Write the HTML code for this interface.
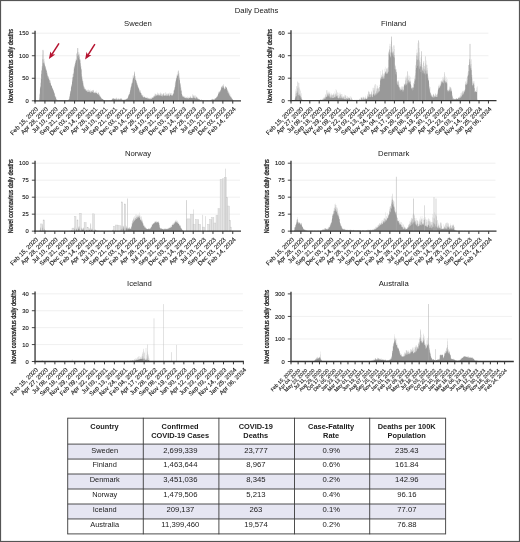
<!DOCTYPE html>
<html lang="en"><head><meta charset="utf-8"><title>Daily Deaths</title>
<style>html,body{margin:0;padding:0;background:#fff}svg{display:block}</style></head>
<body>
<svg width="520" height="542" viewBox="0 0 520 542" font-family="'Liberation Sans', Arial, Helvetica, sans-serif">
<rect x="0" y="0" width="520" height="542" fill="#fff"/>
<line x1="35.05" y1="78.27" x2="240" y2="78.27" stroke="#ececec" stroke-width="0.8"/>
<line x1="35.05" y1="55.73" x2="240" y2="55.73" stroke="#ececec" stroke-width="0.8"/>
<line x1="35.05" y1="33.2" x2="240" y2="33.2" stroke="#ececec" stroke-width="0.8"/>
<path d="M35.05 100.8V100.8H35.19V100.8H35.32V100.8H35.46V100.8H35.59V100.8H35.73V100.8H35.86V100.8H36V100.8H36.13V100.8H36.27V100.8H36.4V100.8H36.54V100.8H36.67V100.8H36.81V100.8H36.95V100.8H37.08V100.8H37.22V100.8H37.35V100.8H37.49V100.8H37.62V100.8H37.76V100.8H37.89V100.8H38.03V100.8H38.16V100.8H38.3V100.8H38.44V100.8H38.57V100.8H38.71V100.8H38.84V100.8H38.98V100.8H39.11V100.8H39.25V99.17H39.38V97.52H39.52V94.6H39.65V94.13H39.79V93.2H39.92V89.36H40.06V87.43H40.2V87.63H40.33V87.06H40.47V85.93H40.6V83.17H40.74V82.59H40.87V78.63H41.01V78.95H41.14V74.15H41.28V69.93H41.41V73.73H41.55V70.39H41.69V66.22H41.82V70.79H41.96V68.36H42.09V65.69H42.23V66.46H42.36V63.37H42.5V54.6H42.63V59.27H42.77V59.08H42.9V50.36H43.04V50.93H43.17V59.17H43.31V59.62H43.45V62.78H43.58V62.39H43.72V62.81H43.85V63.46H43.99V62.84H44.12V61.13H44.26V62.85H44.39V64.3H44.53V65.48H44.66V58.87H44.8V64.62H44.93V67.87H45.07V67.23H45.21V65.61H45.34V66.19H45.48V68.71H45.61V69.68H45.75V66.62H45.88V66.3H46.02V71.02H46.15V70.31H46.29V69.82H46.42V73.05H46.56V68.81H46.7V69.84H46.83V70.94H46.97V74.52H47.1V76.18H47.24V76.22H47.37V75.14H47.51V73.34H47.64V72.13H47.78V74.46H47.91V78.14H48.05V78.62H48.18V75.89H48.32V76.46H48.46V76.9H48.59V79.09H48.73V76.47H48.86V78.59H49V79.86H49.13V79.9H49.27V78.65H49.4V80.03H49.54V81.11H49.67V82.92H49.81V79.31H49.95V82.03H50.08V79.94H50.22V82.96H50.35V84.67H50.49V81.03H50.62V82.66H50.76V83.37H50.89V83.7H51.03V85.48H51.16V85.29H51.3V85.9H51.43V85.51H51.57V86.34H51.71V85.31H51.84V86.1H51.98V86.88H52.11V87.99H52.25V88.26H52.38V88.18H52.52V88.91H52.65V87.78H52.79V89.32H52.92V88.73H53.06V90.28H53.2V90.92H53.33V89.67H53.47V90.54H53.6V90.04H53.74V91.57H53.87V92.1H54.01V92.84H54.14V92.85H54.28V92.71H54.41V92.79H54.55V94.01H54.68V94.18H54.82V95.94H54.96V96.47H55.09V96.55H55.23V95.48H55.36V97.12H55.5V96.96H55.63V96.34H55.77V97.96H55.9V98.26H56.04V97.36H56.17V99.07H56.31V99.14H56.44V99.69H56.58V99.53H56.72V99.71H56.85V100.02H56.99V99.75H57.12V100.04H57.26V99.66H57.39V100.19H57.53V100.2H57.66V100.25H57.8V100.19H57.93V100.07H58.07V100.32H58.21V100.19H58.34V100.37H58.48V100.14H58.61V100.32H58.75V100.15H58.88V100.33H59.02V100.33H59.15V100.27H59.29V100.18H59.42V100.34H59.56V100.24H59.69V100.36H59.83V100.36H59.97V100.32H60.1V100.11H60.24V100.26H60.37V100.32H60.51V100.35H60.64V100.1H60.78V100.33H60.91V100H61.05V100.05H61.18V100.22H61.32V100.28H61.46V100.1H61.59V100.28H61.73V100.11H61.86V100.29H62V100.37H62.13V100.33H62.27V100.34H62.4V100.33H62.54V99.99H62.67V100.33H62.81V100.31H62.94V100.34H63.08V100.29H63.22V99.92H63.35V100.3H63.49V100.31H63.62V100.36H63.76V100.25H63.89V100.33H64.03V100.36H64.16V100.35H64.3V100.37H64.43V100.32H64.57V100.19H64.7V100.08H64.84V100.09H64.98V100.29H65.11V99.95H65.25V100.1H65.38V100.33H65.52V99.98H65.65V100.08H65.79V100.34H65.92V100.21H66.06V100.03H66.19V100.17H66.33V100.12H66.47V100.35H66.6V100.35H66.74V100.33H66.87V100.2H67.01V100.16H67.14V100.27H67.28V100.04H67.41V100.23H67.55V100.19H67.68V100.13H67.82V100.36H67.95V100.11H68.09V99.89H68.23V99.98H68.36V99.83H68.5V99.47H68.63V99.54H68.77V99.68H68.9V99.13H69.04V99.22H69.17V98.77H69.31V97.43H69.44V96.85H69.58V96.27H69.72V95.82H69.85V94.24H69.99V92.55H70.12V93.8H70.26V91.36H70.39V92.22H70.53V91.06H70.66V90.75H70.8V90.16H70.93V88.06H71.07V87.09H71.2V85.56H71.34V86.16H71.48V86.38H71.61V85.27H71.75V84.25H71.88V83.81H72.02V81.65H72.15V81.26H72.29V79.88H72.42V76.9H72.56V77.33H72.69V78.27H72.83V74.01H72.97V76.48H73.1V76.96H73.24V73.93H73.37V72.44H73.51V73.91H73.64V72.75H73.78V69.76H73.91V66.99H74.05V67.32H74.18V66.06H74.32V68.76H74.45V66.3H74.59V64.6H74.73V68.29H74.86V64.21H75V65.06H75.13V63.15H75.27V60.95H75.4V62.19H75.54V61.52H75.67V63.11H75.81V58.76H75.94V60.48H76.08V53.19H76.21V60.07H76.35V60.6H76.49V59.73H76.62V58.67H76.76V53.35H76.89V54.08H77.03V55.11H77.16V55.79H77.3V56.43H77.43V51.27H77.57V52.13H77.7V51.89H77.84V56.11H77.98V54.84H78.11V48.19H78.25V54.41H78.38V55.45H78.52V52.27H78.65V57.95H78.79V54.45H78.92V51.97H79.06V54.38H79.19V60.45H79.33V56.74H79.46V53.6H79.6V56.42H79.74V59.07H79.87V59.44H80.01V58.94H80.14V60.6H80.28V63.11H80.41V59.64H80.55V65.57H80.68V63.53H80.82V67.04H80.95V68.38H81.09V69.15H81.23V66.09H81.36V68.83H81.5V74.26H81.63V70.21H81.77V77.52H81.9V76.33H82.04V78.7H82.17V76.42H82.31V81.16H82.44V80.65H82.58V80.55H82.71V79.31H82.85V82.75H82.99V80.84H83.12V82.72H83.26V84.47H83.39V84.73H83.53V86.34H83.66V87.22H83.8V85.93H83.93V88.73H84.07V87.96H84.2V89.51H84.34V89.2H84.47V86.46H84.61V87.18H84.75V87.52H84.88V88.95H85.02V89.06H85.15V88.98H85.29V89.93H85.42V90.76H85.56V90.34H85.69V88.82H85.83V88.81H85.96V90.07H86.1V89.4H86.24V91.08H86.37V90.37H86.51V91.41H86.64V90.26H86.78V90.88H86.91V91.01H87.05V92.28H87.18V90.2H87.32V90.07H87.45V91.86H87.59V89.57H87.72V91.53H87.86V91.96H88V91.71H88.13V89.75H88.27V90.44H88.4V91.94H88.54V89.15H88.67V91.99H88.81V91.65H88.94V90.31H89.08V90.18H89.21V90.05H89.35V91.43H89.49V92.12H89.62V91.11H89.76V91.93H89.89V92.6H90.03V92.29H90.16V91.56H90.3V89.54H90.43V92.64H90.57V92.42H90.7V91.05H90.84V92.41H90.97V91.17H91.11V90.44H91.25V91.66H91.38V90.68H91.52V91.76H91.65V91.3H91.79V92.72H91.92V92.23H92.06V91.84H92.19V91.72H92.33V92.21H92.46V90.5H92.6V90.2H92.74V91.73H92.87V90.06H93.01V93H93.14V93.08H93.28V89.74H93.41V90.29H93.55V90.57H93.68V92.4H93.82V90.59H93.95V91.66H94.09V92.91H94.22V93.16H94.36V92.66H94.5V91.96H94.63V93.15H94.77V91.91H94.9V93H95.04V90.99H95.17V93.41H95.31V92.53H95.44V92.24H95.58V92.83H95.71V92.8H95.85V92.4H95.98V92.81H96.12V92.96H96.26V90.48H96.39V93.36H96.53V92.27H96.66V93.34H96.8V92.95H96.93V93.05H97.07V93.66H97.2V94.05H97.34V92.6H97.47V94.18H97.61V94H97.75V94.6H97.88V93.47H98.02V94.68H98.15V92.54H98.29V95.07H98.42V92.06H98.56V94.81H98.69V92.97H98.83V92.98H98.96V93.9H99.1V94.22H99.23V95.16H99.37V94.51H99.51V96.11H99.64V95.78H99.78V96.63H99.91V95.28H100.05V96.87H100.18V96.13H100.32V96.03H100.45V96.7H100.59V96.95H100.72V97.45H100.86V97.61H101V97.82H101.13V98.24H101.27V98.09H101.4V97.48H101.54V98.41H101.67V98.55H101.81V98.88H101.94V99.01H102.08V98.9H102.21V98.86H102.35V98.68H102.48V99.29H102.62V99.37H102.76V98.94H102.89V99.09H103.03V99.41H103.16V99.9H103.3V99.78H103.43V99.51H103.57V99.63H103.7V100.17H103.84V99.9H103.97V99.84H104.11V100H104.25V100.2H104.38V100.38H104.52V100.35H104.65V100.49H104.79V100.5H104.92V100.45H105.06V100.56H105.19V100.57H105.33V100.49H105.46V100.4H105.6V100.49H105.73V100.56H105.87V100.49H106.01V100.44H106.14V100.35H106.28V100.54H106.41V100.54H106.55V100.47H106.68V100.43H106.82V100.46H106.95V100.49H107.09V100.57H107.22V100.58H107.36V100.49H107.49V100.5H107.63V100.58H107.77V100.5H107.9V100.58H108.04V100.58H108.17V100.56H108.31V100.51H108.44V100.49H108.58V100.56H108.71V100.57H108.85V100.57H108.98V100.39H109.12V100.55H109.26V100.57H109.39V100.51H109.53V100.48H109.66V100.36H109.8V100.55H109.93V100.57H110.07V100.55H110.2V100.57H110.34V100.57H110.47V100.39H110.61V100.56H110.74V100.51H110.88V100.44H111.02V100.49H111.15V100.39H111.29V99.92H111.42V100.18H111.56V99.62H111.69V99.45H111.83V99.89H111.96V99.79H112.1V99.5H112.23V98.74H112.37V98.68H112.51V98.91H112.64V98.3H112.78V99.29H112.91V97.82H113.05V98.15H113.18V99.37H113.32V98.26H113.45V98.42H113.59V98H113.72V99.26H113.86V98.61H113.99V98.43H114.13V98.93H114.27V98.36H114.4V99.01H114.54V98.82H114.67V99.33H114.81V99.37H114.94V99.48H115.08V99.35H115.21V99.26H115.35V99.52H115.48V98.36H115.62V98.3H115.75V99.42H115.89V99.09H116.03V97.84H116.16V99.43H116.3V97.55H116.43V99.58H116.57V99.63H116.7V98.03H116.84V98.75H116.97V98.93H117.11V99.75H117.24V98.7H117.38V99.59H117.52V99.83H117.65V99.66H117.79V99.64H117.92V98.22H118.06V98.53H118.19V99.87H118.33V99.44H118.46V99.56H118.6V99.3H118.73V98.47H118.87V98.54H119V99.78H119.14V98.44H119.28V99.7H119.41V99.13H119.55V99.59H119.68V99.33H119.82V99.4H119.95V99.47H120.09V98.53H120.22V99.51H120.36V99.48H120.49V98.37H120.63V98.66H120.77V99.14H120.9V97.83H121.04V97.94H121.17V99.5H121.31V97.99H121.44V99.34H121.58V99.65H121.71V99.27H121.85V98.9H121.98V99.76H122.12V99.91H122.25V99.41H122.39V100.07H122.53V99.45H122.66V100.21H122.8V99.55H122.93V100.33H123.07V99.84H123.2V100.31H123.34V100.24H123.47V100.03H123.61V100.16H123.74V99.21H123.88V100.16H124.02V100.18H124.15V99.06H124.29V99.56H124.42V100.07H124.56V100.12H124.69V99.96H124.83V99.84H124.96V99.46H125.1V99.54H125.23V99.97H125.37V99.75H125.5V98.92H125.64V99.47H125.78V99.72H125.91V99.13H126.05V98.96H126.18V98.67H126.32V99.07H126.45V99.42H126.59V99.5H126.72V98.39H126.86V98.76H126.99V98.97H127.13V98.54H127.26V98.17H127.4V98.92H127.54V97.65H127.67V97.77H127.81V98.05H127.94V97.57H128.08V95.41H128.21V97.01H128.35V95.89H128.48V95.65H128.62V94.25H128.75V94.97H128.89V95.14H129.03V94.41H129.16V94.31H129.3V94.35H129.43V93.89H129.57V93.59H129.7V92.21H129.84V92.3H129.97V91.5H130.11V88.39H130.24V90.34H130.38V90.19H130.51V89.39H130.65V86.75H130.79V87.88H130.92V87.33H131.06V86.97H131.19V83.95H131.33V86.05H131.46V85.49H131.6V82.91H131.73V82.38H131.87V84.16H132V83.58H132.14V82.63H132.28V82.75H132.41V81.6H132.55V80.29H132.68V79.36H132.82V75.6H132.95V79.08H133.09V75H133.22V77.94H133.36V78.08H133.49V76.64H133.63V76.32H133.76V77.85H133.9V75.32H134.04V76.42H134.17V71.01H134.31V74.05H134.44V73.45H134.58V73.28H134.71V73.25H134.85V76.49H134.98V75.88H135.12V76.32H135.25V78.09H135.39V79.78H135.52V79.83H135.66V80.2H135.8V79.75H135.93V79.21H136.07V80.86H136.2V81.29H136.34V80.43H136.47V82.94H136.61V81.78H136.74V82.7H136.88V84.61H137.01V82.89H137.15V84.33H137.29V85.13H137.42V84.74H137.56V84.78H137.69V85.95H137.83V86.89H137.96V86.32H138.1V87.89H138.23V87.66H138.37V87H138.5V87.16H138.64V88.89H138.77V88.21H138.91V88.35H139.05V90.18H139.18V90.19H139.32V89.38H139.45V90.89H139.59V89.28H139.72V91.97H139.86V92.39H139.99V89.94H140.13V91.19H140.26V90.61H140.4V92.13H140.54V92.19H140.67V92.93H140.81V93.04H140.94V93.31H141.08V94.94H141.21V92.91H141.35V94.04H141.48V93.24H141.62V94.79H141.75V95.42H141.89V95.58H142.02V94.65H142.16V96.11H142.3V96.53H142.43V94.91H142.57V94.77H142.7V96.94H142.84V96.03H142.97V95.06H143.11V97.06H143.24V96.53H143.38V97.5H143.51V97.32H143.65V97.21H143.78V97.32H143.92V97.68H144.06V96.61H144.19V96.65H144.33V97.56H144.46V96.48H144.6V96.86H144.73V96.9H144.87V97.24H145V97.6H145.14V97.14H145.27V97.94H145.41V96.92H145.55V97.81H145.68V97.95H145.82V97.88H145.95V97.93H146.09V97.83H146.22V98.18H146.36V98.06H146.49V97.69H146.63V98.08H146.76V96.73H146.9V98.03H147.03V98.44H147.17V97.62H147.31V98.44H147.44V96.9H147.58V98.19H147.71V98.36H147.85V98.54H147.98V98.15H148.12V97.92H148.25V99H148.39V98.68H148.52V97.85H148.66V98.99H148.8V97.98H148.93V98.71H149.07V98.01H149.2V98.43H149.34V99.18H149.47V98.81H149.61V99.25H149.74V98.28H149.88V98.89H150.01V99.18H150.15V99.21H150.28V98.42H150.42V99.16H150.56V98.39H150.69V98.51H150.83V97.87H150.96V98.62H151.1V98.94H151.23V98.76H151.37V98.58H151.5V98.48H151.64V98.76H151.77V97.06H151.91V98.5H152.05V97.6H152.18V97.89H152.32V98.08H152.45V98.16H152.59V96.94H152.72V97.71H152.86V97.08H152.99V96.26H153.13V96.42H153.26V97.84H153.4V97.72H153.53V97.71H153.67V96.59H153.81V96.64H153.94V95.6H154.08V96.29H154.21V96.69H154.35V96.63H154.48V95.39H154.62V95.5H154.75V96.13H154.89V93.42H155.02V96.39H155.16V96.13H155.29V93.56H155.43V94.51H155.57V94.15H155.7V94.49H155.84V96.22H155.97V93.92H156.11V94.69H156.24V94.63H156.38V95.93H156.51V95.84H156.65V95.26H156.78V95.78H156.92V94.57H157.06V94.19H157.19V95.34H157.33V95.13H157.46V92.56H157.6V95.46H157.73V95.14H157.87V92.75H158V94.79H158.14V93.02H158.27V94.34H158.41V95.61H158.54V93.65H158.68V95.25H158.82V95.39H158.95V95.68H159.09V93.26H159.22V95.59H159.36V95.08H159.49V95.4H159.63V95.52H159.76V94.42H159.9V95.16H160.03V95.81H160.17V95.1H160.31V91.9H160.44V96.05H160.58V93.5H160.71V94.28H160.85V93.07H160.98V93.87H161.12V96.32H161.25V93.62H161.39V96.08H161.52V93.46H161.66V95.3H161.79V95.99H161.93V94.7H162.07V96.48H162.2V94.92H162.34V96.14H162.47V94.71H162.61V93.72H162.74V96.3H162.88V94.27H163.01V94.58H163.15V93.84H163.28V93.16H163.42V95.53H163.56V92.99H163.69V93.42H163.83V95.75H163.96V95.76H164.1V95.46H164.23V96.02H164.37V95.24H164.5V95.82H164.64V93.06H164.77V95.44H164.91V95.22H165.04V95.71H165.18V92.32H165.32V94.84H165.45V95.09H165.59V92.41H165.72V95.97H165.86V95.4H165.99V96.09H166.13V94.15H166.26V95.82H166.4V94.55H166.53V94.27H166.67V92.72H166.8V96.15H166.94V95H167.08V95.9H167.21V95.58H167.35V94.37H167.48V95.89H167.62V94.16H167.75V93.03H167.89V95.53H168.02V93.36H168.16V95.22H168.29V93.96H168.43V96H168.57V95.12H168.7V93.38H168.84V93.4H168.97V96.16H169.11V92.39H169.24V96.03H169.38V94.86H169.51V95.51H169.65V95.58H169.78V96.47H169.92V92.64H170.05V93H170.19V93.59H170.33V93.86H170.46V94.89H170.6V94.7H170.73V94.77H170.87V94.91H171V95.13H171.14V93.2H171.27V95.5H171.41V95.75H171.54V92.94H171.68V95.57H171.82V95.11H171.95V95.87H172.09V95.45H172.22V95.53H172.36V95.51H172.49V93.43H172.63V94.46H172.76V95.19H172.9V94.79H173.03V93.97H173.17V94.37H173.3V93.73H173.44V92.82H173.58V92.92H173.71V90.31H173.85V90.73H173.98V90.3H174.12V89.96H174.25V90.52H174.39V87.04H174.52V89.09H174.66V87.35H174.79V88.23H174.93V83.49H175.06V86.81H175.2V85.17H175.34V83.13H175.47V81.97H175.61V81.25H175.74V81.03H175.88V79.59H176.01V79.5H176.15V79.45H176.28V77.88H176.42V77.63H176.55V78.05H176.69V74.75H176.83V76.61H176.96V76.48H177.1V75.2H177.23V75.63H177.37V75.96H177.5V71.83H177.64V74.37H177.77V75.31H177.91V74.11H178.04V74.03H178.18V71.16H178.31V70.47H178.45V72.41H178.59V73.77H178.72V77.74H178.86V75.66H178.99V73.06H179.13V75.54H179.26V77.62H179.4V77.66H179.53V79.57H179.67V79.79H179.8V80.39H179.94V83.65H180.08V83.66H180.21V83.37H180.35V82.83H180.48V86.54H180.62V85.05H180.75V88.02H180.89V90.67H181.02V87.36H181.16V91.34H181.29V89.42H181.43V90.11H181.56V91.05H181.7V93.99H181.84V93.68H181.97V95.07H182.11V94.38H182.24V95.39H182.38V95.88H182.51V96.25H182.65V96.55H182.78V97.02H182.92V95.34H183.05V96.23H183.19V96.55H183.32V96.98H183.46V96.39H183.6V96.64H183.73V97.52H183.87V96.4H184V97.66H184.14V96.86H184.27V96.7H184.41V97.93H184.54V96.59H184.68V96.82H184.81V97.99H184.95V97.88H185.09V97.41H185.22V97.77H185.36V98.12H185.49V97.38H185.63V97.91H185.76V98.45H185.9V96.4H186.03V98.2H186.17V97.1H186.3V97.53H186.44V97.81H186.57V98.44H186.71V97.41H186.85V98.2H186.98V97.86H187.12V98.49H187.25V98.32H187.39V96.23H187.52V97.87H187.66V97.84H187.79V98.25H187.93V98.42H188.06V98.29H188.2V98.51H188.34V98.52H188.47V97.37H188.61V98.42H188.74V98.58H188.88V96.7H189.01V97.85H189.15V96.79H189.28V98.1H189.42V97.97H189.55V98.28H189.69V97.86H189.82V98.03H189.96V97.07H190.1V95.85H190.23V98.15H190.37V97.36H190.5V96.06H190.64V97.52H190.77V98.1H190.91V97.83H191.04V97.28H191.18V97.97H191.31V98.16H191.45V97.91H191.59V98.29H191.72V97.8H191.86V98.1H191.99V97.99H192.13V98.16H192.26V97.96H192.4V94.31H192.53V94.39H192.67V98.23H192.8V98.16H192.94V96.16H193.07V97.29H193.21V95.89H193.35V94.63H193.48V96.29H193.62V97.93H193.75V95.12H193.89V98.24H194.02V98.09H194.16V97.73H194.29V98.26H194.43V96.43H194.56V94.89H194.7V96.11H194.83V97.45H194.97V98.06H195.11V95.37H195.24V98.3H195.38V95.63H195.51V98.63H195.65V98.49H195.78V98.38H195.92V97.02H196.05V97.25H196.19V96.93H196.32V98.69H196.46V96.43H196.6V96.54H196.73V97.46H196.87V98.08H197V98.97H197.14V98.65H197.27V97.41H197.41V98.07H197.54V98.06H197.68V99.07H197.81V97.34H197.95V98.79H198.08V99.36H198.22V99.13H198.36V99.32H198.49V98.53H198.63V99.45H198.76V99.11H198.9V98.18H199.03V99.42H199.17V99.63H199.3V99.49H199.44V99.25H199.57V99.73H199.71V99.33H199.85V98.99H199.98V99.92H200.12V99.81H200.25V99.99H200.39V99.93H200.52V99.85H200.66V99.95H200.79V99.99H200.93V100.16H201.06V99.19H201.2V100.16H201.33V99.41H201.47V100.24H201.61V100.16H201.74V100.15H201.88V99.79H202.01V100.11H202.15V100.19H202.28V100.42H202.42V100.45H202.55V100.24H202.69V100.5H202.82V100.34H202.96V100.56H203.1V100.41H203.23V100.56H203.37V100.43H203.5V100.54H203.64V100.53H203.77V100.57H203.91V100.5H204.04V100.41H204.18V100.37H204.31V100.52H204.45V100.57H204.58V100.51H204.72V100.48H204.86V100.52H204.99V100.59H205.13V100.54H205.26V100.48H205.4V100.4H205.53V100.44H205.67V100.55H205.8V100.52H205.94V100.55H206.07V100.46H206.21V100.41H206.34V100.56H206.48V100.51H206.62V100.58H206.75V100.55H206.89V100.34H207.02V100.38H207.16V100.36H207.29V100.45H207.43V100.47H207.56V100.55H207.7V100.37H207.83V100.49H207.97V100.54H208.11V100.58H208.24V100.47H208.38V100.57H208.51V100.54H208.65V100.53H208.78V100.51H208.92V100.58H209.05V100.39H209.19V100.56H209.32V100.57H209.46V100.52H209.59V100.52H209.73V100.56H209.87V100.57H210V100.48H210.14V100.47H210.27V100.36H210.41V100.25H210.54V100.08H210.68V99.66H210.81V100.25H210.95V100.14H211.08V99.37H211.22V99.62H211.36V99.55H211.49V100H211.63V99.99H211.76V99.92H211.9V99.26H212.03V98.82H212.17V98.9H212.3V98.74H212.44V99.84H212.57V99.72H212.71V99.3H212.84V99.9H212.98V99.21H213.12V99.41H213.25V99.58H213.39V99.55H213.52V99.84H213.66V99.5H213.79V99.87H213.93V99.25H214.06V99.86H214.2V99.67H214.33V99.58H214.47V99.41H214.6V99.33H214.74V98.37H214.88V98.55H215.01V98.09H215.15V98.99H215.28V98.51H215.42V98.05H215.55V98.67H215.69V97.97H215.82V98.33H215.96V97.26H216.09V96.82H216.23V98.14H216.37V97.66H216.5V97.19H216.64V97.48H216.77V96.77H216.91V96.82H217.04V96.84H217.18V96.66H217.31V95.68H217.45V96.46H217.58V95.08H217.72V95.67H217.85V95.43H217.99V94.36H218.13V92.97H218.26V93.94H218.4V92.36H218.53V93.33H218.67V94.22H218.8V91.89H218.94V91.04H219.07V93.2H219.21V91.68H219.34V92H219.48V91.95H219.62V92.65H219.75V91.34H219.89V91.31H220.02V91.7H220.16V91.33H220.29V90.54H220.43V90.09H220.56V89.62H220.7V90.53H220.83V89.73H220.97V87.73H221.1V86.76H221.24V86.23H221.38V89.28H221.51V86.78H221.65V87.58H221.78V87.03H221.92V87.99H222.05V85.64H222.19V88.11H222.32V87.63H222.46V86.08H222.59V86.93H222.73V84.89H222.87V85.73H223V83.93H223.14V86.43H223.27V84.31H223.41V87.61H223.54V87.49H223.68V85.27H223.81V86.07H223.95V87.8H224.08V87.62H224.22V87.89H224.35V89.48H224.49V89.3H224.63V89.01H224.76V88.45H224.9V89.13H225.03V86.03H225.17V86.39H225.3V87.1H225.44V88.86H225.57V88.95H225.71V87.01H225.84V86.03H225.98V87.1H226.11V87.24H226.25V87.89H226.39V87.67H226.52V87.34H226.66V88.04H226.79V87.35H226.93V90.02H227.06V89.23H227.2V91.55H227.33V90.4H227.47V89.87H227.6V89.18H227.74V90.93H227.88V92.92H228.01V92.82H228.15V92.45H228.28V90.77H228.42V93.78H228.55V91.73H228.69V94.36H228.82V92.76H228.96V91.72H229.09V93.75H229.23V93.23H229.36V94.69H229.5V95.33H229.64V95.66H229.77V95.33H229.91V96.2H230.04V95.75H230.18V94.21H230.31V96.8H230.45V96.85H230.58V97.18H230.72V95.92H230.85V97.13H230.99V97.59H231.13V97.72H231.26V96.62H231.4V96.97H231.53V98.35H231.67V98.06H231.8V98.73H231.94V98.38H232.07V98.52H232.21V99.19H232.34V99.27H232.48V98.88H232.61V98.98H232.75V99.96H232.89V100.1H233.02V100.28H233.16V100.45H233.29V100.64H233.43V100.79H233.56V100.8H233.7V100.8H233.83V100.8H233.97V100.8H234.1V100.8H234.24V100.8H234.37V100.8H234.51V100.8H234.65V100.8H234.78V100.8H234.92V100.8H235.05V100.8H235.19V100.8H235.32V100.8H235.46V100.8H235.59V100.8H235.73V100.8H235.86V100.8H236V100.8H236.14V100.8H236.27V100.8H236.41V100.8H236.54V100.8H236.68V100.8H236.81V100.8H236.95V100.8H237.08V100.8H237.22V100.8H237.35V100.8H237.49V100.8H237.62V100.8H237.76V100.8H237.9V100.8H238.03V100.8H238.17V100.8H238.3V100.8H238.44V100.8H238.57V100.8H238.71V100.8H238.84V100.8H238.98V100.8H239.11V100.8H239.25V100.8H239.39V100.8H239.52V100.8H239.66V100.8H239.79V100.8H239.93V100.8H240.06V100.8H240.2V100.8H240.33V100.8H240.47V100.8H240.6V100.8H240.74V100.8H240.87V100.8Z" fill="#999999"/>
<rect x="42.7" y="49.87" width="0.6" height="50.93" fill="#b0b0b0"/>
<rect x="77.2" y="48.07" width="0.6" height="52.73" fill="#b0b0b0"/>
<rect x="134.05" y="71.96" width="0.5" height="28.84" fill="#b4b4b4"/>
<rect x="177.95" y="70.61" width="0.5" height="30.19" fill="#b4b4b4"/>
<line x1="35.05" y1="30.7" x2="35.05" y2="101.45" stroke="#333333" stroke-width="1.3"/>
<line x1="34.4" y1="100.8" x2="241" y2="100.8" stroke="#333333" stroke-width="1.3"/>
<line x1="31.85" y1="100.8" x2="35.05" y2="100.8" stroke="#333333" stroke-width="0.9"/>
<text transform="translate(28.75 102.9) scale(0.1)" font-size="58" text-anchor="end" stroke="#1a1a1a" stroke-width="1.2" fill="#1a1a1a">0</text>
<line x1="31.85" y1="78.27" x2="35.05" y2="78.27" stroke="#333333" stroke-width="0.9"/>
<text transform="translate(28.75 80.37) scale(0.1)" font-size="58" text-anchor="end" stroke="#1a1a1a" stroke-width="1.2" fill="#1a1a1a">50</text>
<line x1="31.85" y1="55.73" x2="35.05" y2="55.73" stroke="#333333" stroke-width="0.9"/>
<text transform="translate(28.75 57.83) scale(0.1)" font-size="58" text-anchor="end" stroke="#1a1a1a" stroke-width="1.2" fill="#1a1a1a">100</text>
<line x1="31.85" y1="33.2" x2="35.05" y2="33.2" stroke="#333333" stroke-width="0.9"/>
<text transform="translate(28.75 35.3) scale(0.1)" font-size="58" text-anchor="end" stroke="#1a1a1a" stroke-width="1.2" fill="#1a1a1a">150</text>
<line x1="35.05" y1="100.8" x2="35.05" y2="103.6" stroke="#333333" stroke-width="1"/>
<text transform="translate(38.45 109.6) rotate(-45) scale(0.1)" font-size="62" text-anchor="end" stroke="#1a1a1a" stroke-width="1.2" fill="#1a1a1a">Feb 15, 2020</text>
<line x1="44.93" y1="100.8" x2="44.93" y2="103.6" stroke="#333333" stroke-width="1"/>
<text transform="translate(48.33 109.6) rotate(-45) scale(0.1)" font-size="62" text-anchor="end" stroke="#1a1a1a" stroke-width="1.2" fill="#1a1a1a">Apr 28, 2020</text>
<line x1="54.82" y1="100.8" x2="54.82" y2="103.6" stroke="#333333" stroke-width="1"/>
<text transform="translate(58.22 109.6) rotate(-45) scale(0.1)" font-size="62" text-anchor="end" stroke="#1a1a1a" stroke-width="1.2" fill="#1a1a1a">Jul 10, 2020</text>
<line x1="64.7" y1="100.8" x2="64.7" y2="103.6" stroke="#333333" stroke-width="1"/>
<text transform="translate(68.11 109.6) rotate(-45) scale(0.1)" font-size="62" text-anchor="end" stroke="#1a1a1a" stroke-width="1.2" fill="#1a1a1a">Sep 21, 2020</text>
<line x1="74.59" y1="100.8" x2="74.59" y2="103.6" stroke="#333333" stroke-width="1"/>
<text transform="translate(77.99 109.6) rotate(-45) scale(0.1)" font-size="62" text-anchor="end" stroke="#1a1a1a" stroke-width="1.2" fill="#1a1a1a">Dec 03, 2020</text>
<line x1="84.47" y1="100.8" x2="84.47" y2="103.6" stroke="#333333" stroke-width="1"/>
<text transform="translate(87.88 109.6) rotate(-45) scale(0.1)" font-size="62" text-anchor="end" stroke="#1a1a1a" stroke-width="1.2" fill="#1a1a1a">Feb 14, 2021</text>
<line x1="94.36" y1="100.8" x2="94.36" y2="103.6" stroke="#333333" stroke-width="1"/>
<text transform="translate(97.76 109.6) rotate(-45) scale(0.1)" font-size="62" text-anchor="end" stroke="#1a1a1a" stroke-width="1.2" fill="#1a1a1a">Apr 28, 2021</text>
<line x1="104.24" y1="100.8" x2="104.24" y2="103.6" stroke="#333333" stroke-width="1"/>
<text transform="translate(107.64 109.6) rotate(-45) scale(0.1)" font-size="62" text-anchor="end" stroke="#1a1a1a" stroke-width="1.2" fill="#1a1a1a">Jul 10, 2021</text>
<line x1="114.13" y1="100.8" x2="114.13" y2="103.6" stroke="#333333" stroke-width="1"/>
<text transform="translate(117.53 109.6) rotate(-45) scale(0.1)" font-size="62" text-anchor="end" stroke="#1a1a1a" stroke-width="1.2" fill="#1a1a1a">Sep 21, 2021</text>
<line x1="124.02" y1="100.8" x2="124.02" y2="103.6" stroke="#333333" stroke-width="1"/>
<text transform="translate(127.42 109.6) rotate(-45) scale(0.1)" font-size="62" text-anchor="end" stroke="#1a1a1a" stroke-width="1.2" fill="#1a1a1a">Dec 03, 2021</text>
<line x1="133.9" y1="100.8" x2="133.9" y2="103.6" stroke="#333333" stroke-width="1"/>
<text transform="translate(137.3 109.6) rotate(-45) scale(0.1)" font-size="62" text-anchor="end" stroke="#1a1a1a" stroke-width="1.2" fill="#1a1a1a">Feb 14, 2022</text>
<line x1="143.78" y1="100.8" x2="143.78" y2="103.6" stroke="#333333" stroke-width="1"/>
<text transform="translate(147.19 109.6) rotate(-45) scale(0.1)" font-size="62" text-anchor="end" stroke="#1a1a1a" stroke-width="1.2" fill="#1a1a1a">Apr 28, 2022</text>
<line x1="153.67" y1="100.8" x2="153.67" y2="103.6" stroke="#333333" stroke-width="1"/>
<text transform="translate(157.07 109.6) rotate(-45) scale(0.1)" font-size="62" text-anchor="end" stroke="#1a1a1a" stroke-width="1.2" fill="#1a1a1a">Jul 10, 2022</text>
<line x1="163.56" y1="100.8" x2="163.56" y2="103.6" stroke="#333333" stroke-width="1"/>
<text transform="translate(166.96 109.6) rotate(-45) scale(0.1)" font-size="62" text-anchor="end" stroke="#1a1a1a" stroke-width="1.2" fill="#1a1a1a">Sep 21, 2022</text>
<line x1="173.44" y1="100.8" x2="173.44" y2="103.6" stroke="#333333" stroke-width="1"/>
<text transform="translate(176.84 109.6) rotate(-45) scale(0.1)" font-size="62" text-anchor="end" stroke="#1a1a1a" stroke-width="1.2" fill="#1a1a1a">Dec 03, 2022</text>
<line x1="183.32" y1="100.8" x2="183.32" y2="103.6" stroke="#333333" stroke-width="1"/>
<text transform="translate(186.72 109.6) rotate(-45) scale(0.1)" font-size="62" text-anchor="end" stroke="#1a1a1a" stroke-width="1.2" fill="#1a1a1a">Feb 14, 2023</text>
<line x1="193.21" y1="100.8" x2="193.21" y2="103.6" stroke="#333333" stroke-width="1"/>
<text transform="translate(196.61 109.6) rotate(-45) scale(0.1)" font-size="62" text-anchor="end" stroke="#1a1a1a" stroke-width="1.2" fill="#1a1a1a">Apr 28, 2023</text>
<line x1="203.09" y1="100.8" x2="203.09" y2="103.6" stroke="#333333" stroke-width="1"/>
<text transform="translate(206.49 109.6) rotate(-45) scale(0.1)" font-size="62" text-anchor="end" stroke="#1a1a1a" stroke-width="1.2" fill="#1a1a1a">Jul 10, 2023</text>
<line x1="212.98" y1="100.8" x2="212.98" y2="103.6" stroke="#333333" stroke-width="1"/>
<text transform="translate(216.38 109.6) rotate(-45) scale(0.1)" font-size="62" text-anchor="end" stroke="#1a1a1a" stroke-width="1.2" fill="#1a1a1a">Sep 21, 2023</text>
<line x1="222.87" y1="100.8" x2="222.87" y2="103.6" stroke="#333333" stroke-width="1"/>
<text transform="translate(226.27 109.6) rotate(-45) scale(0.1)" font-size="62" text-anchor="end" stroke="#1a1a1a" stroke-width="1.2" fill="#1a1a1a">Dec 03, 2023</text>
<line x1="232.75" y1="100.8" x2="232.75" y2="103.6" stroke="#333333" stroke-width="1"/>
<text transform="translate(236.15 109.6) rotate(-45) scale(0.1)" font-size="62" text-anchor="end" stroke="#1a1a1a" stroke-width="1.2" fill="#1a1a1a">Feb 14, 2024</text>
<text transform="translate(13.25 66) rotate(-90) scale(0.1)" font-size="63" text-anchor="middle" textLength="740" lengthAdjust="spacingAndGlyphs" stroke="#1a1a1a" stroke-width="2.5" fill="#1a1a1a">Novel coronavirus daily deaths</text>
<text transform="translate(138 25.5) scale(0.1)" font-size="77" text-anchor="middle" fill="#1a1a1a">Sweden</text>
<line x1="291" y1="78.2" x2="488.4" y2="78.2" stroke="#ececec" stroke-width="0.8"/>
<line x1="291" y1="55.7" x2="488.4" y2="55.7" stroke="#ececec" stroke-width="0.8"/>
<line x1="291" y1="33.2" x2="488.4" y2="33.2" stroke="#ececec" stroke-width="0.8"/>
<path d="M291 100.7V100.7H291.13V100.7H291.26V100.7H291.39V100.7H291.52V100.7H291.65V100.7H291.78V100.7H291.91V100.7H292.04V100.7H292.18V100.7H292.31V100.7H292.44V100.7H292.57V100.7H292.7V100.7H292.83V100.7H292.96V100.7H293.09V100.7H293.22V100.7H293.35V100.7H293.48V100.7H293.61V100.7H293.74V100.7H293.87V100.7H294V100.7H294.13V100.7H294.26V100.7H294.4V100.7H294.53V100.19H294.66V100.11H294.79V98.27H294.92V99.1H295.05V98.32H295.18V96.31H295.31V97.39H295.44V93.82H295.57V96.73H295.7V91.28H295.83V89.16H295.96V95.79H296.09V96.16H296.22V90.65H296.35V93.19H296.48V86.16H296.62V96.61H296.75V92.84H296.88V85.81H297.01V91.65H297.14V92.47H297.27V90.98H297.4V88.27H297.53V93.18H297.66V88.27H297.79V86.15H297.92V95.28H298.05V94.98H298.18V95.27H298.31V86.66H298.44V94.87H298.57V87.92H298.7V95.27H298.83V92.74H298.97V82.96H299.1V87.15H299.23V94.43H299.36V96.21H299.49V95.57H299.62V95.5H299.75V88.83H299.88V94.03H300.01V97.45H300.14V89.8H300.27V91.11H300.4V97.63H300.53V95.41H300.66V96.27H300.79V95.67H300.92V94.14H301.05V93.09H301.19V99.19H301.32V97.38H301.45V97.55H301.58V99.13H301.71V99.31H301.84V97.37H301.97V99.26H302.1V99.61H302.23V100.46H302.36V99.98H302.49V99.88H302.62V100.26H302.75V99.75H302.88V99.97H303.01V100.16H303.14V100.58H303.27V99.99H303.41V99.88H303.54V100.68H303.67V100.04H303.8V100.49H303.93V100.6H304.06V100.25H304.19V100.69H304.32V100.7H304.45V100.6H304.58V100.38H304.71V100.41H304.84V100.05H304.97V100.16H305.1V100.16H305.23V100.56H305.36V100.56H305.49V100.65H305.63V100.69H305.76V100.32H305.89V100.39H306.02V100.28H306.15V100.15H306.28V100.18H306.41V100.63H306.54V100.37H306.67V100.26H306.8V100.55H306.93V100.5H307.06V100.69H307.19V100.65H307.32V100.39H307.45V100.36H307.58V100.53H307.71V100.64H307.85V100.54H307.98V100.65H308.11V100.67H308.24V100.68H308.37V100.66H308.5V100.58H308.63V100.57H308.76V100.55H308.89V100.7H309.02V100.69H309.15V100.69H309.28V100.64H309.41V100.52H309.54V100.68H309.67V100.64H309.8V100.4H309.93V100.69H310.07V100.4H310.2V100.58H310.33V100.69H310.46V100.68H310.59V100.58H310.72V100.67H310.85V100.67H310.98V100.66H311.11V100.57H311.24V100.7H311.37V100.57H311.5V100.54H311.63V100.66H311.76V100.68H311.89V100.7H312.02V100.56H312.15V100.36H312.29V100.53H312.42V100.51H312.55V100.47H312.68V100.66H312.81V100.29H312.94V100.5H313.07V100.39H313.2V100.38H313.33V100.32H313.46V100.29H313.59V100.6H313.72V100.66H313.85V100.47H313.98V100.63H314.11V100.67H314.24V100.62H314.37V100.2H314.5V100.56H314.64V100.36H314.77V100.39H314.9V100.67H315.03V100.31H315.16V100.69H315.29V100.62H315.42V100.21H315.55V100.4H315.68V100.31H315.81V100.25H315.94V100.31H316.07V100.49H316.2V100.31H316.33V100.29H316.46V100.2H316.59V100.24H316.72V100.18H316.86V100.65H316.99V100.66H317.12V100.56H317.25V100.53H317.38V100.4H317.51V100.58H317.64V100.32H317.77V100.18H317.9V100.58H318.03V100.4H318.16V100.58H318.29V100.19H318.42V100.66H318.55V100.65H318.68V100.14H318.81V100.31H318.94V100.5H319.08V100.46H319.21V100.24H319.34V100.57H319.47V100.1H319.6V100.1H319.73V100.52H319.86V100.53H319.99V100.48H320.12V99.61H320.25V100.41H320.38V100.01H320.51V100.26H320.64V99.46H320.77V99.41H320.9V99.66H321.03V100.08H321.16V100.35H321.3V100.07H321.43V100.29H321.56V100.37H321.69V99.37H321.82V100.09H321.95V99.21H322.08V100.3H322.21V99.86H322.34V99.95H322.47V99.46H322.6V99.57H322.73V98.55H322.86V99.71H322.99V100.04H323.12V98.91H323.25V99.41H323.38V98H323.52V98.59H323.65V99.59H323.78V97.34H323.91V99.73H324.04V98.83H324.17V99.15H324.3V98.42H324.43V97.87H324.56V98.58H324.69V96.47H324.82V97.25H324.95V98.79H325.08V97.14H325.21V98.76H325.34V97.03H325.47V95.49H325.6V98.38H325.74V94.03H325.87V94.74H326V97.27H326.13V96.95H326.26V90.1H326.39V97.03H326.52V90.57H326.65V96.22H326.78V97.25H326.91V95.78H327.04V90.23H327.17V96.61H327.3V95.08H327.43V93.43H327.56V96.41H327.69V92.45H327.82V94.27H327.96V92.69H328.09V95.68H328.22V94.81H328.35V93.93H328.48V92.72H328.61V91.56H328.74V95.73H328.87V96.63H329V97.26H329.13V92.53H329.26V95.66H329.39V97.48H329.52V93.87H329.65V94.33H329.78V93.41H329.91V91.51H330.04V96.93H330.18V93.66H330.31V97.6H330.44V96.04H330.57V94.93H330.7V98.17H330.83V98.36H330.96V96.53H331.09V95.53H331.22V97.18H331.35V97.68H331.48V94.24H331.61V98.16H331.74V94.69H331.87V92.97H332V94.46H332.13V95.19H332.26V98.19H332.39V94.82H332.53V97.88H332.66V95.46H332.79V97.82H332.92V98.06H333.05V94.55H333.18V93.67H333.31V94.74H333.44V93.05H333.57V98.12H333.7V97.92H333.83V98H333.96V94.96H334.09V97.79H334.22V97.78H334.35V94.28H334.48V96.47H334.61V96.95H334.75V96.9H334.88V91.61H335.01V97.39H335.14V97.44H335.27V95.62H335.4V93.05H335.53V93.88H335.66V94.57H335.79V96.63H335.92V88.84H336.05V90.18H336.18V90.41H336.31V95.72H336.44V95.68H336.57V93.72H336.7V96.87H336.83V96.55H336.97V97.5H337.1V95.91H337.23V97.64H337.36V97.87H337.49V95.81H337.62V92.29H337.75V92.61H337.88V95H338.01V98.48H338.14V98.35H338.27V95.02H338.4V97.89H338.53V98.14H338.66V92.69H338.79V98.51H338.92V97.23H339.05V94.16H339.19V98.43H339.32V98.1H339.45V96.41H339.58V92.58H339.71V96.41H339.84V98.36H339.97V95.91H340.1V98.09H340.23V98.39H340.36V94.58H340.49V92.39H340.62V94.91H340.75V93.92H340.88V98.56H341.01V98.18H341.14V97.7H341.27V94.11H341.41V97.32H341.54V93.93H341.67V98.75H341.8V96.03H341.93V97.12H342.06V98.54H342.19V94.33H342.32V98.76H342.45V98.83H342.58V97.53H342.71V96.46H342.84V97.88H342.97V96.34H343.1V97.68H343.23V96.41H343.36V98.62H343.49V96.48H343.63V98.88H343.76V97.3H343.89V98.65H344.02V98.84H344.15V95.83H344.28V96.94H344.41V99.34H344.54V94.53H344.67V99.39H344.8V98.85H344.93V99H345.06V95.2H345.19V95.57H345.32V99.35H345.45V96.82H345.58V95.01H345.71V99.22H345.85V99.35H345.98V99.44H346.11V95.71H346.24V99.59H346.37V97.92H346.5V98.28H346.63V97.8H346.76V99.73H346.89V98.27H347.02V98.99H347.15V97.41H347.28V96.59H347.41V98.82H347.54V97.96H347.67V98.99H347.8V95.91H347.93V99.32H348.06V97.44H348.2V97.1H348.33V99.32H348.46V97.64H348.59V98.23H348.72V97.74H348.85V100.1H348.98V98H349.11V98.86H349.24V99.29H349.37V98.16H349.5V97.74H349.63V96.62H349.76V98.1H349.89V98.03H350.02V99.23H350.15V100.02H350.28V99.23H350.42V99.93H350.55V99.66H350.68V100.26H350.81V96.25H350.94V96.55H351.07V97.27H351.2V98.16H351.33V100.1H351.46V100.45H351.59V97.75H351.72V100.03H351.85V98.63H351.98V98.79H352.11V100.5H352.24V100.27H352.37V100.24H352.5V99.02H352.64V100.1H352.77V100.16H352.9V100.42H353.03V100.07H353.16V100.68H353.29V100.56H353.42V100.7H353.55V100.03H353.68V100.64H353.81V100.09H353.94V100H354.07V100.6H354.2V100.7H354.33V100.62H354.46V99.62H354.59V100.23H354.72V100.22H354.86V100.56H354.99V100.69H355.12V100.51H355.25V100.67H355.38V99.61H355.51V100.57H355.64V100.64H355.77V100.55H355.9V100.11H356.03V100.08H356.16V99.72H356.29V99.92H356.42V99.91H356.55V99.81H356.68V100.14H356.81V100.7H356.94V99.79H357.08V100.14H357.21V100.16H357.34V100.66H357.47V99.62H357.6V100.15H357.73V100.62H357.86V100.7H357.99V100.65H358.12V100.41H358.25V100.56H358.38V100.43H358.51V100.03H358.64V100.33H358.77V100.25H358.9V99.25H359.03V100.28H359.16V99.94H359.3V99.25H359.43V98.53H359.56V98.93H359.69V100.03H359.82V99.56H359.95V99.35H360.08V100.1H360.21V99.35H360.34V99.87H360.47V100.05H360.6V99.56H360.73V97.39H360.86V100.05H360.99V98.2H361.12V97.46H361.25V97.8H361.38V97.2H361.51V99.77H361.65V97.64H361.78V99.96H361.91V97.19H362.04V98.2H362.17V99.14H362.3V99.7H362.43V99.4H362.56V96.68H362.69V99.78H362.82V98.25H362.95V99.88H363.08V97.8H363.21V99.57H363.34V98.33H363.47V99.67H363.6V96.5H363.73V97.13H363.87V96.94H364V99.48H364.13V96.91H364.26V99.51H364.39V98.86H364.52V99.39H364.65V98.01H364.78V98.75H364.91V99.48H365.04V99.2H365.17V98.15H365.3V98.18H365.43V97.83H365.56V96.74H365.69V95.57H365.82V98.9H365.95V98.74H366.09V98.57H366.22V99.22H366.35V98.92H366.48V99.11H366.61V98.72H366.74V97.52H366.87V98.95H367V98.69H367.13V98.6H367.26V96.85H367.39V94.46H367.52V97.69H367.65V95.53H367.78V96.05H367.91V93.93H368.04V91.63H368.17V91.62H368.31V97.11H368.44V97.39H368.57V96.64H368.7V90.79H368.83V95.82H368.96V92.1H369.09V94.16H369.22V97.27H369.35V94.05H369.48V92.46H369.61V91.54H369.74V97.08H369.87V95.02H370V94H370.13V96.82H370.26V95H370.39V97.15H370.53V94.37H370.66V93.7H370.79V97.33H370.92V93.71H371.05V94.39H371.18V90.77H371.31V96.8H371.44V91.43H371.57V95.59H371.7V91.99H371.83V93.45H371.96V93.68H372.09V97.14H372.22V96.7H372.35V97.22H372.48V95.14H372.61V96.78H372.75V87.76H372.88V94.85H373.01V94.29H373.14V93.76H373.27V90.83H373.4V93.84H373.53V87.63H373.66V89.81H373.79V87.84H373.92V95.12H374.05V94.43H374.18V85.63H374.31V84.56H374.44V90.57H374.57V95.69H374.7V88.17H374.83V95.7H374.97V94.62H375.1V95.5H375.23V93.73H375.36V83.94H375.49V94.42H375.62V84.18H375.75V92.96H375.88V93.13H376.01V91.62H376.14V94.78H376.27V94.27H376.4V89.18H376.53V92.88H376.66V88.24H376.79V91.33H376.92V84.9H377.05V94.06H377.19V88.49H377.32V88.3H377.45V86.14H377.58V93.09H377.71V92.42H377.84V85.73H377.97V92.57H378.1V87.83H378.23V92.7H378.36V89.25H378.49V88.36H378.62V91.47H378.75V88.57H378.88V91.87H379.01V91.49H379.14V87.03H379.27V86.89H379.4V91.2H379.54V87.13H379.67V91.29H379.8V84.49H379.93V84.9H380.06V80.76H380.19V79.45H380.32V78.96H380.45V80.3H380.58V77.7H380.71V70.92H380.84V77.9H380.97V78.89H381.1V76.88H381.23V74.49H381.36V75.17H381.49V79.19H381.62V77.37H381.76V75.8H381.89V77.81H382.02V73.56H382.15V77.49H382.28V70.33H382.41V76.45H382.54V76.23H382.67V79.03H382.8V69.54H382.93V78.43H383.06V75.68H383.19V77.76H383.32V73.62H383.45V78.61H383.58V77.02H383.71V78.89H383.84V74.51H383.98V79.29H384.11V77.81H384.24V73.58H384.37V75.94H384.5V73.51H384.63V75.35H384.76V68.85H384.89V73.14H385.02V66.74H385.15V70.93H385.28V72.09H385.41V71.74H385.54V71.4H385.67V72.54H385.8V73.27H385.93V74.04H386.06V73.73H386.2V68.49H386.33V69.36H386.46V73.09H386.59V74.07H386.72V71.44H386.85V68.25H386.98V73.25H387.11V69.59H387.24V68.21H387.37V67.44H387.5V73.65H387.63V73.09H387.76V73.86H387.89V71.93H388.02V71.82H388.15V67.2H388.28V71.71H388.42V59.8H388.55V51.2H388.68V52.6H388.81V53.52H388.94V52.04H389.07V54.58H389.2V50.14H389.33V46.12H389.46V49.49H389.59V43.82H389.72V49.11H389.85V54.82H389.98V51.82H390.11V52.68H390.24V43.97H390.37V56.13H390.5V56.97H390.64V56.35H390.77V46.14H390.9V58.11H391.03V46.87H391.16V51.28H391.29V39.67H391.42V52.63H391.55V42.01H391.68V40.84H391.81V51.88H391.94V52.93H392.07V48.78H392.2V52.27H392.33V51.61H392.46V52.75H392.59V55.55H392.72V46.82H392.86V54.33H392.99V56.32H393.12V53.59H393.25V56.95H393.38V51.9H393.51V51.14H393.64V54.72H393.77V51.21H393.9V44.69H394.03V55.04H394.16V48.98H394.29V57.82H394.42V55.02H394.55V57.1H394.68V58.23H394.81V69.11H394.94V64.57H395.07V68.74H395.21V66.06H395.34V66.68H395.47V70.14H395.6V74.13H395.73V69.4H395.86V65.26H395.99V69.42H396.12V71.96H396.25V69.09H396.38V71.52H396.51V73.62H396.64V72.04H396.77V75.27H396.9V83.51H397.03V80.62H397.16V85.04H397.29V83.75H397.43V81.64H397.56V84.88H397.69V81.16H397.82V81.45H397.95V84.45H398.08V81.14H398.21V80.07H398.34V86.82H398.47V81.29H398.6V86.22H398.73V82.32H398.86V85.08H398.99V86.64H399.12V86.69H399.25V84.37H399.38V87.23H399.51V87.58H399.65V88.2H399.78V90.3H399.91V88.58H400.04V88.39H400.17V89.55H400.3V88.95H400.43V91.02H400.56V87.01H400.69V89.84H400.82V89.77H400.95V88.09H401.08V90.3H401.21V89.52H401.34V86.39H401.47V89.95H401.6V86.4H401.73V90.06H401.87V88.9H402V87.2H402.13V91.21H402.26V86.54H402.39V88.8H402.52V89.93H402.65V89.52H402.78V91.58H402.91V86.31H403.04V91.71H403.17V89.96H403.3V90.12H403.43V90.66H403.56V86.48H403.69V89.24H403.82V86.85H403.95V82.83H404.09V85.08H404.22V83.98H404.35V83.98H404.48V84.03H404.61V84.94H404.74V86.06H404.87V84.79H405V85.54H405.13V85.61H405.26V79.63H405.39V76.4H405.52V80.74H405.65V83.9H405.78V83.14H405.91V77.76H406.04V83.48H406.17V75.54H406.31V78.8H406.44V85.15H406.57V84.87H406.7V77.4H406.83V84.44H406.96V83.06H407.09V76.3H407.22V80.54H407.35V81.11H407.48V83.13H407.61V71.17H407.74V78.39H407.87V83.65H408V81.13H408.13V83.21H408.26V79.49H408.39V80.21H408.52V79.73H408.66V75.7H408.79V81.95H408.92V74.48H409.05V75.97H409.18V83.3H409.31V80.94H409.44V82.09H409.57V78.26H409.7V82.44H409.83V81.48H409.96V80.53H410.09V81.47H410.22V76.83H410.35V82.01H410.48V84.03H410.61V80.69H410.74V84.74H410.88V83.68H411.01V87.64H411.14V88.21H411.27V88.3H411.4V88.17H411.53V86.08H411.66V84.93H411.79V89.16H411.92V87.41H412.05V88.23H412.18V86.71H412.31V87.9H412.44V90.49H412.57V86.99H412.7V88.44H412.83V87.57H412.96V90.34H413.1V87.61H413.23V87.62H413.36V87.98H413.49V82.98H413.62V86.91H413.75V82.86H413.88V84.6H414.01V83.96H414.14V84.36H414.27V81.31H414.4V81.35H414.53V75.83H414.66V78.93H414.79V78.47H414.92V79.54H415.05V80.37H415.18V78.58H415.32V73.23H415.45V75.31H415.58V64.82H415.71V65.52H415.84V69.75H415.97V61.59H416.1V68.05H416.23V67.85H416.36V55.36H416.49V59.26H416.62V55.77H416.75V53.04H416.88V49.47H417.01V59.41H417.14V53.46H417.27V65.89H417.4V52.35H417.54V56.14H417.67V60.08H417.8V43.22H417.93V65.61H418.06V58.86H418.19V67.52H418.32V59.99H418.45V64.77H418.58V55.87H418.71V58.5H418.84V48.07H418.97V42.17H419.1V66.52H419.23V48.01H419.36V61.42H419.49V69.26H419.62V68.62H419.76V60.05H419.89V52.17H420.02V64.1H420.15V61.89H420.28V57.43H420.41V66.48H420.54V65.91H420.67V66.76H420.8V72H420.93V65.41H421.06V66.67H421.19V55.73H421.32V59.1H421.45V51.73H421.58V63.67H421.71V71.92H421.84V56.73H421.98V67.75H422.11V66.95H422.24V64.68H422.37V73.21H422.5V70.39H422.63V70.63H422.76V69.82H422.89V69.49H423.02V62.52H423.15V68.54H423.28V62.79H423.41V72.16H423.54V73.41H423.67V71.03H423.8V60.79H423.93V61.04H424.06V68.82H424.19V65.67H424.33V69.81H424.46V73.48H424.59V74.2H424.72V66H424.85V72.95H424.98V66.73H425.11V69.57H425.24V75.12H425.37V70.66H425.5V64.27H425.63V62.92H425.76V73.49H425.89V71.11H426.02V65.02H426.15V64.57H426.28V69.81H426.41V60.47H426.55V74.36H426.68V74.05H426.81V72.99H426.94V71.33H427.07V67.96H427.2V73.73H427.33V73.31H427.46V64.66H427.59V74.55H427.72V77.86H427.85V70.03H427.98V77.83H428.11V79.45H428.24V80.21H428.37V75.83H428.5V80.7H428.63V79.6H428.77V81.58H428.9V80.35H429.03V86H429.16V87.59H429.29V83.71H429.42V88.62H429.55V87.24H429.68V89.24H429.81V90.55H429.94V92.19H430.07V86.9H430.2V93.66H430.33V93.28H430.46V92.8H430.59V92.98H430.72V92H430.85V95.38H430.99V95.47H431.12V94.22H431.25V94.73H431.38V96.62H431.51V94.5H431.64V96.62H431.77V95.43H431.9V96.44H432.03V96.49H432.16V96.72H432.29V96.85H432.42V97.37H432.55V95.1H432.68V97.44H432.81V96.36H432.94V97.27H433.07V98.04H433.21V97.17H433.34V94.51H433.47V94.47H433.6V94.69H433.73V93.74H433.86V93.74H433.99V97.58H434.12V96.53H434.25V96.91H434.38V95.85H434.51V97.25H434.64V96.09H434.77V95.05H434.9V95.84H435.03V93.48H435.16V93.37H435.29V97.05H435.43V95.75H435.56V97.04H435.69V93.91H435.82V95.77H435.95V97.29H436.08V96.72H436.21V96.49H436.34V94.41H436.47V96.99H436.6V94.74H436.73V94.89H436.86V97.12H436.99V96.8H437.12V92.71H437.25V94.61H437.38V94.31H437.51V96.82H437.65V93.74H437.78V91.55H437.91V90.29H438.04V87.2H438.17V85.95H438.3V89.04H438.43V88.61H438.56V89.95H438.69V88.36H438.82V85.53H438.95V84.23H439.08V88.13H439.21V85.33H439.34V87.81H439.47V87.08H439.6V86.14H439.73V88.11H439.87V87.4H440V85.94H440.13V86.06H440.26V84.9H440.39V86.63H440.52V84.33H440.65V85.47H440.78V81.3H440.91V83.24H441.04V84.36H441.17V81.53H441.3V80.21H441.43V83.16H441.56V82.04H441.69V80.64H441.82V81.47H441.95V81.31H442.08V81.88H442.22V82.43H442.35V76.94H442.48V81.28H442.61V79.35H442.74V82.9H442.87V81.78H443V76.46H443.13V80.01H443.26V78.06H443.39V81.26H443.52V79.33H443.65V82.63H443.78V83.16H443.91V83.43H444.04V81.12H444.17V80.18H444.3V77.27H444.44V74.11H444.57V79.52H444.7V80.1H444.83V81.32H444.96V81.66H445.09V78.87H445.22V82.91H445.35V75.71H445.48V82.57H445.61V80.92H445.74V81.32H445.87V82.32H446V77.28H446.13V82.73H446.26V79.87H446.39V82.17H446.52V82.46H446.66V81.41H446.79V82.18H446.92V84.29H447.05V78.94H447.18V83.27H447.31V90.15H447.44V91.85H447.57V89.87H447.7V90.34H447.83V90.48H447.96V90.88H448.09V90.88H448.22V90.65H448.35V92.29H448.48V89.58H448.61V89.68H448.74V90.65H448.88V90.61H449.01V90.02H449.14V91.41H449.27V86.95H449.4V90.23H449.53V90.37H449.66V86.35H449.79V88.88H449.92V87.89H450.05V87.25H450.18V90.77H450.31V89.17H450.44V87.71H450.57V87.05H450.7V86.76H450.83V91.4H450.96V91.76H451.1V89.71H451.23V91.56H451.36V90.63H451.49V87.74H451.62V88.78H451.75V91.17H451.88V90.75H452.01V93.36H452.14V95.67H452.27V95.58H452.4V95.59H452.53V96.94H452.66V97.57H452.79V99.37H452.92V99.29H453.05V98.19H453.18V98.57H453.32V99.48H453.45V98.03H453.58V99.06H453.71V99.54H453.84V98.62H453.97V99.39H454.1V99.33H454.23V99.04H454.36V99.24H454.49V98.54H454.62V99.09H454.75V99.39H454.88V99.21H455.01V99.47H455.14V98.86H455.27V99.16H455.4V99.31H455.53V99.33H455.67V99.17H455.8V98.82H455.93V98.78H456.06V98.44H456.19V98.08H456.32V98.43H456.45V98.84H456.58V97.96H456.71V99.18H456.84V98.78H456.97V98.97H457.1V98.91H457.23V99.02H457.36V99.01H457.49V98.53H457.62V98.46H457.75V98.95H457.89V99.01H458.02V97.81H458.15V98.33H458.28V97.55H458.41V97.6H458.54V97.77H458.67V98.25H458.8V98.63H458.93V97.19H459.06V97.35H459.19V98.38H459.32V95.99H459.45V98.23H459.58V98.16H459.71V97.26H459.84V97.77H459.97V97.32H460.11V95.82H460.24V97.95H460.37V97.52H460.5V95.14H460.63V93.09H460.76V97.85H460.89V96.47H461.02V96.71H461.15V97.35H461.28V95.63H461.41V95.68H461.54V92.95H461.67V96.6H461.8V92.14H461.93V93.65H462.06V94.74H462.19V95.57H462.33V92H462.46V94.44H462.59V90.76H462.72V92.71H462.85V91.02H462.98V94.96H463.11V91.32H463.24V94H463.37V91.29H463.5V94.04H463.63V92.82H463.76V92.97H463.89V90.6H464.02V89.4H464.15V90.32H464.28V92.14H464.41V91.77H464.55V91.78H464.68V91.08H464.81V90.31H464.94V90.44H465.07V89.34H465.2V84.07H465.33V84.81H465.46V80.99H465.59V82.1H465.72V83.64H465.85V85.34H465.98V85.24H466.11V81.39H466.24V83.16H466.37V85.12H466.5V83.26H466.63V78.53H466.77V84.37H466.9V84.52H467.03V82.47H467.16V83.92H467.29V80.2H467.42V72.44H467.55V75.69H467.68V77.07H467.81V75.73H467.94V76.2H468.07V74.96H468.2V74.39H468.33V70.93H468.46V65.26H468.59V71.17H468.72V64.93H468.85V64.98H468.99V58.39H469.12V62.05H469.25V71.14H469.38V59.33H469.51V59.12H469.64V64.21H469.77V64.53H469.9V60.01H470.03V66.01H470.16V67.97H470.29V64.67H470.42V69.25H470.55V63.91H470.68V67.75H470.81V61.36H470.94V58.71H471.07V59.42H471.2V70.17H471.34V70.11H471.47V63.95H471.6V68.24H471.73V74.79H471.86V77.16H471.99V74.88H472.12V78.69H472.25V84.91H472.38V85.37H472.51V82.79H472.64V86.23H472.77V81.36H472.9V85.01H473.03V82.8H473.16V83.91H473.29V84.3H473.42V85.39H473.56V80.91H473.69V81.46H473.82V83.36H473.95V83.23H474.08V81.37H474.21V85H474.34V88.55H474.47V91.63H474.6V87.92H474.73V87.78H474.86V92.35H474.99V90.48H475.12V91.82H475.25V91.8H475.38V91.45H475.51V91.02H475.64V91.78H475.78V91.67H475.91V91.03H476.04V91.89H476.17V91.77H476.3V87.46H476.43V92.23H476.56V91.94H476.69V90.02H476.82V91.97H476.95V87.13H477.08V86.09H477.21V98.65H477.34V100.7H477.47V100.7H477.6V100.7H477.73V100.7H477.86V100.7H478V100.7H478.13V100.7H478.26V100.7H478.39V100.7H478.52V100.7H478.65V100.7H478.78V100.7H478.91V100.7H479.04V100.7H479.17V100.7H479.3V100.7H479.43V100.7H479.56V100.7H479.69V100.7H479.82V100.7H479.95V100.7H480.08V100.7H480.22V100.7H480.35V100.7H480.48V100.7H480.61V100.7H480.74V100.7H480.87V100.7H481V100.7H481.13V100.7H481.26V100.7H481.39V100.7H481.52V100.7H481.65V100.7H481.78V100.7H481.91V100.7H482.04V100.7H482.17V100.7H482.3V100.7H482.44V100.7H482.57V100.7H482.7V100.7H482.83V100.7H482.96V100.7H483.09V100.7H483.22V100.7H483.35V100.7H483.48V100.7H483.61V100.7H483.74V100.7H483.87V100.7H484V100.7H484.13V100.7H484.26V100.7H484.39V100.7H484.52V100.7H484.66V100.7H484.79V100.7H484.92V100.7H485.05V100.7H485.18V100.7H485.31V100.7H485.44V100.7H485.57V100.7H485.7V100.7H485.83V100.7H485.96V100.7H486.09V100.7H486.22V100.7H486.35V100.7H486.48V100.7H486.61V100.7H486.74V100.7H486.88V100.7H487.01V100.7H487.14V100.7H487.27V100.7H487.4V100.7H487.53V100.7H487.66V100.7H487.79V100.7H487.92V100.7H488.05V100.7H488.18V100.7H488.31V100.7H488.44V100.7H488.57V100.7H488.7V100.7H488.83V100.7H488.96V100.7H489.09V100.7H489.23V100.7H489.36V100.7H489.49V100.7H489.62V100.7H489.75V100.7H489.88V100.7H490.01V100.7H490.14V100.7H490.27V100.7H490.4V100.7H490.53V100.7H490.66V100.7H490.79V100.7H490.92V100.7H491.05V100.7H491.18V100.7H491.31V100.7H491.45V100.7H491.58V100.7H491.71V100.7H491.84V100.7H491.97V100.7H492.1V100.7H492.23V100.7H492.36V100.7H492.49V100.7H492.62V100.7H492.75V100.7H492.88V100.7H493.01V100.7H493.14V100.7H493.27V100.7H493.4V100.7H493.53V100.7H493.67V100.7H493.8V100.7H493.93V100.7H494.06V100.7H494.19V100.7H494.32V100.7H494.45V100.7H494.58V100.7H494.71V100.7H494.84V100.7H494.97V100.7H495.1V100.7H495.23V100.7H495.36V100.7H495.49V100.7H495.62V100.7H495.75V100.7H495.89V100.7H496.02V100.7H496.15V100.7H496.28V100.7H496.41V100.7Z" fill="#999999"/>
<rect x="391.03" y="36.58" width="0.55" height="64.12" fill="#a8a8a8"/>
<rect x="393.77" y="45.58" width="0.45" height="55.12" fill="#b0b0b0"/>
<rect x="418.33" y="40.4" width="0.55" height="60.3" fill="#a8a8a8"/>
<rect x="421.07" y="51.2" width="0.45" height="49.5" fill="#b0b0b0"/>
<rect x="424.97" y="56.26" width="0.45" height="44.44" fill="#b0b0b0"/>
<rect x="469.7" y="43.89" width="0.6" height="56.81" fill="#a8a8a8"/>
<rect x="407" y="71.45" width="0.4" height="29.25" fill="#b4b4b4"/>
<rect x="444.4" y="72.24" width="0.4" height="28.46" fill="#b4b4b4"/>
<rect x="297" y="81.58" width="0.4" height="19.12" fill="#b8b8b8"/>
<rect x="298.4" y="82.7" width="0.4" height="18" fill="#b8b8b8"/>
<line x1="291" y1="30.2" x2="291" y2="101.35" stroke="#333333" stroke-width="1.3"/>
<line x1="290.35" y1="100.7" x2="496.5" y2="100.7" stroke="#333333" stroke-width="1.3"/>
<line x1="287.8" y1="100.7" x2="291" y2="100.7" stroke="#333333" stroke-width="0.9"/>
<text transform="translate(284.7 102.8) scale(0.1)" font-size="58" text-anchor="end" stroke="#1a1a1a" stroke-width="1.2" fill="#1a1a1a">0</text>
<line x1="287.8" y1="78.2" x2="291" y2="78.2" stroke="#333333" stroke-width="0.9"/>
<text transform="translate(284.7 80.3) scale(0.1)" font-size="58" text-anchor="end" stroke="#1a1a1a" stroke-width="1.2" fill="#1a1a1a">20</text>
<line x1="287.8" y1="55.7" x2="291" y2="55.7" stroke="#333333" stroke-width="0.9"/>
<text transform="translate(284.7 57.8) scale(0.1)" font-size="58" text-anchor="end" stroke="#1a1a1a" stroke-width="1.2" fill="#1a1a1a">40</text>
<line x1="287.8" y1="33.2" x2="291" y2="33.2" stroke="#333333" stroke-width="0.9"/>
<text transform="translate(284.7 35.3) scale(0.1)" font-size="58" text-anchor="end" stroke="#1a1a1a" stroke-width="1.2" fill="#1a1a1a">60</text>
<line x1="291" y1="100.7" x2="291" y2="103.5" stroke="#333333" stroke-width="1"/>
<text transform="translate(294.4 109.5) rotate(-45) scale(0.1)" font-size="62" text-anchor="end" stroke="#1a1a1a" stroke-width="1.2" fill="#1a1a1a">Feb 15, 2020</text>
<line x1="300.4" y1="100.7" x2="300.4" y2="103.5" stroke="#333333" stroke-width="1"/>
<text transform="translate(303.8 109.5) rotate(-45) scale(0.1)" font-size="62" text-anchor="end" stroke="#1a1a1a" stroke-width="1.2" fill="#1a1a1a">Apr 27, 2020</text>
<line x1="309.8" y1="100.7" x2="309.8" y2="103.5" stroke="#333333" stroke-width="1"/>
<text transform="translate(313.2 109.5) rotate(-45) scale(0.1)" font-size="62" text-anchor="end" stroke="#1a1a1a" stroke-width="1.2" fill="#1a1a1a">Jul 08, 2020</text>
<line x1="319.21" y1="100.7" x2="319.21" y2="103.5" stroke="#333333" stroke-width="1"/>
<text transform="translate(322.61 109.5) rotate(-45) scale(0.1)" font-size="62" text-anchor="end" stroke="#1a1a1a" stroke-width="1.2" fill="#1a1a1a">Sep 18, 2020</text>
<line x1="328.61" y1="100.7" x2="328.61" y2="103.5" stroke="#333333" stroke-width="1"/>
<text transform="translate(332.01 109.5) rotate(-45) scale(0.1)" font-size="62" text-anchor="end" stroke="#1a1a1a" stroke-width="1.2" fill="#1a1a1a">Nov 29, 2020</text>
<line x1="338.01" y1="100.7" x2="338.01" y2="103.5" stroke="#333333" stroke-width="1"/>
<text transform="translate(341.41 109.5) rotate(-45) scale(0.1)" font-size="62" text-anchor="end" stroke="#1a1a1a" stroke-width="1.2" fill="#1a1a1a">Feb 09, 2021</text>
<line x1="347.41" y1="100.7" x2="347.41" y2="103.5" stroke="#333333" stroke-width="1"/>
<text transform="translate(350.81 109.5) rotate(-45) scale(0.1)" font-size="62" text-anchor="end" stroke="#1a1a1a" stroke-width="1.2" fill="#1a1a1a">Apr 22, 2021</text>
<line x1="356.81" y1="100.7" x2="356.81" y2="103.5" stroke="#333333" stroke-width="1"/>
<text transform="translate(360.21 109.5) rotate(-45) scale(0.1)" font-size="62" text-anchor="end" stroke="#1a1a1a" stroke-width="1.2" fill="#1a1a1a">Jul 03, 2021</text>
<line x1="366.22" y1="100.7" x2="366.22" y2="103.5" stroke="#333333" stroke-width="1"/>
<text transform="translate(369.62 109.5) rotate(-45) scale(0.1)" font-size="62" text-anchor="end" stroke="#1a1a1a" stroke-width="1.2" fill="#1a1a1a">Sep 13, 2021</text>
<line x1="375.62" y1="100.7" x2="375.62" y2="103.5" stroke="#333333" stroke-width="1"/>
<text transform="translate(379.02 109.5) rotate(-45) scale(0.1)" font-size="62" text-anchor="end" stroke="#1a1a1a" stroke-width="1.2" fill="#1a1a1a">Nov 24, 2021</text>
<line x1="385.02" y1="100.7" x2="385.02" y2="103.5" stroke="#333333" stroke-width="1"/>
<text transform="translate(388.42 109.5) rotate(-45) scale(0.1)" font-size="62" text-anchor="end" stroke="#1a1a1a" stroke-width="1.2" fill="#1a1a1a">Feb 04, 2022</text>
<line x1="394.42" y1="100.7" x2="394.42" y2="103.5" stroke="#333333" stroke-width="1"/>
<text transform="translate(397.82 109.5) rotate(-45) scale(0.1)" font-size="62" text-anchor="end" stroke="#1a1a1a" stroke-width="1.2" fill="#1a1a1a">Apr 17, 2022</text>
<line x1="403.82" y1="100.7" x2="403.82" y2="103.5" stroke="#333333" stroke-width="1"/>
<text transform="translate(407.22 109.5) rotate(-45) scale(0.1)" font-size="62" text-anchor="end" stroke="#1a1a1a" stroke-width="1.2" fill="#1a1a1a">Jun 28, 2022</text>
<line x1="413.23" y1="100.7" x2="413.23" y2="103.5" stroke="#333333" stroke-width="1"/>
<text transform="translate(416.63 109.5) rotate(-45) scale(0.1)" font-size="62" text-anchor="end" stroke="#1a1a1a" stroke-width="1.2" fill="#1a1a1a">Sep 08, 2022</text>
<line x1="422.63" y1="100.7" x2="422.63" y2="103.5" stroke="#333333" stroke-width="1"/>
<text transform="translate(426.03 109.5) rotate(-45) scale(0.1)" font-size="62" text-anchor="end" stroke="#1a1a1a" stroke-width="1.2" fill="#1a1a1a">Nov 19, 2022</text>
<line x1="432.03" y1="100.7" x2="432.03" y2="103.5" stroke="#333333" stroke-width="1"/>
<text transform="translate(435.43 109.5) rotate(-45) scale(0.1)" font-size="62" text-anchor="end" stroke="#1a1a1a" stroke-width="1.2" fill="#1a1a1a">Jan 30, 2023</text>
<line x1="441.43" y1="100.7" x2="441.43" y2="103.5" stroke="#333333" stroke-width="1"/>
<text transform="translate(444.83 109.5) rotate(-45) scale(0.1)" font-size="62" text-anchor="end" stroke="#1a1a1a" stroke-width="1.2" fill="#1a1a1a">Apr 12, 2023</text>
<line x1="450.83" y1="100.7" x2="450.83" y2="103.5" stroke="#333333" stroke-width="1"/>
<text transform="translate(454.23 109.5) rotate(-45) scale(0.1)" font-size="62" text-anchor="end" stroke="#1a1a1a" stroke-width="1.2" fill="#1a1a1a">Jun 23, 2023</text>
<line x1="460.24" y1="100.7" x2="460.24" y2="103.5" stroke="#333333" stroke-width="1"/>
<text transform="translate(463.64 109.5) rotate(-45) scale(0.1)" font-size="62" text-anchor="end" stroke="#1a1a1a" stroke-width="1.2" fill="#1a1a1a">Sep 03, 2023</text>
<line x1="469.64" y1="100.7" x2="469.64" y2="103.5" stroke="#333333" stroke-width="1"/>
<text transform="translate(473.04 109.5) rotate(-45) scale(0.1)" font-size="62" text-anchor="end" stroke="#1a1a1a" stroke-width="1.2" fill="#1a1a1a">Nov 14, 2023</text>
<line x1="479.04" y1="100.7" x2="479.04" y2="103.5" stroke="#333333" stroke-width="1"/>
<text transform="translate(482.44 109.5) rotate(-45) scale(0.1)" font-size="62" text-anchor="end" stroke="#1a1a1a" stroke-width="1.2" fill="#1a1a1a">Jan 25, 2024</text>
<line x1="488.44" y1="100.7" x2="488.44" y2="103.5" stroke="#333333" stroke-width="1"/>
<text transform="translate(491.84 109.5) rotate(-45) scale(0.1)" font-size="62" text-anchor="end" stroke="#1a1a1a" stroke-width="1.2" fill="#1a1a1a">Apr 06, 2024</text>
<text transform="translate(272.2 65.95) rotate(-90) scale(0.1)" font-size="63" text-anchor="middle" textLength="740" lengthAdjust="spacingAndGlyphs" stroke="#1a1a1a" stroke-width="2.5" fill="#1a1a1a">Novel coronavirus daily deaths</text>
<text transform="translate(393.7 25.5) scale(0.1)" font-size="77" text-anchor="middle" fill="#1a1a1a">Finland</text>
<line x1="35.05" y1="214.16" x2="240" y2="214.16" stroke="#ececec" stroke-width="0.8"/>
<line x1="35.05" y1="197.18" x2="240" y2="197.18" stroke="#ececec" stroke-width="0.8"/>
<line x1="35.05" y1="180.19" x2="240" y2="180.19" stroke="#ececec" stroke-width="0.8"/>
<line x1="35.05" y1="163.2" x2="240" y2="163.2" stroke="#ececec" stroke-width="0.8"/>
<path d="M35.05 231.15V231.15H35.19V231.15H35.32V231.15H35.46V231.15H35.59V231.15H35.73V231.15H35.86V231.15H36V231.15H36.13V231.15H36.27V231.15H36.4V231.15H36.54V231.15H36.67V231.15H36.81V231.15H36.95V231.15H37.08V231.15H37.22V231.15H37.35V231.15H37.49V231.15H37.62V231.15H37.76V231.15H37.89V231.15H38.03V231.15H38.16V231.15H38.3V231.15H38.44V231.15H38.57V231.15H38.71V231.15H38.84V231.15H38.98V231.15H39.11V231.15H39.25V231.15H39.38V231.15H39.52V230.86H39.65V230.77H39.79V230.53H39.92V229.58H40.06V229.71H40.2V229.85H40.33V227.28H40.47V227.9H40.6V227.07H40.74V228.02H40.87V228.42H41.01V225.24H41.14V228.17H41.28V228.99H41.41V228.64H41.55V228.75H41.69V225.58H41.82V226.84H41.96V228.26H42.09V228.16H42.23V228.04H42.36V227.28H42.5V224.6H42.63V224.88H42.77V225.81H42.9V227.59H43.04V226.42H43.17V228.26H43.31V227.4H43.45V227.96H43.58V226.81H43.72V228.49H43.85V228.93H43.99V227.61H44.12V229.07H44.26V228.79H44.39V229.38H44.53V229.16H44.66V230.27H44.8V230.51H44.93V229.75H45.07V230.63H45.21V230.72H45.34V230.82H45.48V230.85H45.61V230.92H45.75V230.31H45.88V230.75H46.02V231H46.15V230.54H46.29V231.15H46.42V231.11H46.56V231.07H46.7V231.15H46.83V231.12H46.97V230.71H47.1V231.14H47.24V231.11H47.37V231.14H47.51V231.01H47.64V231.12H47.78V230.87H47.91V231.11H48.05V230.87H48.18V231.08H48.32V231.15H48.46V231.02H48.59V230.76H48.73V231.15H48.86V231.14H49V230.89H49.13V231.08H49.27V231.14H49.4V231.1H49.54V231.14H49.67V231.15H49.81V231.15H49.95V231.08H50.08V230.97H50.22V231.04H50.35V231.15H50.49V230.98H50.62V230.87H50.76V231.11H50.89V231.13H51.03V230.9H51.16V231.07H51.3V231.15H51.43V230.97H51.57V231.06H51.71V230.86H51.84V230.96H51.98V231.13H52.11V231.11H52.25V231.15H52.38V231.12H52.52V231.1H52.65V231.13H52.79V231.15H52.92V231.15H53.06V231.02H53.2V230.81H53.33V230.86H53.47V231H53.6V231.06H53.74V230.87H53.87V231.05H54.01V231.14H54.14V230.88H54.28V231.15H54.41V230.8H54.55V231.14H54.68V230.89H54.82V231.07H54.96V231.11H55.09V231.15H55.23V231.15H55.36V231.15H55.5V230.92H55.63V231.15H55.77V231.09H55.9V231.15H56.04V230.96H56.17V230.91H56.31V231.14H56.44V231.1H56.58V231.06H56.72V231.09H56.85V230.83H56.99V231.15H57.12V231.13H57.26V231.11H57.39V230.87H57.53V230.9H57.66V230.99H57.8V231.13H57.93V231.14H58.07V231.05H58.21V231.15H58.34V230.93H58.48V230.84H58.61V231.14H58.75V230.99H58.88V231.03H59.02V231.08H59.15V230.87H59.29V231.03H59.42V231.09H59.56V231.07H59.69V231.11H59.83V231.11H59.97V231.12H60.1V231.11H60.24V230.85H60.37V231.15H60.51V231.12H60.64V231.06H60.78V231.14H60.91V230.89H61.05V231.14H61.18V231.13H61.32V230.88H61.46V231.14H61.59V231.01H61.73V231.1H61.86V231.14H62V230.9H62.13V231.15H62.27V230.81H62.4V231.1H62.54V231.15H62.67V231.15H62.81V231.03H62.94V230.88H63.08V231.05H63.22V231.06H63.35V231.14H63.49V231H63.62V231.14H63.76V231.07H63.89V231.1H64.03V231.15H64.16V231.13H64.3V230.86H64.43V231.06H64.57V231.11H64.7V231.04H64.84V231.15H64.98V231.07H65.11V231.13H65.25V230.89H65.38V231.14H65.52V231.14H65.65V231.15H65.79V231.1H65.92V231.15H66.06V231.15H66.19V231.13H66.33V230.98H66.47V231.1H66.6V230.96H66.74V231.11H66.87V231.14H67.01V231.08H67.14V231.12H67.28V231.15H67.41V231.12H67.55V231.1H67.68V231.14H67.82V231.13H67.95V231.08H68.09V231.01H68.23V231.15H68.36V231.14H68.5V231.08H68.63V231.14H68.77V231.14H68.9V230.95H69.04V231.01H69.17V231.04H69.31V231.15H69.44V231.14H69.58V230.94H69.72V231.11H69.85V230.82H69.99V231.13H70.12V230.83H70.26V230.94H70.39V231.03H70.53V230.9H70.66V231.15H70.8V230.94H70.93V231.03H71.07V231.04H71.2V230.95H71.34V230.87H71.48V230.73H71.61V230.53H71.75V230.58H71.88V230.07H72.02V230.21H72.15V229.35H72.29V230.35H72.42V229.96H72.56V229.77H72.69V228.61H72.83V230.13H72.97V230.14H73.1V230.04H73.24V228.69H73.37V229.79H73.51V228.88H73.64V228.59H73.78V229.57H73.91V228.66H74.05V229.75H74.18V229.36H74.32V229.2H74.45V228.7H74.59V227.58H74.73V228.93H74.86V226.58H75V227.38H75.13V227.3H75.27V229.3H75.4V229.23H75.54V229.21H75.67V228.84H75.81V227.98H75.94V227.49H76.08V229.51H76.21V227.9H76.35V229.5H76.49V229.68H76.62V229.14H76.76V229.45H76.89V228.88H77.03V227.11H77.16V228.13H77.3V226.93H77.43V228.6H77.57V229.05H77.7V227.36H77.84V229.22H77.98V226.28H78.11V227.06H78.25V228.3H78.38V228.71H78.52V229H78.65V229.19H78.79V227.7H78.92V226.85H79.06V226.26H79.19V229.18H79.33V227.23H79.46V228.22H79.6V229.07H79.74V225.92H79.87V228.72H80.01V228.83H80.14V226.82H80.28V228.93H80.41V228.54H80.55V228.94H80.68V228.06H80.82V228.58H80.95V228.76H81.09V229.54H81.23V228.42H81.36V228.03H81.5V229.57H81.63V228.22H81.77V227.19H81.9V229.85H82.04V229.78H82.17V229.69H82.31V229.56H82.44V227.88H82.58V229.29H82.71V229.66H82.85V229.56H82.99V227.86H83.12V228.62H83.26V229.8H83.39V229.79H83.53V227.45H83.66V227.81H83.8V229.82H83.93V229.77H84.07V229.33H84.2V228.83H84.34V229.12H84.47V228.5H84.61V228.63H84.75V229.47H84.88V229.84H85.02V229.19H85.15V228.09H85.29V228.23H85.42V229.62H85.56V229.85H85.69V228.1H85.83V230.04H85.96V229.89H86.1V230.02H86.24V229.92H86.37V230.04H86.51V230.06H86.64V229.64H86.78V230.17H86.91V229.28H87.05V228.82H87.18V230.02H87.32V229.8H87.45V230.26H87.59V228.74H87.72V229.89H87.86V229.78H88V228.56H88.13V230.26H88.27V230.39H88.4V228.77H88.54V230.25H88.67V230.36H88.81V229.83H88.94V228.93H89.08V229.64H89.21V230.44H89.35V228.2H89.49V230.03H89.62V228.21H89.76V229.91H89.89V229.81H90.03V229.23H90.16V228.82H90.3V229.65H90.43V230.13H90.57V230.19H90.7V229.65H90.84V228.24H90.97V230.1H91.11V229.47H91.25V230.13H91.38V229.1H91.52V229.91H91.65V228.15H91.79V230.02H91.92V228.68H92.06V229.82H92.19V229.65H92.33V229.09H92.46V229.89H92.6V228.89H92.74V229.77H92.87V227.27H93.01V229.67H93.14V229.85H93.28V228.89H93.41V228.61H93.55V229.97H93.68V229.63H93.82V230.05H93.95V229.3H94.09V230.16H94.22V229.19H94.36V229.95H94.5V229.81H94.63V230.35H94.77V230.02H94.9V229.07H95.04V230.45H95.17V230.11H95.31V230.55H95.44V229.4H95.58V229.63H95.71V230.28H95.85V230.77H95.98V229.77H96.12V230.82H96.26V230.36H96.39V230.02H96.53V231.02H96.66V231.06H96.8V231.1H96.93V230.84H97.07V230.49H97.2V230.3H97.34V230.87H97.47V231.12H97.61V231.15H97.75V231.1H97.88V231.02H98.02V231.11H98.15V230.73H98.29V230.77H98.42V231.02H98.56V231.06H98.69V230.62H98.83V230.87H98.96V231.15H99.1V230.81H99.23V231H99.37V231.13H99.51V231.07H99.64V231.12H99.78V231.15H99.91V230.87H100.05V231.15H100.18V231.15H100.32V230.94H100.45V230.97H100.59V231.15H100.72V230.92H100.86V231.09H101V230.93H101.13V231.13H101.27V230.83H101.4V230.97H101.54V231.06H101.67V230.96H101.81V230.86H101.94V230.99H102.08V231.13H102.21V230.84H102.35V231.11H102.48V230.81H102.62V231.01H102.76V230.98H102.89V231.11H103.03V231H103.16V231.13H103.3V230.99H103.43V231.11H103.57V231.15H103.7V231.13H103.84V231.15H103.97V230.99H104.11V231.14H104.25V230.94H104.38V231.14H104.52V231.12H104.65V231.15H104.79V231.04H104.92V231.15H105.06V231.09H105.19V231.13H105.33V231.09H105.46V231.06H105.6V231.06H105.73V231.12H105.87V230.82H106.01V231.15H106.14V231.14H106.28V231.15H106.41V231.1H106.55V231.14H106.68V231.14H106.82V231.14H106.95V231.13H107.09V231.12H107.22V231.15H107.36V230.99H107.49V231.15H107.63V230.89H107.77V231.14H107.9V230.91H108.04V231.09H108.17V231.15H108.31V231.05H108.44V231.04H108.58V231.12H108.71V231.15H108.85V230.9H108.98V231.15H109.12V231.15H109.26V231.14H109.39V230.94H109.53V231.12H109.66V231.14H109.8V231.03H109.93V231.12H110.07V230.96H110.2V231.15H110.34V231.04H110.47V231.08H110.61V230.99H110.74V231.08H110.88V231.14H111.02V231.15H111.15V230.89H111.29V231.15H111.42V231.06H111.56V231.15H111.69V231.07H111.83V231.15H111.96V231.13H112.1V231H112.23V230.51H112.37V230.94H112.51V230.35H112.64V230.4H112.78V230.39H112.91V229.58H113.05V230.14H113.18V230.43H113.32V230.74H113.45V230.73H113.59V230.48H113.72V229.98H113.86V228.87H113.99V229.73H114.13V230.03H114.27V229.12H114.4V230.56H114.54V230.36H114.67V230.56H114.81V230.35H114.94V230.58H115.08V230.44H115.21V230.18H115.35V230.57H115.48V230H115.62V230.44H115.75V230.35H115.89V230.09H116.03V230.5H116.16V230.44H116.3V230.28H116.43V228.62H116.57V229.89H116.7V229.78H116.84V229.24H116.97V230.43H117.11V230.03H117.24V230.45H117.38V230.28H117.52V230.34H117.65V230.32H117.79V229H117.92V230.39H118.06V228.65H118.19V230.4H118.33V230.47H118.46V229.32H118.6V229.41H118.73V228.99H118.87V229.26H119V228.87H119.14V230.36H119.28V230H119.41V230.24H119.55V229.53H119.68V230.19H119.82V229.79H119.95V229.96H120.09V228.64H120.22V228.97H120.36V226.83H120.49V229.88H120.63V229.89H120.77V229.82H120.9V228.77H121.04V229.19H121.17V227.83H121.31V229.25H121.44V225.7H121.58V225.72H121.71V228.89H121.85V228.97H121.98V226.16H122.12V228.18H122.25V226.09H122.39V229.01H122.53V228.12H122.66V228.95H122.8V225.53H122.93V227.93H123.07V227.03H123.2V225.88H123.34V226.25H123.47V228.88H123.61V228.76H123.74V225.39H123.88V227.32H124.02V227.94H124.15V228.57H124.29V228.17H124.42V226.23H124.56V228.62H124.69V228.56H124.83V227.14H124.96V225.04H125.1V228.36H125.23V226.79H125.37V225.1H125.5V228.63H125.64V228.54H125.78V227.42H125.91V228.8H126.05V225.67H126.18V228.48H126.32V228.65H126.45V226.15H126.59V228.02H126.72V227.82H126.86V227.09H126.99V228.96H127.13V227.93H127.26V229.01H127.4V227.05H127.54V228.63H127.67V228.27H127.81V228.14H127.94V228.85H128.08V228.1H128.21V228.16H128.35V228.34H128.48V228.56H128.62V229.11H128.75V228.92H128.89V227.32H129.03V228.27H129.16V229.01H129.3V228.62H129.43V227.72H129.57V228.98H129.7V227.27H129.84V227.08H129.97V229.08H130.11V229.02H130.24V228.28H130.38V228.76H130.51V229.12H130.65V227.85H130.79V228.68H130.92V229.13H131.06V228.56H131.19V227.27H131.33V226.7H131.46V226.52H131.6V226.29H131.73V223.2H131.87V225.4H132V224.58H132.14V223.53H132.28V220.1H132.41V223.53H132.55V221.06H132.68V221.29H132.82V222.7H132.95V219.48H133.09V222.79H133.22V218.48H133.36V221.88H133.49V217.31H133.63V219.78H133.76V221.82H133.9V218.71H134.04V221.07H134.17V219.81H134.31V221.18H134.44V215.92H134.58V217.59H134.71V219.86H134.85V220.79H134.98V220.34H135.12V218.16H135.25V215.21H135.39V219.66H135.52V218.06H135.66V219.47H135.8V217.76H135.93V213.64H136.07V214.72H136.2V218.76H136.34V216.65H136.47V219.02H136.61V216.73H136.74V218.9H136.88V217.26H137.01V217.74H137.15V217.94H137.29V218.79H137.42V216.63H137.56V215.45H137.69V215H137.83V216.62H137.96V217.08H138.1V215.61H138.23V216.75H138.37V215.78H138.5V214.53H138.64V217.09H138.77V218.26H138.91V217.44H139.05V212.62H139.18V217.97H139.32V218.01H139.45V216.52H139.59V216.51H139.72V215.22H139.86V215.81H139.99V219.61H140.13V219.99H140.26V215.48H140.4V219.2H140.54V217.04H140.67V219.93H140.81V219.64H140.94V221.13H141.08V219.42H141.21V216.19H141.35V217.13H141.48V221.24H141.62V222H141.75V220.66H141.89V220.01H142.02V221.89H142.16V222.51H142.3V220.74H142.43V219.49H142.57V223.49H142.7V222.93H142.84V221.23H142.97V224.93H143.11V222.97H143.24V224.52H143.38V225.47H143.51V225.8H143.65V223.64H143.78V225.98H143.92V226.17H144.06V227.19H144.19V224.88H144.33V226.06H144.46V226.71H144.6V226.2H144.73V227.15H144.87V228.1H145V227.86H145.14V227.09H145.27V226.38H145.41V228.4H145.55V228.26H145.68V228.37H145.82V227.24H145.95V228.06H146.09V228.28H146.22V228.68H146.36V228.67H146.49V228.88H146.63V228.12H146.76V228.91H146.9V228.99H147.03V229.07H147.17V229.16H147.31V228.89H147.44V228.96H147.58V228.97H147.71V228.94H147.85V229.18H147.98V228.85H148.12V228.66H148.25V228.64H148.39V228.06H148.52V228.99H148.66V228.89H148.8V228.64H148.93V228.6H149.07V228.9H149.2V228.47H149.34V229.06H149.47V229.19H149.61V229.17H149.74V228.68H149.88V228.14H150.01V229.05H150.15V228.79H150.28V228.39H150.42V227.53H150.56V228.13H150.69V227.65H150.83V228.09H150.96V226.41H151.1V227.32H151.23V226.36H151.37V227.29H151.5V226.98H151.64V227.2H151.77V225.97H151.91V224.31H152.05V224.41H152.18V224.99H152.32V225.32H152.45V223.81H152.59V224.51H152.72V224.84H152.86V224.25H152.99V223.98H153.13V223.32H153.26V223.86H153.4V223.51H153.53V223.57H153.67V223.36H153.81V223.47H153.94V222.68H154.08V223.46H154.21V222.67H154.35V222.74H154.48V223.19H154.62V222.02H154.75V222.52H154.89V221.31H155.02V222.09H155.16V222.57H155.29V221.23H155.43V222.45H155.57V221.84H155.7V221.58H155.84V221.87H155.97V222.79H156.11V222.07H156.24V222.52H156.38V222.67H156.51V221.72H156.65V220.79H156.78V222.58H156.92V221.11H157.06V221.93H157.19V221.48H157.33V222.39H157.46V222.26H157.6V222.22H157.73V222.37H157.87V222.02H158V221.65H158.14V222.42H158.27V221.4H158.41V222.18H158.54V222.87H158.68V221.16H158.82V223.14H158.95V222.66H159.09V223.34H159.22V224.65H159.36V225.06H159.49V225.49H159.63V227H159.76V227.48H159.9V228.14H160.03V228.55H160.17V227.79H160.31V228.39H160.44V228.16H160.58V228.4H160.71V228.54H160.85V228.38H160.98V228.15H161.12V228.2H161.25V228.9H161.39V228.91H161.52V227.98H161.66V228.94H161.79V228.4H161.93V228.44H162.07V229.08H162.2V228.72H162.34V229.11H162.47V229.21H162.61V229.32H162.74V228.99H162.88V229.07H163.01V229.35H163.15V229.38H163.28V228.58H163.42V229.48H163.56V229.33H163.69V229.3H163.83V229.35H163.96V229.41H164.1V228.53H164.23V229.31H164.37V229.34H164.5V229.07H164.64V229.13H164.77V228.75H164.91V228.37H165.04V229.36H165.18V228.72H165.32V229.31H165.45V229.24H165.59V228.4H165.72V228.61H165.86V229.18H165.99V229.14H166.13V228.94H166.26V229.13H166.4V229.25H166.53V228.2H166.67V228.98H166.8V229.08H166.94V229.27H167.08V228.62H167.21V228.67H167.35V229.18H167.48V229.15H167.62V228.98H167.75V228.77H167.89V228.34H168.02V227.81H168.16V228.66H168.29V228.98H168.43V228.94H168.57V228.44H168.7V227.94H168.84V227.9H168.97V227.58H169.11V228.16H169.24V227.89H169.38V227.68H169.51V228.45H169.65V227.69H169.78V227.69H169.92V227.51H170.05V227.87H170.19V227.38H170.33V227.77H170.46V227.56H170.6V227.97H170.73V226.41H170.87V226.17H171V227.58H171.14V227.36H171.27V226.93H171.41V226.84H171.54V226.42H171.68V225.09H171.82V226.68H171.95V225.11H172.09V225.3H172.22V224.97H172.36V224.88H172.49V224.54H172.63V225.37H172.76V223.94H172.9V223.24H173.03V224.18H173.17V225.12H173.3V224.93H173.44V224.67H173.58V222.86H173.71V223.58H173.85V223.65H173.98V224.33H174.12V221.92H174.25V223.9H174.39V223.35H174.52V223.28H174.66V221.41H174.79V222.68H174.93V222.82H175.06V220.36H175.2V222.04H175.34V222.69H175.47V221.91H175.61V221.49H175.74V221.25H175.88V220.79H176.01V221.68H176.15V219.76H176.28V221.07H176.42V222.36H176.55V221.85H176.69V222.17H176.83V222.5H176.96V223.15H177.1V222.84H177.23V221.39H177.37V221.45H177.5V223.04H177.64V220.56H177.77V222.81H177.91V223.14H178.04V223.75H178.18V223.73H178.31V222.1H178.45V223.94H178.59V223.45H178.72V223.5H178.86V224.03H178.99V223.71H179.13V225.31H179.26V225.32H179.4V225.48H179.53V225.33H179.67V224.62H179.8V226.33H179.94V226.2H180.08V225.31H180.21V226.48H180.35V225.5H180.48V225.71H180.62V227.62H180.75V227.66H180.89V227.91H181.02V227.76H181.16V228.44H181.29V228.73H181.43V228.75H181.56V228.38H181.7V228.55H181.84V229.2H181.97V229.25H182.11V229.87H182.24V230.09H182.38V230.09H182.51V230.51H182.65V230.6H182.78V230.52H182.92V230.74H183.05V230.55H183.19V230.81H183.32V231.07H183.46V230.97H183.6V231.06H183.73V230.98H183.87V231.14H184V231.14H184.14V231.08H184.27V231.01H184.41V231.09H184.54V231.06H184.68V231.09H184.81V230.9H184.95V230.96H185.09V231.15H185.22V231.13H185.36V231.09H185.49V230.8H185.63V231.12H185.76V230.88H185.9V231.04H186.03V231.15H186.17V231.15H186.3V231.15H186.44V231.15H186.57V231.15H186.71V231.15H186.85V231.15H186.98V231.15H187.12V231.15H187.25V231.15H187.39V231.15H187.52V231.15H187.66V231.15H187.79V231.15H187.93V231.15H188.06V231.15H188.2V231.15H188.34V231.15H188.47V231.15H188.61V231.15H188.74V231.15H188.88V231.15H189.01V231.15H189.15V231.15H189.28V231.15H189.42V231.15H189.55V231.15H189.69V231.15H189.82V231.15H189.96V231.15H190.1V231.15H190.23V231.15H190.37V231.15H190.5V231.15H190.64V231.15H190.77V231.15H190.91V231.15H191.04V231.15H191.18V231.15H191.31V231.15H191.45V231.15H191.59V231.15H191.72V231.15H191.86V231.15H191.99V231.15H192.13V231.15H192.26V231.15H192.4V231.15H192.53V231.15H192.67V231.15H192.8V231.15H192.94V231.15H193.07V231.15H193.21V231.15H193.35V231.15H193.48V231.15H193.62V231.15H193.75V231.15H193.89V231.15H194.02V231.15H194.16V231.15H194.29V231.15H194.43V231.15H194.56V231.15H194.7V231.15H194.83V231.15H194.97V231.15H195.11V231.15H195.24V231.15H195.38V231.15H195.51V231.15H195.65V231.15H195.78V231.15H195.92V231.15H196.05V231.15H196.19V231.15H196.32V231.15H196.46V231.15H196.6V231.15H196.73V231.15H196.87V231.15H197V231.15H197.14V231.15H197.27V231.15H197.41V231.15H197.54V231.15H197.68V231.15H197.81V231.15H197.95V231.15H198.08V231.15H198.22V231.15H198.36V231.15H198.49V231.15H198.63V231.15H198.76V231.15H198.9V231.15H199.03V231.15H199.17V231.15H199.3V231.15H199.44V231.15H199.57V231.15H199.71V231.15H199.85V231.15H199.98V231.15H200.12V231.15H200.25V231.15H200.39V231.15H200.52V231.15H200.66V231.15H200.79V231.15H200.93V231.15H201.06V231.15H201.2V231.15H201.33V231.15H201.47V231.15H201.61V231.15H201.74V231.15H201.88V231.15H202.01V231.15H202.15V231.15H202.28V231.15H202.42V231.15H202.55V231.15H202.69V231.15H202.82V231.15H202.96V231.15H203.1V231.15H203.23V231.15H203.37V231.15H203.5V231.15H203.64V231.15H203.77V231.15H203.91V231.15H204.04V231.15H204.18V231.15H204.31V231.15H204.45V231.15H204.58V231.15H204.72V231.15H204.86V231.15H204.99V231.15H205.13V231.15H205.26V231.15H205.4V231.15H205.53V231.15H205.67V231.15H205.8V231.15H205.94V231.15H206.07V231.15H206.21V231.15H206.34V231.15H206.48V231.15H206.62V231.15H206.75V231.15H206.89V231.15H207.02V231.15H207.16V231.15H207.29V231.15H207.43V231.15H207.56V231.15H207.7V231.15H207.83V231.15H207.97V231.15H208.11V231.15H208.24V231.15H208.38V231.15H208.51V231.15H208.65V231.15H208.78V231.15H208.92V231.15H209.05V231.15H209.19V231.15H209.32V231.15H209.46V231.15H209.59V231.15H209.73V231.15H209.87V231.15H210V231.15H210.14V231.15H210.27V231.15H210.41V231.15H210.54V231.15H210.68V231.15H210.81V231.15H210.95V231.15H211.08V231.15H211.22V231.15H211.36V231.15H211.49V231.15H211.63V231.15H211.76V231.15H211.9V231.15H212.03V231.15H212.17V231.15H212.3V231.15H212.44V231.15H212.57V231.15H212.71V231.15H212.84V231.15H212.98V231.15H213.12V231.15H213.25V231.15H213.39V231.15H213.52V231.15H213.66V231.15H213.79V231.15H213.93V231.15H214.06V231.15H214.2V231.15H214.33V231.15H214.47V231.15H214.6V231.15H214.74V231.15H214.88V231.15H215.01V231.15H215.15V231.15H215.28V231.15H215.42V231.15H215.55V231.15H215.69V231.15H215.82V231.15H215.96V231.15H216.09V231.15H216.23V231.15H216.37V231.15H216.5V231.15H216.64V231.15H216.77V231.15H216.91V231.15H217.04V231.15H217.18V231.15H217.31V231.15H217.45V231.15H217.58V231.15H217.72V231.15H217.85V231.15H217.99V231.15H218.13V231.15H218.26V231.15H218.4V231.15H218.53V231.15H218.67V231.15H218.8V231.15H218.94V231.15H219.07V231.15H219.21V231.15H219.34V231.15H219.48V231.15H219.62V231.15H219.75V231.15H219.89V231.15H220.02V231.15H220.16V231.15H220.29V231.15H220.43V231.15H220.56V231.15H220.7V231.15H220.83V231.15H220.97V231.15H221.1V231.15H221.24V231.15H221.38V231.15H221.51V231.15H221.65V231.15H221.78V231.15H221.92V231.15H222.05V231.15H222.19V231.15H222.32V231.15H222.46V231.15H222.59V231.15H222.73V231.15H222.87V231.15H223V231.15H223.14V231.15H223.27V231.15H223.41V231.15H223.54V231.15H223.68V231.15H223.81V231.15H223.95V231.15H224.08V231.15H224.22V231.15H224.35V231.15H224.49V231.15H224.63V231.15H224.76V231.15H224.9V231.15H225.03V231.15H225.17V231.15H225.3V231.15H225.44V231.15H225.57V231.15H225.71V231.15H225.84V231.15H225.98V231.15H226.11V231.15H226.25V231.15H226.39V231.15H226.52V231.15H226.66V231.15H226.79V231.15H226.93V231.15H227.06V231.15H227.2V231.15H227.33V231.15H227.47V231.15H227.6V231.15H227.74V231.15H227.88V231.15H228.01V231.15H228.15V231.15H228.28V231.15H228.42V231.15H228.55V231.15H228.69V231.15H228.82V231.15H228.96V231.15H229.09V231.15H229.23V231.15H229.36V231.15H229.5V231.15H229.64V231.15H229.77V231.15H229.91V231.15H230.04V231.15H230.18V231.15H230.31V231.15H230.45V231.15H230.58V231.15H230.72V231.15H230.85V231.15H230.99V231.15H231.13V231.15H231.26V231.15H231.4V231.15H231.53V231.15H231.67V231.15H231.8V231.15H231.94V231.15H232.07V231.15H232.21V231.15H232.34V231.15H232.48V231.15H232.61V231.15H232.75V231.15H232.89V231.15H233.02V231.15H233.16V231.15H233.29V231.15H233.43V231.15H233.56V231.15H233.7V231.15H233.83V231.15H233.97V231.15H234.1V231.15H234.24V231.15H234.37V231.15H234.51V231.15H234.65V231.15H234.78V231.15H234.92V231.15H235.05V231.15H235.19V231.15H235.32V231.15H235.46V231.15H235.59V231.15H235.73V231.15H235.86V231.15H236V231.15H236.14V231.15H236.27V231.15H236.41V231.15H236.54V231.15H236.68V231.15H236.81V231.15H236.95V231.15H237.08V231.15H237.22V231.15H237.35V231.15H237.49V231.15H237.62V231.15H237.76V231.15H237.9V231.15H238.03V231.15H238.17V231.15H238.3V231.15H238.44V231.15H238.57V231.15H238.71V231.15H238.84V231.15H238.98V231.15H239.11V231.15H239.25V231.15H239.39V231.15H239.52V231.15H239.66V231.15H239.79V231.15H239.93V231.15H240.06V231.15H240.2V231.15H240.33V231.15H240.47V231.15H240.6V231.15H240.74V231.15H240.87V231.15Z" fill="#999999"/>
<rect x="186.9" y="218.92" width="3.5" height="12.23" fill="#e3e3e3" stroke="#c2c2c2" stroke-width="0.35"/>
<rect x="190.4" y="214.16" width="2.7" height="16.99" fill="#e3e3e3" stroke="#c2c2c2" stroke-width="0.35"/>
<rect x="193.1" y="224.36" width="2.4" height="6.8" fill="#e3e3e3" stroke="#c2c2c2" stroke-width="0.35"/>
<rect x="195.5" y="219.6" width="3.2" height="11.55" fill="#e3e3e3" stroke="#c2c2c2" stroke-width="0.35"/>
<rect x="198.7" y="224.36" width="2" height="6.8" fill="#e3e3e3" stroke="#c2c2c2" stroke-width="0.35"/>
<rect x="202.6" y="227.07" width="2" height="4.08" fill="#e3e3e3" stroke="#c2c2c2" stroke-width="0.35"/>
<rect x="207.7" y="224.36" width="2" height="6.8" fill="#e3e3e3" stroke="#c2c2c2" stroke-width="0.35"/>
<rect x="209.7" y="219.6" width="2.1" height="11.55" fill="#e3e3e3" stroke="#c2c2c2" stroke-width="0.35"/>
<rect x="211.8" y="217.56" width="2.1" height="13.59" fill="#e3e3e3" stroke="#c2c2c2" stroke-width="0.35"/>
<rect x="213.9" y="223" width="2.1" height="8.15" fill="#e3e3e3" stroke="#c2c2c2" stroke-width="0.35"/>
<rect x="216" y="215.52" width="2" height="15.63" fill="#e3e3e3" stroke="#c2c2c2" stroke-width="0.35"/>
<rect x="218" y="208.73" width="2.1" height="22.42" fill="#e3e3e3" stroke="#c2c2c2" stroke-width="0.35"/>
<rect x="220.1" y="179.51" width="2.1" height="51.64" fill="#e3e3e3" stroke="#c2c2c2" stroke-width="0.35"/>
<rect x="222.2" y="178.83" width="2.1" height="52.32" fill="#e3e3e3" stroke="#c2c2c2" stroke-width="0.35"/>
<rect x="224.3" y="177.47" width="2" height="53.68" fill="#e3e3e3" stroke="#c2c2c2" stroke-width="0.35"/>
<rect x="226.3" y="197.18" width="1.4" height="33.98" fill="#e3e3e3" stroke="#c2c2c2" stroke-width="0.35"/>
<rect x="227.7" y="206.01" width="1.8" height="25.14" fill="#e3e3e3" stroke="#c2c2c2" stroke-width="0.35"/>
<rect x="229.5" y="220.28" width="1" height="10.87" fill="#e3e3e3" stroke="#c2c2c2" stroke-width="0.35"/>
<rect x="230.5" y="227.07" width="0.8" height="4.08" fill="#e3e3e3" stroke="#c2c2c2" stroke-width="0.35"/>
<rect x="121.6" y="201.93" width="1" height="29.22" fill="#e3e3e3" stroke="#c2c2c2" stroke-width="0.35"/>
<rect x="124.2" y="203.97" width="1.4" height="27.18" fill="#e3e3e3" stroke="#c2c2c2" stroke-width="0.35"/>
<rect x="40.7" y="223.95" width="1.7" height="7.2" fill="#e3e3e3" stroke="#c2c2c2" stroke-width="0.35"/>
<rect x="43.1" y="219.94" width="1.3" height="11.21" fill="#e3e3e3" stroke="#c2c2c2" stroke-width="0.35"/>
<rect x="72" y="228.09" width="2" height="3.06" fill="#e3e3e3" stroke="#c2c2c2" stroke-width="0.35"/>
<rect x="74.7" y="216.54" width="1.3" height="14.61" fill="#e3e3e3" stroke="#c2c2c2" stroke-width="0.35"/>
<rect x="77" y="219.94" width="1" height="11.21" fill="#e3e3e3" stroke="#c2c2c2" stroke-width="0.35"/>
<rect x="79.7" y="213.21" width="1.5" height="17.94" fill="#e3e3e3" stroke="#c2c2c2" stroke-width="0.35"/>
<rect x="84.1" y="222.59" width="2" height="8.56" fill="#e3e3e3" stroke="#c2c2c2" stroke-width="0.35"/>
<rect x="90.2" y="223.88" width="0.7" height="7.27" fill="#e3e3e3" stroke="#c2c2c2" stroke-width="0.35"/>
<rect x="92.6" y="213.89" width="1.9" height="17.26" fill="#e3e3e3" stroke="#c2c2c2" stroke-width="0.35"/>
<rect x="87" y="227.75" width="1.5" height="3.4" fill="#e3e3e3" stroke="#c2c2c2" stroke-width="0.35"/>
<rect x="113.5" y="226.39" width="2" height="4.76" fill="#e3e3e3" stroke="#c2c2c2" stroke-width="0.35"/>
<rect x="115.5" y="225.03" width="2.5" height="6.12" fill="#e3e3e3" stroke="#c2c2c2" stroke-width="0.35"/>
<rect x="118" y="225.71" width="2.7" height="5.44" fill="#e3e3e3" stroke="#c2c2c2" stroke-width="0.35"/>
<rect x="127.15" y="198.53" width="0.5" height="32.62" fill="#b4b4b4"/>
<rect x="186.05" y="200.16" width="0.5" height="30.99" fill="#aaa"/>
<rect x="193.2" y="209.41" width="0.4" height="21.74" fill="#bbb"/>
<rect x="202.58" y="214.84" width="0.45" height="16.31" fill="#bbb"/>
<rect x="205.38" y="216.2" width="0.45" height="14.95" fill="#bbb"/>
<rect x="225.18" y="168.64" width="0.45" height="62.51" fill="#bbb"/>
<line x1="35.05" y1="160.7" x2="35.05" y2="231.8" stroke="#333333" stroke-width="1.3"/>
<line x1="34.4" y1="231.15" x2="241" y2="231.15" stroke="#333333" stroke-width="1.3"/>
<line x1="31.85" y1="231.15" x2="35.05" y2="231.15" stroke="#333333" stroke-width="0.9"/>
<text transform="translate(28.75 233.25) scale(0.1)" font-size="58" text-anchor="end" stroke="#1a1a1a" stroke-width="1.2" fill="#1a1a1a">0</text>
<line x1="31.85" y1="214.16" x2="35.05" y2="214.16" stroke="#333333" stroke-width="0.9"/>
<text transform="translate(28.75 216.26) scale(0.1)" font-size="58" text-anchor="end" stroke="#1a1a1a" stroke-width="1.2" fill="#1a1a1a">25</text>
<line x1="31.85" y1="197.18" x2="35.05" y2="197.18" stroke="#333333" stroke-width="0.9"/>
<text transform="translate(28.75 199.28) scale(0.1)" font-size="58" text-anchor="end" stroke="#1a1a1a" stroke-width="1.2" fill="#1a1a1a">50</text>
<line x1="31.85" y1="180.19" x2="35.05" y2="180.19" stroke="#333333" stroke-width="0.9"/>
<text transform="translate(28.75 182.29) scale(0.1)" font-size="58" text-anchor="end" stroke="#1a1a1a" stroke-width="1.2" fill="#1a1a1a">75</text>
<line x1="31.85" y1="163.2" x2="35.05" y2="163.2" stroke="#333333" stroke-width="0.9"/>
<text transform="translate(28.75 165.3) scale(0.1)" font-size="58" text-anchor="end" stroke="#1a1a1a" stroke-width="1.2" fill="#1a1a1a">100</text>
<line x1="35.05" y1="231.15" x2="35.05" y2="233.95" stroke="#333333" stroke-width="1"/>
<text transform="translate(38.45 239.95) rotate(-45) scale(0.1)" font-size="62" text-anchor="end" stroke="#1a1a1a" stroke-width="1.2" fill="#1a1a1a">Feb 15, 2020</text>
<line x1="44.93" y1="231.15" x2="44.93" y2="233.95" stroke="#333333" stroke-width="1"/>
<text transform="translate(48.33 239.95) rotate(-45) scale(0.1)" font-size="62" text-anchor="end" stroke="#1a1a1a" stroke-width="1.2" fill="#1a1a1a">Apr 28, 2020</text>
<line x1="54.82" y1="231.15" x2="54.82" y2="233.95" stroke="#333333" stroke-width="1"/>
<text transform="translate(58.22 239.95) rotate(-45) scale(0.1)" font-size="62" text-anchor="end" stroke="#1a1a1a" stroke-width="1.2" fill="#1a1a1a">Jul 10, 2020</text>
<line x1="64.7" y1="231.15" x2="64.7" y2="233.95" stroke="#333333" stroke-width="1"/>
<text transform="translate(68.11 239.95) rotate(-45) scale(0.1)" font-size="62" text-anchor="end" stroke="#1a1a1a" stroke-width="1.2" fill="#1a1a1a">Sep 21, 2020</text>
<line x1="74.59" y1="231.15" x2="74.59" y2="233.95" stroke="#333333" stroke-width="1"/>
<text transform="translate(77.99 239.95) rotate(-45) scale(0.1)" font-size="62" text-anchor="end" stroke="#1a1a1a" stroke-width="1.2" fill="#1a1a1a">Dec 03, 2020</text>
<line x1="84.47" y1="231.15" x2="84.47" y2="233.95" stroke="#333333" stroke-width="1"/>
<text transform="translate(87.88 239.95) rotate(-45) scale(0.1)" font-size="62" text-anchor="end" stroke="#1a1a1a" stroke-width="1.2" fill="#1a1a1a">Feb 14, 2021</text>
<line x1="94.36" y1="231.15" x2="94.36" y2="233.95" stroke="#333333" stroke-width="1"/>
<text transform="translate(97.76 239.95) rotate(-45) scale(0.1)" font-size="62" text-anchor="end" stroke="#1a1a1a" stroke-width="1.2" fill="#1a1a1a">Apr 28, 2021</text>
<line x1="104.24" y1="231.15" x2="104.24" y2="233.95" stroke="#333333" stroke-width="1"/>
<text transform="translate(107.64 239.95) rotate(-45) scale(0.1)" font-size="62" text-anchor="end" stroke="#1a1a1a" stroke-width="1.2" fill="#1a1a1a">Jul 10, 2021</text>
<line x1="114.13" y1="231.15" x2="114.13" y2="233.95" stroke="#333333" stroke-width="1"/>
<text transform="translate(117.53 239.95) rotate(-45) scale(0.1)" font-size="62" text-anchor="end" stroke="#1a1a1a" stroke-width="1.2" fill="#1a1a1a">Sep 21, 2021</text>
<line x1="124.02" y1="231.15" x2="124.02" y2="233.95" stroke="#333333" stroke-width="1"/>
<text transform="translate(127.42 239.95) rotate(-45) scale(0.1)" font-size="62" text-anchor="end" stroke="#1a1a1a" stroke-width="1.2" fill="#1a1a1a">Dec 03, 2021</text>
<line x1="133.9" y1="231.15" x2="133.9" y2="233.95" stroke="#333333" stroke-width="1"/>
<text transform="translate(137.3 239.95) rotate(-45) scale(0.1)" font-size="62" text-anchor="end" stroke="#1a1a1a" stroke-width="1.2" fill="#1a1a1a">Feb 14, 2022</text>
<line x1="143.78" y1="231.15" x2="143.78" y2="233.95" stroke="#333333" stroke-width="1"/>
<text transform="translate(147.19 239.95) rotate(-45) scale(0.1)" font-size="62" text-anchor="end" stroke="#1a1a1a" stroke-width="1.2" fill="#1a1a1a">Apr 28, 2022</text>
<line x1="153.67" y1="231.15" x2="153.67" y2="233.95" stroke="#333333" stroke-width="1"/>
<text transform="translate(157.07 239.95) rotate(-45) scale(0.1)" font-size="62" text-anchor="end" stroke="#1a1a1a" stroke-width="1.2" fill="#1a1a1a">Jul 10, 2022</text>
<line x1="163.56" y1="231.15" x2="163.56" y2="233.95" stroke="#333333" stroke-width="1"/>
<text transform="translate(166.96 239.95) rotate(-45) scale(0.1)" font-size="62" text-anchor="end" stroke="#1a1a1a" stroke-width="1.2" fill="#1a1a1a">Sep 21, 2022</text>
<line x1="173.44" y1="231.15" x2="173.44" y2="233.95" stroke="#333333" stroke-width="1"/>
<text transform="translate(176.84 239.95) rotate(-45) scale(0.1)" font-size="62" text-anchor="end" stroke="#1a1a1a" stroke-width="1.2" fill="#1a1a1a">Dec 03, 2022</text>
<line x1="183.32" y1="231.15" x2="183.32" y2="233.95" stroke="#333333" stroke-width="1"/>
<text transform="translate(186.72 239.95) rotate(-45) scale(0.1)" font-size="62" text-anchor="end" stroke="#1a1a1a" stroke-width="1.2" fill="#1a1a1a">Feb 14, 2023</text>
<line x1="193.21" y1="231.15" x2="193.21" y2="233.95" stroke="#333333" stroke-width="1"/>
<text transform="translate(196.61 239.95) rotate(-45) scale(0.1)" font-size="62" text-anchor="end" stroke="#1a1a1a" stroke-width="1.2" fill="#1a1a1a">Apr 28, 2023</text>
<line x1="203.09" y1="231.15" x2="203.09" y2="233.95" stroke="#333333" stroke-width="1"/>
<text transform="translate(206.49 239.95) rotate(-45) scale(0.1)" font-size="62" text-anchor="end" stroke="#1a1a1a" stroke-width="1.2" fill="#1a1a1a">Jul 10, 2023</text>
<line x1="212.98" y1="231.15" x2="212.98" y2="233.95" stroke="#333333" stroke-width="1"/>
<text transform="translate(216.38 239.95) rotate(-45) scale(0.1)" font-size="62" text-anchor="end" stroke="#1a1a1a" stroke-width="1.2" fill="#1a1a1a">Sep 21, 2023</text>
<line x1="222.87" y1="231.15" x2="222.87" y2="233.95" stroke="#333333" stroke-width="1"/>
<text transform="translate(226.27 239.95) rotate(-45) scale(0.1)" font-size="62" text-anchor="end" stroke="#1a1a1a" stroke-width="1.2" fill="#1a1a1a">Dec 03, 2023</text>
<line x1="232.75" y1="231.15" x2="232.75" y2="233.95" stroke="#333333" stroke-width="1"/>
<text transform="translate(236.15 239.95) rotate(-45) scale(0.1)" font-size="62" text-anchor="end" stroke="#1a1a1a" stroke-width="1.2" fill="#1a1a1a">Feb 14, 2024</text>
<text transform="translate(13.25 196.18) rotate(-90) scale(0.1)" font-size="63" text-anchor="middle" textLength="740" lengthAdjust="spacingAndGlyphs" stroke="#1a1a1a" stroke-width="2.5" fill="#1a1a1a">Novel coronavirus daily deaths</text>
<text transform="translate(138 155.6) scale(0.1)" font-size="77" text-anchor="middle" fill="#1a1a1a">Norway</text>
<line x1="291" y1="214.16" x2="495.5" y2="214.16" stroke="#ececec" stroke-width="0.8"/>
<line x1="291" y1="197.18" x2="495.5" y2="197.18" stroke="#ececec" stroke-width="0.8"/>
<line x1="291" y1="180.19" x2="495.5" y2="180.19" stroke="#ececec" stroke-width="0.8"/>
<line x1="291" y1="163.2" x2="495.5" y2="163.2" stroke="#ececec" stroke-width="0.8"/>
<path d="M291 231.15V231.15H291.14V231.15H291.27V231.15H291.41V231.15H291.54V231.15H291.68V231.15H291.81V231.15H291.95V231.15H292.08V231.15H292.22V231.15H292.35V231.15H292.49V231.15H292.62V231.15H292.76V231.15H292.9V231.15H293.03V231.15H293.17V231.15H293.3V231.15H293.44V231.15H293.57V231.15H293.71V231.15H293.84V231.15H293.98V230.98H294.11V230.34H294.25V230.03H294.39V229.38H294.52V227.67H294.66V227.23H294.79V226.97H294.93V227.83H295.06V227.17H295.2V226.96H295.33V226.52H295.47V225.05H295.6V225.15H295.74V224.3H295.87V224.87H296.01V224.16H296.15V223.73H296.28V223.13H296.42V220.52H296.55V222.25H296.69V222.2H296.82V219.84H296.96V219.08H297.09V218.66H297.23V217.12H297.36V220.49H297.5V219.02H297.64V222.17H297.77V222.43H297.91V219.89H298.04V221.9H298.18V221.74H298.31V223.5H298.45V223.04H298.58V222.82H298.72V224.02H298.85V222.15H298.99V222.14H299.12V223.47H299.26V223.11H299.4V222.85H299.53V221.96H299.67V222.71H299.8V223.59H299.94V222.82H300.07V224.65H300.21V224.43H300.34V224.23H300.48V223.72H300.61V223.27H300.75V224.69H300.88V223.47H301.02V222.86H301.16V224.78H301.29V223.55H301.43V222.98H301.56V224.1H301.7V225.42H301.83V225.33H301.97V226.34H302.1V226.41H302.24V227.07H302.37V226.85H302.51V227.55H302.65V227.12H302.78V226.56H302.92V227.65H303.05V228.97H303.19V228.61H303.32V228.83H303.46V229.38H303.59V228.79H303.73V229.6H303.86V228.53H304V229.59H304.13V229.13H304.27V230.07H304.41V230.08H304.54V229.71H304.68V229.18H304.81V229.75H304.95V229.65H305.08V229.6H305.22V230.02H305.35V230.39H305.49V230.5H305.62V230.49H305.76V230.53H305.9V230.28H306.03V230H306.17V230.43H306.3V230.79H306.44V230.57H306.57V230.83H306.71V230.29H306.84V230.83H306.98V230.36H307.11V230.73H307.25V230.8H307.38V230.89H307.52V230.81H307.66V230.83H307.79V230.92H307.93V230.69H308.06V230.91H308.2V230.9H308.33V230.68H308.47V230.57H308.6V230.81H308.74V230.93H308.87V230.93H309.01V230.96H309.15V230.48H309.28V230.8H309.42V230.94H309.55V230.87H309.69V230.64H309.82V230.93H309.96V230.57H310.09V230.88H310.23V230.51H310.36V230.72H310.5V230.8H310.63V230.94H310.77V230.89H310.91V230.71H311.04V230.93H311.18V230.71H311.31V230.66H311.45V230.91H311.58V230.65H311.72V230.57H311.85V230.51H311.99V230.47H312.12V230.66H312.26V230.84H312.39V230.64H312.53V230.58H312.67V230.83H312.8V230.94H312.94V230.94H313.07V230.77H313.21V230.64H313.34V230.75H313.48V230.91H313.61V230.92H313.75V230.93H313.88V230.87H314.02V230.56H314.16V230.47H314.29V230.85H314.43V230.68H314.56V230.89H314.7V230.63H314.83V230.56H314.97V230.78H315.1V230.88H315.24V230.71H315.37V230.68H315.51V230.95H315.64V230.55H315.78V230.64H315.92V230.94H316.05V230.86H316.19V230.96H316.32V230.9H316.46V230.69H316.59V230.87H316.73V230.72H316.86V230.89H317V230.92H317.13V230.68H317.27V230.95H317.41V230.8H317.54V230.87H317.68V230.89H317.81V230.61H317.95V230.58H318.08V230.8H318.22V230.86H318.35V230.59H318.49V230.95H318.62V230.57H318.76V230.68H318.89V230.89H319.03V230.77H319.17V230.94H319.3V230.7H319.44V230.83H319.57V230.94H319.71V230.89H319.84V230.91H319.98V230.91H320.11V230.68H320.25V230.88H320.38V230.65H320.52V230.7H320.65V230.87H320.79V230.91H320.93V230.83H321.06V230.5H321.2V230.2H321.33V230.62H321.47V230.67H321.6V230.6H321.74V230.49H321.87V230.24H322.01V230.4H322.14V229.93H322.28V229.13H322.42V230.31H322.55V230.13H322.69V229.15H322.82V229.73H322.96V230.15H323.09V229.83H323.23V229.18H323.36V230.16H323.5V228.99H323.63V229.8H323.77V230.03H323.9V229.27H324.04V229.61H324.18V229.83H324.31V229.7H324.45V229.64H324.58V228.13H324.72V227.92H324.85V229.4H324.99V228.32H325.12V228.98H325.26V229.32H325.39V228.28H325.53V228.11H325.67V229.68H325.8V228.23H325.94V228.67H326.07V229.36H326.21V228.71H326.34V229.32H326.48V229.01H326.61V229.82H326.75V229.02H326.88V228.87H327.02V229.72H327.15V228.4H327.29V229.44H327.43V229.59H327.56V228.15H327.7V228.89H327.83V229.3H327.97V228.99H328.1V228.71H328.24V227.14H328.37V228.87H328.51V227.01H328.64V228.21H328.78V228.52H328.92V226.5H329.05V227.86H329.19V227.26H329.32V226.67H329.46V225.36H329.59V227.41H329.73V227.12H329.86V226.82H330V226.36H330.13V224.23H330.27V226.18H330.4V223.58H330.54V224.63H330.68V223.25H330.81V224.84H330.95V224.48H331.08V222.46H331.22V222.78H331.35V222.4H331.49V222.69H331.62V220.15H331.76V221.75H331.89V219.28H332.03V218.76H332.16V218H332.3V213.98H332.44V215.38H332.57V215.66H332.71V214.57H332.84V215.45H332.98V215.57H333.11V213.66H333.25V210.76H333.38V210.65H333.52V214.2H333.65V213.65H333.79V212.61H333.93V208.27H334.06V213.5H334.2V210.91H334.33V208.16H334.47V204.32H334.6V207.59H334.74V210.15H334.87V210.92H335.01V207.32H335.14V209.05H335.28V204.38H335.41V209.6H335.55V205.13H335.69V203.49H335.82V211.19H335.96V209.87H336.09V207.4H336.23V205.12H336.36V210.6H336.5V211.34H336.63V212.29H336.77V211.98H336.9V207.26H337.04V208.7H337.18V214.26H337.31V210.8H337.45V207.76H337.58V212.95H337.72V215.53H337.85V214.63H337.99V216.37H338.12V214.14H338.26V215.06H338.39V216.58H338.53V212.82H338.66V215.87H338.8V217.85H338.94V210.3H339.07V216.67H339.21V219.02H339.34V218.88H339.48V218.72H339.61V219.41H339.75V222.02H339.88V222.61H340.02V223.6H340.15V223.07H340.29V223.22H340.43V225.47H340.56V225.77H340.7V225.03H340.83V224.09H340.97V226.57H341.1V225.38H341.24V225.69H341.37V226.27H341.51V226.71H341.64V227.67H341.78V226.54H341.91V228.39H342.05V229.11H342.19V227.62H342.32V228.19H342.46V228.42H342.59V228.61H342.73V229.31H342.86V229.02H343V229.3H343.13V228.72H343.27V229.61H343.4V229.02H343.54V228.72H343.67V229.49H343.81V229.7H343.95V229.29H344.08V229.34H344.22V228.68H344.35V228.85H344.49V229.89H344.62V229.62H344.76V229.5H344.89V229.69H345.03V229.09H345.16V229.89H345.3V229.19H345.44V230.14H345.57V229.97H345.71V230.07H345.84V230.15H345.98V229.97H346.11V230.11H346.25V230.19H346.38V229.48H346.52V230.05H346.65V230.05H346.79V230.19H346.92V229.4H347.06V229.49H347.2V230.21H347.33V230.18H347.47V229.96H347.6V229.8H347.74V229.9H347.87V230.18H348.01V230.17H348.14V229.72H348.28V230.1H348.41V230.21H348.55V230.12H348.69V230.17H348.82V230.21H348.96V230.15H349.09V229.67H349.23V230.27H349.36V229.97H349.5V230.24H349.63V229.82H349.77V230.15H349.9V230.32H350.04V229.7H350.17V229.57H350.31V229.67H350.45V230.13H350.58V230.27H350.72V230.32H350.85V230.12H350.99V230.27H351.12V230.29H351.26V229.75H351.39V230.33H351.53V230.33H351.66V229.95H351.8V230.33H351.93V229.9H352.07V230.27H352.21V230.34H352.34V230.15H352.48V230.1H352.61V230.43H352.75V230.3H352.88V230.17H353.02V230.07H353.15V230.1H353.29V230.37H353.42V229.77H353.56V229.92H353.7V230.33H353.83V230.24H353.97V229.93H354.1V230.2H354.24V230.4H354.37V230.32H354.51V230.08H354.64V230.44H354.78V230.41H354.91V230.29H355.05V230.26H355.18V230.41H355.32V230.51H355.46V230.23H355.59V230.2H355.73V230.51H355.86V230.32H356V230.41H356.13V230.01H356.27V230.18H356.4V230.43H356.54V230.5H356.67V230.49H356.81V230.22H356.95V230.52H357.08V230.46H357.22V230.31H357.35V230.53H357.49V230.1H357.62V230.53H357.76V230.12H357.89V230.01H358.03V230.08H358.16V230.29H358.3V230.19H358.43V230.47H358.57V230.07H358.71V230.15H358.84V230.58H358.98V230.2H359.11V230.05H359.25V230.51H359.38V230.54H359.52V230.55H359.65V230.18H359.79V230.61H359.92V230.61H360.06V229.96H360.19V230.57H360.33V230.53H360.47V230.06H360.6V230.37H360.74V230.68H360.87V230.64H361.01V230.47H361.14V230.63H361.28V230.63H361.41V230.69H361.55V230.69H361.68V230.7H361.82V230.44H361.96V230.66H362.09V230.03H362.23V230.07H362.36V230.63H362.5V230.59H362.63V230.73H362.77V230.6H362.9V230.1H363.04V230.75H363.17V230.27H363.31V230.57H363.44V230.3H363.58V230.48H363.72V230.12H363.85V230.69H363.99V230.4H364.12V230.48H364.26V230.45H364.39V230.77H364.53V230.61H364.66V230.76H364.8V230.72H364.93V230.16H365.07V230.59H365.21V230.53H365.34V230.55H365.48V230.67H365.61V230.72H365.75V230.68H365.88V230.54H366.02V230.66H366.15V230.47H366.29V230.45H366.42V230.22H366.56V230.33H366.69V230.03H366.83V230.57H366.97V229.55H367.1V230.46H367.24V230.55H367.37V230.28H367.51V229.67H367.64V230.41H367.78V230.47H367.91V230.36H368.05V229.47H368.18V230.34H368.32V230.02H368.46V230.5H368.59V230.4H368.73V230.47H368.86V229.66H369V230.37H369.13V229.93H369.27V229.86H369.4V230.3H369.54V230.13H369.67V230.08H369.81V229.87H369.94V230.12H370.08V229.91H370.22V230.34H370.35V229.11H370.49V230.08H370.62V230.43H370.76V230.23H370.89V230.38H371.03V230.08H371.16V229.85H371.3V230.44H371.43V230.47H371.57V229.86H371.7V229.98H371.84V230.5H371.98V230.06H372.11V229.74H372.25V230.34H372.38V229.71H372.52V230.16H372.65V230.17H372.79V229.38H372.92V229.03H373.06V230.25H373.19V228.83H373.33V230.17H373.47V229.86H373.6V230.04H373.74V229.61H373.87V230.02H374.01V228.34H374.14V228.48H374.28V229.21H374.41V229.71H374.55V229.59H374.68V229.78H374.82V228.97H374.95V229.24H375.09V229.62H375.23V229.39H375.36V227.94H375.5V229.08H375.63V229.12H375.77V226.89H375.9V226.58H376.04V228.41H376.17V226.95H376.31V226.58H376.44V228.6H376.58V227.58H376.72V228.51H376.85V228.32H376.99V225.44H377.12V227.46H377.26V226.83H377.39V227.43H377.53V227.83H377.66V227.37H377.8V227.65H377.93V224.92H378.07V224.39H378.2V227.27H378.34V224.63H378.48V227H378.61V226.12H378.75V226.61H378.88V225.2H379.02V225.46H379.15V226.4H379.29V224.09H379.42V225.45H379.56V223.33H379.69V223.12H379.83V225.91H379.97V225.04H380.1V224.07H380.24V224.81H380.37V223.71H380.51V225.35H380.64V222.71H380.78V225.1H380.91V225.23H381.05V223.63H381.18V223.28H381.32V223.18H381.45V223.62H381.59V224.99H381.73V221.8H381.86V220.43H382V223.85H382.13V222.28H382.27V220.04H382.4V224.03H382.54V224.18H382.67V223.46H382.81V224.13H382.94V220.19H383.08V220.71H383.21V221.35H383.35V223.1H383.49V221.11H383.62V222.06H383.76V218.58H383.89V222.25H384.03V223.09H384.16V218.11H384.3V218.96H384.43V221.35H384.57V217.65H384.7V221.27H384.84V222.15H384.98V218.4H385.11V221.96H385.25V219.3H385.38V220.42H385.52V212.24H385.65V219.65H385.79V221.26H385.92V219.04H386.06V220.94H386.19V220.49H386.33V219.58H386.46V216.22H386.6V220H386.74V219.84H386.87V216.55H387.01V213.17H387.14V219.03H387.28V217.44H387.41V218.56H387.55V218.1H387.68V217.82H387.82V217.66H387.95V217.99H388.09V214.99H388.23V215.73H388.36V215.19H388.5V217.31H388.63V214.09H388.77V215.32H388.9V215.42H389.04V210.7H389.17V214.28H389.31V214.03H389.44V210.84H389.58V206.71H389.71V209.1H389.85V212.28H389.99V212.12H390.12V211.45H390.26V212.58H390.39V205.86H390.53V207.94H390.66V206.42H390.8V206.18H390.93V208H391.07V208.81H391.2V208.45H391.34V201.52H391.47V203.42H391.61V203.74H391.75V196.18H391.88V199.83H392.02V198.17H392.15V205.11H392.29V199.33H392.42V193.61H392.56V194.23H392.69V200.11H392.83V201.99H392.96V203.46H393.1V203.77H393.24V200.01H393.37V205.53H393.51V200.82H393.64V206.79H393.78V201.14H393.91V206.86H394.05V201.43H394.18V206.85H394.32V209.99H394.45V208.06H394.59V210.89H394.72V206.59H394.86V211.86H395V211.85H395.13V209.37H395.27V211.85H395.4V212.04H395.54V213.09H395.67V213.06H395.81V214.09H395.94V214.9H396.08V214.87H396.21V211.84H396.35V211.4H396.49V215.79H396.62V217.25H396.76V214.19H396.89V216.22H397.03V217.91H397.16V217.31H397.3V220.02H397.43V221.45H397.57V217.98H397.7V220.45H397.84V221.12H397.97V221.12H398.11V221.1H398.25V221.15H398.38V221.06H398.52V219.63H398.65V221.36H398.79V222.42H398.92V223.13H399.06V223.51H399.19V223.83H399.33V220.04H399.46V221.9H399.6V222.81H399.74V224.79H399.87V224.66H400.01V224.16H400.14V225.26H400.28V221.63H400.41V224.97H400.55V223.77H400.68V223.91H400.82V223.6H400.95V222.06H401.09V226.79H401.22V222.32H401.36V226.38H401.5V225.6H401.63V224.93H401.77V227.26H401.9V225.11H402.04V226.8H402.17V227.42H402.31V226.44H402.44V228.48H402.58V227.03H402.71V223.42H402.85V226.7H402.98V228.97H403.12V227.52H403.26V224.14H403.39V224.82H403.53V229.2H403.66V228.87H403.8V229.24H403.93V228.28H404.07V229.36H404.2V227.24H404.34V225.99H404.47V226.97H404.61V227.87H404.75V227.44H404.88V229.1H405.02V229.61H405.15V227.65H405.29V229.12H405.42V227.97H405.56V229.44H405.69V229.41H405.83V227.36H405.96V228.17H406.1V228.7H406.23V229.38H406.37V229.31H406.51V228.98H406.64V229.11H406.78V228.65H406.91V229.08H407.05V228.6H407.18V228.94H407.32V228.01H407.45V227.58H407.59V227.35H407.72V227.01H407.86V228.55H408V227.19H408.13V228.05H408.27V224.33H408.4V225.46H408.54V226.85H408.67V227.14H408.81V225.35H408.94V224.98H409.08V226.34H409.21V225.87H409.35V223.96H409.48V227.19H409.62V221.29H409.76V224.02H409.89V223.5H410.03V219.73H410.16V222.11H410.3V225.7H410.43V223.32H410.57V221.62H410.7V225.61H410.84V225.71H410.97V225.12H411.11V221.81H411.24V222.63H411.38V217.99H411.52V217.64H411.65V220.79H411.79V219.57H411.92V225.16H412.06V219.24H412.19V223.38H412.33V222.14H412.46V219H412.6V223.95H412.73V218.11H412.87V214.71H413.01V223.21H413.14V222.78H413.28V223.28H413.41V221.64H413.55V221.94H413.68V214.03H413.82V213.21H413.95V214.42H414.09V219.97H414.22V218.05H414.36V214.8H414.49V215.64H414.63V221.9H414.77V223.59H414.9V221.04H415.04V223.68H415.17V220.64H415.31V223.85H415.44V218.17H415.58V220.85H415.71V222.01H415.85V224.9H415.98V217.76H416.12V225.55H416.26V224.91H416.39V225.27H416.53V225.65H416.66V220.02H416.8V223.95H416.93V222.74H417.07V223.41H417.2V220.41H417.34V223.92H417.47V220.49H417.61V220.81H417.74V226.75H417.88V226.22H418.02V221.39H418.15V226.34H418.29V224.25H418.42V226.59H418.56V226.29H418.69V225.73H418.83V225.7H418.96V222.16H419.1V223.83H419.23V220.4H419.37V224.18H419.5V226.1H419.64V218.68H419.78V225.17H419.91V225.53H420.05V220.89H420.18V225.36H420.32V219.63H420.45V224.83H420.59V222.39H420.72V216.47H420.86V224.81H420.99V221.91H421.13V225.5H421.27V219.98H421.4V225.18H421.54V222.25H421.67V219.09H421.81V218.31H421.94V215.98H422.08V223.43H422.21V223.56H422.35V223.82H422.48V224.29H422.62V224.4H422.75V218.86H422.89V225.32H423.03V224.61H423.16V219.67H423.3V217.95H423.43V222.94H423.57V223.86H423.7V224.45H423.84V225.04H423.97V219.88H424.11V219.94H424.24V225.92H424.38V219.56H424.52V219.19H424.65V219.76H424.79V216.88H424.92V222.83H425.06V225.64H425.19V226H425.33V225.11H425.46V218.87H425.6V216.99H425.73V225.86H425.87V226.23H426V226.13H426.14V226.8H426.28V219.5H426.41V219.73H426.55V226.62H426.68V225.58H426.82V221.96H426.95V226.2H427.09V226.94H427.22V219.59H427.36V226.84H427.49V226.74H427.63V225.15H427.77V227.53H427.9V221.47H428.04V224.61H428.17V224.66H428.31V218.8H428.44V218.28H428.58V225.67H428.71V220.86H428.85V225.06H428.98V220.5H429.12V228.11H429.25V227.79H429.39V218.92H429.53V222.2H429.66V225.91H429.8V220.9H429.93V226.74H430.07V220.59H430.2V226.23H430.34V221.84H430.47V228.04H430.61V227.6H430.74V222.58H430.88V224.62H431.01V228.2H431.15V222H431.29V224.81H431.42V225.57H431.56V221.8H431.69V224.44H431.83V228.28H431.96V228.5H432.1V226.38H432.23V221.9H432.37V217.34H432.5V227.5H432.64V226.76H432.78V213.97H432.91V224.56H433.05V214.78H433.18V218.21H433.32V226.71H433.45V222.73H433.59V221.52H433.72V227.01H433.86V222.98H433.99V224.2H434.13V227.43H434.26V217.84H434.4V218.87H434.54V223.22H434.67V212.35H434.81V224.11H434.94V224.8H435.08V224.49H435.21V227.43H435.35V226.55H435.48V226.12H435.62V220.27H435.75V214.85H435.89V214.46H436.03V216.85H436.16V226.54H436.3V221.23H436.43V223.71H436.57V214.74H436.7V216.07H436.84V226.89H436.97V219.88H437.11V226.37H437.24V220.28H437.38V228.29H437.51V227.74H437.65V227.32H437.79V228.57H437.92V226.74H438.06V226.54H438.19V224.93H438.33V222.83H438.46V228.84H438.6V225.94H438.73V228.07H438.87V224.32H439V227.35H439.14V226.5H439.27V224.78H439.41V228.84H439.55V228.25H439.68V228.04H439.82V227.8H439.95V227.59H440.09V229.22H440.22V228.07H440.36V229.2H440.49V223.2H440.63V222.19H440.76V222.45H440.9V228.22H441.04V228.88H441.17V226.2H441.31V228.89H441.44V223.48H441.58V222.39H441.71V228.91H441.85V225.49H441.98V228.91H442.12V229.05H442.25V228.81H442.39V228.7H442.52V228.82H442.66V228.14H442.8V229.2H442.93V229.07H443.07V229.1H443.2V224.18H443.34V228.57H443.47V228.06H443.61V229.18H443.74V229.06H443.88V228.57H444.01V226.95H444.15V227.43H444.29V227.5H444.42V225.43H444.56V228.96H444.69V226.25H444.83V228.72H444.96V228.81H445.1V227.57H445.23V224.76H445.37V228.67H445.5V228.71H445.64V223.23H445.77V227.69H445.91V223.54H446.05V225.75H446.18V229.21H446.32V222.81H446.45V222.86H446.59V228.55H446.72V228.63H446.86V228.38H446.99V222.26H447.13V227.09H447.26V223.51H447.4V228.16H447.54V226.81H447.67V225.95H447.81V228.81H447.94V222.63H448.08V224.13H448.21V227.58H448.35V225.65H448.48V227.01H448.62V223.15H448.75V228.1H448.89V226.84H449.02V228.73H449.16V228.58H449.3V226.1H449.43V229.13H449.57V226.74H449.7V228.51H449.84V226.93H449.97V228.06H450.11V228.44H450.24V224.94H450.38V225.72H450.51V228.82H450.65V225.79H450.78V223.51H450.92V228.75H451.06V228.88H451.19V224.96H451.33V226.65H451.46V228.14H451.6V228.47H451.73V227.24H451.87V228.36H452V225.72H452.14V228.3H452.27V224.5H452.41V225.03H452.55V226.03H452.68V229.15H452.82V229.04H452.95V226.19H453.09V228.8H453.22V224.21H453.36V228.55H453.49V225.29H453.63V225.12H453.76V225.66H453.9V228H454.03V229.83H454.17V226.85H454.31V229.66H454.44V227.08H454.58V229.84H454.71V230.36H454.85V230.42H454.98V230.36H455.12V230.23H455.25V230.37H455.39V230.68H455.52V230.58H455.66V229.84H455.8V230.82H455.93V230.24H456.07V230.85H456.2V230.84H456.34V230.4H456.47V230.86H456.61V230.42H456.74V230.86H456.88V230.48H457.01V230.87H457.15V230.89H457.28V230.91H457.42V230.78H457.56V230.56H457.69V230.88H457.83V230.8H457.96V230.88H458.1V230.74H458.23V230.79H458.37V230.71H458.5V230.94H458.64V230.91H458.77V230.74H458.91V230.95H459.05V230.86H459.18V230.83H459.32V230.96H459.45V230.95H459.59V230.8H459.72V230.87H459.86V230.74H459.99V230.59H460.13V230.94H460.26V230.8H460.4V230.95H460.53V230.97H460.67V230.97H460.81V230.9H460.94V230.64H461.08V230.85H461.21V230.93H461.35V230.98H461.48V230.77H461.62V230.81H461.75V230.93H461.89V230.95H462.02V230.87H462.16V230.89H462.29V230.96H462.43V230.92H462.57V230.73H462.7V230.93H462.84V230.71H462.97V230.93H463.11V230.93H463.24V231H463.38V230.92H463.51V230.98H463.65V230.97H463.78V231H463.92V230.99H464.06V230.87H464.19V230.93H464.33V230.77H464.46V230.8H464.6V230.99H464.73V230.85H464.87V230.8H465V230.8H465.14V230.93H465.27V231.02H465.41V231.03H465.54V230.8H465.68V230.99H465.82V230.81H465.95V230.86H466.09V231H466.22V230.96H466.36V230.97H466.49V231.03H466.63V231.06H466.76V230.94H466.9V230.9H467.03V230.86H467.17V230.99H467.31V230.98H467.44V230.9H467.58V230.9H467.71V230.99H467.85V231H467.98V230.86H468.12V231.06H468.25V231.1H468.39V231.02H468.52V231.07H468.66V230.91H468.79V231.03H468.93V231.12H469.07V231.05H469.2V231.12H469.34V231.11H469.47V231.13H469.61V231.11H469.74V231.14H469.88V231.09H470.01V231.15H470.15V231.15H470.28V231.15H470.42V231.15H470.55V231.15H470.69V231.15H470.83V231.15H470.96V231.15H471.1V231.15H471.23V231.15H471.37V231.15H471.5V231.15H471.64V231.15H471.77V231.15H471.91V231.15H472.04V231.15H472.18V231.15H472.32V231.15H472.45V231.15H472.59V231.15H472.72V231.15H472.86V231.15H472.99V231.15H473.13V231.15H473.26V231.15H473.4V231.15H473.53V231.15H473.67V231.15H473.8V231.15H473.94V231.15H474.08V231.15H474.21V231.15H474.35V231.15H474.48V231.15H474.62V231.15H474.75V231.15H474.89V231.15H475.02V231.15H475.16V231.15H475.29V231.15H475.43V231.15H475.57V231.15H475.7V231.15H475.84V231.15H475.97V231.15H476.11V231.15H476.24V231.15H476.38V231.15H476.51V231.15H476.65V231.15H476.78V231.15H476.92V231.15H477.05V231.15H477.19V231.15H477.33V231.15H477.46V231.15H477.6V231.15H477.73V231.15H477.87V231.15H478V231.15H478.14V231.15H478.27V231.15H478.41V231.15H478.54V231.15H478.68V231.15H478.81V231.15H478.95V231.15H479.09V231.15H479.22V231.15H479.36V231.15H479.49V231.15H479.63V231.15H479.76V231.15H479.9V231.15H480.03V231.15H480.17V231.15H480.3V231.15H480.44V231.15H480.58V231.15H480.71V231.15H480.85V231.15H480.98V231.15H481.12V231.15H481.25V231.15H481.39V231.15H481.52V231.15H481.66V231.15H481.79V231.15H481.93V231.15H482.06V231.15H482.2V231.15H482.34V231.15H482.47V231.15H482.61V231.15H482.74V231.15H482.88V231.15H483.01V231.15H483.15V231.15H483.28V231.15H483.42V231.15H483.55V231.15H483.69V231.15H483.83V231.15H483.96V231.15H484.1V231.15H484.23V231.15H484.37V231.15H484.5V231.15H484.64V231.15H484.77V231.15H484.91V231.15H485.04V231.15H485.18V231.15H485.31V231.15H485.45V231.15H485.59V231.15H485.72V231.15H485.86V231.15H485.99V231.15H486.13V231.15H486.26V231.15H486.4V231.15H486.53V231.15H486.67V231.15H486.8V231.15H486.94V231.15H487.08V231.15H487.21V231.15H487.35V231.15H487.48V231.15H487.62V231.15H487.75V231.15H487.89V231.15H488.02V231.15H488.16V231.15H488.29V231.15H488.43V231.15H488.56V231.15H488.7V231.15H488.84V231.15H488.97V231.15H489.11V231.15H489.24V231.15H489.38V231.15H489.51V231.15H489.65V231.15H489.78V231.15H489.92V231.15H490.05V231.15H490.19V231.15H490.32V231.15H490.46V231.15H490.6V231.15H490.73V231.15H490.87V231.15H491V231.15H491.14V231.15H491.27V231.15H491.41V231.15H491.54V231.15H491.68V231.15H491.81V231.15H491.95V231.15H492.09V231.15H492.22V231.15H492.36V231.15H492.49V231.15H492.63V231.15H492.76V231.15H492.9V231.15H493.03V231.15H493.17V231.15H493.3V231.15H493.44V231.15H493.57V231.15H493.71V231.15H493.85V231.15H493.98V231.15H494.12V231.15H494.25V231.15H494.39V231.15H494.52V231.15H494.66V231.15H494.79V231.15H494.93V231.15H495.06V231.15H495.2V231.15H495.34V231.15H495.47V231.15H495.61V231.15H495.74V231.15H495.88V231.15H496.01V231.15H496.15V231.15H496.28V231.15H496.42V231.15Z" fill="#999999"/>
<rect x="395.95" y="176.79" width="0.5" height="54.36" fill="#aaa"/>
<rect x="413.25" y="198.53" width="0.5" height="32.62" fill="#aaa"/>
<rect x="424.15" y="205.33" width="0.5" height="25.82" fill="#bbb"/>
<rect x="433.7" y="197.18" width="0.6" height="33.98" fill="#bbb"/>
<rect x="435.7" y="198.53" width="0.6" height="32.62" fill="#bbb"/>
<line x1="291" y1="160.7" x2="291" y2="231.8" stroke="#333333" stroke-width="1.3"/>
<line x1="290.35" y1="231.15" x2="496.5" y2="231.15" stroke="#333333" stroke-width="1.3"/>
<line x1="287.8" y1="231.15" x2="291" y2="231.15" stroke="#333333" stroke-width="0.9"/>
<text transform="translate(284.7 233.25) scale(0.1)" font-size="58" text-anchor="end" stroke="#1a1a1a" stroke-width="1.2" fill="#1a1a1a">0</text>
<line x1="287.8" y1="214.16" x2="291" y2="214.16" stroke="#333333" stroke-width="0.9"/>
<text transform="translate(284.7 216.26) scale(0.1)" font-size="58" text-anchor="end" stroke="#1a1a1a" stroke-width="1.2" fill="#1a1a1a">25</text>
<line x1="287.8" y1="197.18" x2="291" y2="197.18" stroke="#333333" stroke-width="0.9"/>
<text transform="translate(284.7 199.28) scale(0.1)" font-size="58" text-anchor="end" stroke="#1a1a1a" stroke-width="1.2" fill="#1a1a1a">50</text>
<line x1="287.8" y1="180.19" x2="291" y2="180.19" stroke="#333333" stroke-width="0.9"/>
<text transform="translate(284.7 182.29) scale(0.1)" font-size="58" text-anchor="end" stroke="#1a1a1a" stroke-width="1.2" fill="#1a1a1a">75</text>
<line x1="287.8" y1="163.2" x2="291" y2="163.2" stroke="#333333" stroke-width="0.9"/>
<text transform="translate(284.7 165.3) scale(0.1)" font-size="58" text-anchor="end" stroke="#1a1a1a" stroke-width="1.2" fill="#1a1a1a">100</text>
<line x1="291" y1="231.15" x2="291" y2="233.95" stroke="#333333" stroke-width="1"/>
<text transform="translate(294.4 239.95) rotate(-45) scale(0.1)" font-size="62" text-anchor="end" stroke="#1a1a1a" stroke-width="1.2" fill="#1a1a1a">Feb 15, 2020</text>
<line x1="300.88" y1="231.15" x2="300.88" y2="233.95" stroke="#333333" stroke-width="1"/>
<text transform="translate(304.28 239.95) rotate(-45) scale(0.1)" font-size="62" text-anchor="end" stroke="#1a1a1a" stroke-width="1.2" fill="#1a1a1a">Apr 28, 2020</text>
<line x1="310.77" y1="231.15" x2="310.77" y2="233.95" stroke="#333333" stroke-width="1"/>
<text transform="translate(314.17 239.95) rotate(-45) scale(0.1)" font-size="62" text-anchor="end" stroke="#1a1a1a" stroke-width="1.2" fill="#1a1a1a">Jul 10, 2020</text>
<line x1="320.65" y1="231.15" x2="320.65" y2="233.95" stroke="#333333" stroke-width="1"/>
<text transform="translate(324.05 239.95) rotate(-45) scale(0.1)" font-size="62" text-anchor="end" stroke="#1a1a1a" stroke-width="1.2" fill="#1a1a1a">Sep 21, 2020</text>
<line x1="330.54" y1="231.15" x2="330.54" y2="233.95" stroke="#333333" stroke-width="1"/>
<text transform="translate(333.94 239.95) rotate(-45) scale(0.1)" font-size="62" text-anchor="end" stroke="#1a1a1a" stroke-width="1.2" fill="#1a1a1a">Dec 03, 2020</text>
<line x1="340.43" y1="231.15" x2="340.43" y2="233.95" stroke="#333333" stroke-width="1"/>
<text transform="translate(343.82 239.95) rotate(-45) scale(0.1)" font-size="62" text-anchor="end" stroke="#1a1a1a" stroke-width="1.2" fill="#1a1a1a">Feb 14, 2021</text>
<line x1="350.31" y1="231.15" x2="350.31" y2="233.95" stroke="#333333" stroke-width="1"/>
<text transform="translate(353.71 239.95) rotate(-45) scale(0.1)" font-size="62" text-anchor="end" stroke="#1a1a1a" stroke-width="1.2" fill="#1a1a1a">Apr 28, 2021</text>
<line x1="360.19" y1="231.15" x2="360.19" y2="233.95" stroke="#333333" stroke-width="1"/>
<text transform="translate(363.59 239.95) rotate(-45) scale(0.1)" font-size="62" text-anchor="end" stroke="#1a1a1a" stroke-width="1.2" fill="#1a1a1a">Jul 10, 2021</text>
<line x1="370.08" y1="231.15" x2="370.08" y2="233.95" stroke="#333333" stroke-width="1"/>
<text transform="translate(373.48 239.95) rotate(-45) scale(0.1)" font-size="62" text-anchor="end" stroke="#1a1a1a" stroke-width="1.2" fill="#1a1a1a">Sep 21, 2021</text>
<line x1="379.97" y1="231.15" x2="379.97" y2="233.95" stroke="#333333" stroke-width="1"/>
<text transform="translate(383.37 239.95) rotate(-45) scale(0.1)" font-size="62" text-anchor="end" stroke="#1a1a1a" stroke-width="1.2" fill="#1a1a1a">Dec 03, 2021</text>
<line x1="389.85" y1="231.15" x2="389.85" y2="233.95" stroke="#333333" stroke-width="1"/>
<text transform="translate(393.25 239.95) rotate(-45) scale(0.1)" font-size="62" text-anchor="end" stroke="#1a1a1a" stroke-width="1.2" fill="#1a1a1a">Feb 14, 2022</text>
<line x1="399.74" y1="231.15" x2="399.74" y2="233.95" stroke="#333333" stroke-width="1"/>
<text transform="translate(403.13 239.95) rotate(-45) scale(0.1)" font-size="62" text-anchor="end" stroke="#1a1a1a" stroke-width="1.2" fill="#1a1a1a">Apr 28, 2022</text>
<line x1="409.62" y1="231.15" x2="409.62" y2="233.95" stroke="#333333" stroke-width="1"/>
<text transform="translate(413.02 239.95) rotate(-45) scale(0.1)" font-size="62" text-anchor="end" stroke="#1a1a1a" stroke-width="1.2" fill="#1a1a1a">Jul 10, 2022</text>
<line x1="419.5" y1="231.15" x2="419.5" y2="233.95" stroke="#333333" stroke-width="1"/>
<text transform="translate(422.9 239.95) rotate(-45) scale(0.1)" font-size="62" text-anchor="end" stroke="#1a1a1a" stroke-width="1.2" fill="#1a1a1a">Sep 21, 2022</text>
<line x1="429.39" y1="231.15" x2="429.39" y2="233.95" stroke="#333333" stroke-width="1"/>
<text transform="translate(432.79 239.95) rotate(-45) scale(0.1)" font-size="62" text-anchor="end" stroke="#1a1a1a" stroke-width="1.2" fill="#1a1a1a">Dec 03, 2022</text>
<line x1="439.27" y1="231.15" x2="439.27" y2="233.95" stroke="#333333" stroke-width="1"/>
<text transform="translate(442.67 239.95) rotate(-45) scale(0.1)" font-size="62" text-anchor="end" stroke="#1a1a1a" stroke-width="1.2" fill="#1a1a1a">Feb 14, 2023</text>
<line x1="449.16" y1="231.15" x2="449.16" y2="233.95" stroke="#333333" stroke-width="1"/>
<text transform="translate(452.56 239.95) rotate(-45) scale(0.1)" font-size="62" text-anchor="end" stroke="#1a1a1a" stroke-width="1.2" fill="#1a1a1a">Apr 28, 2023</text>
<line x1="459.04" y1="231.15" x2="459.04" y2="233.95" stroke="#333333" stroke-width="1"/>
<text transform="translate(462.44 239.95) rotate(-45) scale(0.1)" font-size="62" text-anchor="end" stroke="#1a1a1a" stroke-width="1.2" fill="#1a1a1a">Jul 10, 2023</text>
<line x1="468.93" y1="231.15" x2="468.93" y2="233.95" stroke="#333333" stroke-width="1"/>
<text transform="translate(472.33 239.95) rotate(-45) scale(0.1)" font-size="62" text-anchor="end" stroke="#1a1a1a" stroke-width="1.2" fill="#1a1a1a">Sep 21, 2023</text>
<line x1="478.81" y1="231.15" x2="478.81" y2="233.95" stroke="#333333" stroke-width="1"/>
<text transform="translate(482.21 239.95) rotate(-45) scale(0.1)" font-size="62" text-anchor="end" stroke="#1a1a1a" stroke-width="1.2" fill="#1a1a1a">Dec 03, 2023</text>
<line x1="488.7" y1="231.15" x2="488.7" y2="233.95" stroke="#333333" stroke-width="1"/>
<text transform="translate(492.1 239.95) rotate(-45) scale(0.1)" font-size="62" text-anchor="end" stroke="#1a1a1a" stroke-width="1.2" fill="#1a1a1a">Feb 14, 2024</text>
<text transform="translate(269 196.18) rotate(-90) scale(0.1)" font-size="63" text-anchor="middle" textLength="740" lengthAdjust="spacingAndGlyphs" stroke="#1a1a1a" stroke-width="2.5" fill="#1a1a1a">Novel coronavirus daily deaths</text>
<text transform="translate(393.7 155.6) scale(0.1)" font-size="77" text-anchor="middle" fill="#1a1a1a">Denmark</text>
<line x1="35.05" y1="344.57" x2="242.9" y2="344.57" stroke="#ececec" stroke-width="0.8"/>
<line x1="35.05" y1="327.65" x2="242.9" y2="327.65" stroke="#ececec" stroke-width="0.8"/>
<line x1="35.05" y1="310.73" x2="242.9" y2="310.73" stroke="#ececec" stroke-width="0.8"/>
<line x1="35.05" y1="293.8" x2="242.9" y2="293.8" stroke="#ececec" stroke-width="0.8"/>
<path d="M35.05 361.5V361.5H35.19V361.5H35.33V361.5H35.46V361.5H35.6V361.5H35.74V361.5H35.88V361.5H36.01V361.5H36.15V361.5H36.29V361.5H36.43V361.5H36.57V361.5H36.7V361.5H36.84V361.5H36.98V361.5H37.12V361.5H37.25V361.5H37.39V361.5H37.53V361.5H37.67V361.5H37.81V361.5H37.94V361.5H38.08V361.5H38.22V361.5H38.36V361.5H38.49V361.5H38.63V361.5H38.77V361.5H38.91V361.5H39.05V361.5H39.18V361.5H39.32V361.5H39.46V361.5H39.6V361.5H39.73V361.5H39.87V361.5H40.01V361.5H40.15V361.5H40.29V361.5H40.42V361.5H40.56V361.5H40.7V361.5H40.84V361.5H40.97V361.48H41.11V361.41H41.25V360.76H41.39V361.24H41.53V361.19H41.66V360.82H41.8V361.04H41.94V360.57H42.08V360.14H42.21V360.47H42.35V361.1H42.49V360.54H42.63V361.34H42.77V361.41H42.9V361.48H43.04V361.5H43.18V361.5H43.32V361.5H43.45V361.5H43.59V361.5H43.73V361.5H43.87V361.5H44.01V361.5H44.14V361.5H44.28V361.5H44.42V361.5H44.56V361.5H44.69V361.5H44.83V361.5H44.97V361.5H45.11V361.5H45.25V361.5H45.38V361.5H45.52V361.5H45.66V361.5H45.8V361.5H45.93V361.5H46.07V361.5H46.21V361.5H46.35V361.5H46.49V361.5H46.62V361.5H46.76V361.5H46.9V361.5H47.04V361.5H47.17V361.5H47.31V361.5H47.45V361.5H47.59V361.5H47.73V361.5H47.86V361.5H48V361.5H48.14V361.5H48.28V361.5H48.41V361.5H48.55V361.5H48.69V361.5H48.83V361.5H48.97V361.5H49.1V361.5H49.24V361.5H49.38V361.5H49.52V361.5H49.65V361.5H49.79V361.5H49.93V361.5H50.07V361.5H50.21V361.5H50.34V361.5H50.48V361.5H50.62V361.5H50.76V361.5H50.89V361.5H51.03V361.5H51.17V361.5H51.31V361.5H51.45V361.5H51.58V361.5H51.72V361.5H51.86V361.5H52V361.5H52.13V361.5H52.27V361.5H52.41V361.5H52.55V361.5H52.69V361.5H52.82V361.5H52.96V361.5H53.1V361.5H53.24V361.5H53.37V361.5H53.51V361.5H53.65V361.5H53.79V361.5H53.93V361.5H54.06V361.5H54.2V361.5H54.34V361.5H54.48V361.5H54.61V361.5H54.75V361.5H54.89V361.5H55.03V361.5H55.17V361.5H55.3V361.5H55.44V361.5H55.58V361.5H55.72V361.5H55.85V361.5H55.99V361.5H56.13V361.5H56.27V361.5H56.41V361.5H56.54V361.5H56.68V361.5H56.82V361.5H56.96V361.5H57.09V361.5H57.23V361.5H57.37V361.5H57.51V361.5H57.65V361.5H57.78V361.5H57.92V361.5H58.06V361.5H58.2V361.5H58.33V361.5H58.47V361.5H58.61V361.5H58.75V361.5H58.89V361.5H59.02V361.5H59.16V361.5H59.3V361.5H59.44V361.5H59.57V361.5H59.71V361.5H59.85V361.5H59.99V361.5H60.13V361.5H60.26V361.5H60.4V361.5H60.54V361.5H60.68V361.5H60.81V361.5H60.95V361.5H61.09V361.5H61.23V361.5H61.37V361.5H61.5V361.5H61.64V361.5H61.78V361.5H61.92V361.5H62.05V361.5H62.19V361.5H62.33V361.5H62.47V361.5H62.61V361.5H62.74V361.5H62.88V361.5H63.02V361.5H63.16V361.5H63.29V361.5H63.43V361.5H63.57V361.5H63.71V361.5H63.85V361.5H63.98V361.5H64.12V361.5H64.26V361.5H64.4V361.5H64.53V361.5H64.67V361.5H64.81V361.5H64.95V361.5H65.09V361.5H65.22V361.5H65.36V361.5H65.5V361.5H65.64V361.5H65.77V361.5H65.91V361.5H66.05V361.5H66.19V361.5H66.33V361.5H66.46V361.5H66.6V361.5H66.74V361.5H66.88V361.5H67.01V361.5H67.15V361.5H67.29V361.5H67.43V361.5H67.57V361.5H67.7V361.5H67.84V361.5H67.98V361.5H68.12V361.5H68.25V361.5H68.39V361.5H68.53V361.5H68.67V361.5H68.81V361.5H68.94V361.5H69.08V361.5H69.22V361.5H69.36V361.5H69.49V361.5H69.63V361.5H69.77V361.5H69.91V361.5H70.05V361.5H70.18V361.5H70.32V361.5H70.46V361.5H70.6V361.5H70.73V361.5H70.87V361.5H71.01V361.44H71.15V361.07H71.29V360.63H71.42V361.21H71.56V361.18H71.7V361.02H71.84V361H71.97V358.68H72.11V361.09H72.25V361.09H72.39V360.6H72.53V361.2H72.66V361.24H72.8V361.41H72.94V361.5H73.08V361.5H73.21V361.5H73.35V361.5H73.49V361.5H73.63V361.5H73.77V361.5H73.9V361.49H74.04V361.5H74.18V361.5H74.32V361.49H74.45V361.49H74.59V361.49H74.73V361.5H74.87V361.5H75.01V361.5H75.14V361.49H75.28V361.49H75.42V361.49H75.56V361.5H75.69V361.49H75.83V361.49H75.97V361.49H76.11V361.5H76.25V361.48H76.38V361.49H76.52V361.5H76.66V361.5H76.8V361.5H76.93V361.5H77.07V361.5H77.21V361.5H77.35V361.49H77.49V361.47H77.62V361.5H77.76V361.48H77.9V361.5H78.04V361.49H78.17V361.5H78.31V361.5H78.45V361.5H78.59V361.47H78.73V361.5H78.86V361.41H79V361.42H79.14V361.5H79.28V361.5H79.41V361.5H79.55V361.46H79.69V361.5H79.83V361.48H79.97V361.5H80.1V361.5H80.24V361.5H80.38V361.41H80.52V361.44H80.65V361.49H80.79V361.5H80.93V361.5H81.07V361.5H81.21V361.5H81.34V361.5H81.48V361.44H81.62V361.46H81.76V361.5H81.89V361.45H82.03V361.38H82.17V361.48H82.31V361.5H82.45V361.46H82.58V361.5H82.72V361.5H82.86V361.42H83V361.5H83.13V361.46H83.27V361.37H83.41V361.47H83.55V361.5H83.69V361.49H83.82V361.5H83.96V361.5H84.1V361.48H84.24V361.5H84.37V361.45H84.51V361.5H84.65V361.41H84.79V361.49H84.93V361.46H85.06V361.42H85.2V361.42H85.34V361.46H85.48V361.5H85.61V361.5H85.75V361.48H85.89V361.37H86.03V361.32H86.17V361.44H86.3V361.31H86.44V361.46H86.58V361.49H86.72V361.5H86.85V361.44H86.99V361.5H87.13V361.49H87.27V361.5H87.41V361.39H87.54V361.5H87.68V361.49H87.82V361.5H87.96V361.38H88.09V361.5H88.23V361.45H88.37V361.5H88.51V361.5H88.65V361.5H88.78V361.5H88.92V361.5H89.06V361.5H89.2V361.48H89.33V361.5H89.47V361.5H89.61V361.5H89.75V361.5H89.89V361.44H90.02V361.49H90.16V361.46H90.3V361.5H90.44V361.31H90.57V361.36H90.71V361.49H90.85V361.5H90.99V361.5H91.13V361.28H91.26V361.39H91.4V361.47H91.54V361.31H91.68V361.47H91.81V361.48H91.95V361.43H92.09V361.47H92.23V361.5H92.37V361.24H92.5V361.5H92.64V361.47H92.78V361.2H92.92V361.5H93.05V361.21H93.19V361.26H93.33V361.45H93.47V361.37H93.61V361.36H93.74V361.38H93.88V361.24H94.02V361.45H94.16V361.39H94.29V361.5H94.43V361.5H94.57V361.5H94.71V361.5H94.85V361.5H94.98V361.41H95.12V361.5H95.26V361.32H95.4V361.26H95.53V361.5H95.67V361.5H95.81V361.5H95.95V361.29H96.09V361.14H96.22V361.49H96.36V361.21H96.5V361.49H96.64V361.38H96.77V361.48H96.91V361.5H97.05V361.5H97.19V361.49H97.33V361.5H97.46V361.43H97.6V361.5H97.74V361.48H97.88V361.41H98.01V361.49H98.15V361.5H98.29V361.45H98.43V361.45H98.57V361.15H98.7V361.5H98.84V361.5H98.98V361.5H99.12V361.39H99.25V361.46H99.39V361.5H99.53V361.5H99.67V361.36H99.81V361.49H99.94V361.5H100.08V361.45H100.22V361.5H100.36V361.17H100.49V361.5H100.63V361.49H100.77V361.5H100.91V361.5H101.05V361.5H101.18V361.17H101.32V361.5H101.46V361.5H101.6V361.45H101.73V361.49H101.87V361.49H102.01V361.49H102.15V361.5H102.29V361.49H102.42V361.41H102.56V361.5H102.7V361.29H102.84V361.34H102.97V361.4H103.11V361.41H103.25V361.27H103.39V361.48H103.53V361.12H103.66V361.42H103.8V361.49H103.94V361.5H104.08V361.5H104.21V361.41H104.35V361.5H104.49V361.5H104.63V361.47H104.77V361.03H104.9V361.21H105.04V361.16H105.18V361.14H105.32V361.5H105.45V361.5H105.59V361.5H105.73V361.49H105.87V361.5H106.01V361.1H106.14V361.49H106.28V361.5H106.42V361.03H106.56V361.48H106.69V361.45H106.83V361.04H106.97V360.99H107.11V361.27H107.25V361.41H107.38V361.49H107.52V361.04H107.66V361.47H107.8V361.42H107.93V361.5H108.07V361.48H108.21V361.35H108.35V361.46H108.49V361.32H108.62V361.5H108.76V361.37H108.9V361.29H109.04V361.18H109.17V361.07H109.31V361.21H109.45V361.5H109.59V361.39H109.73V361.5H109.86V361.5H110V361.5H110.14V361.43H110.28V361.49H110.41V361.46H110.55V361.45H110.69V361.5H110.83V361.5H110.97V361.49H111.1V361.34H111.24V361.49H111.38V361.49H111.52V361.5H111.65V361.5H111.79V361.41H111.93V361.48H112.07V361.49H112.21V361.45H112.34V361.5H112.48V361.5H112.62V361.5H112.76V361.48H112.89V361.48H113.03V361.5H113.17V361.48H113.31V361.2H113.45V361.27H113.58V361.5H113.72V361.5H113.86V360.89H114V361.47H114.13V361.38H114.27V361.5H114.41V361.5H114.55V361.43H114.69V361.26H114.82V361.47H114.96V361.48H115.1V361.47H115.24V361.05H115.37V360.98H115.51V361.49H115.65V361.5H115.79V361.5H115.93V361.48H116.06V361.5H116.2V361.34H116.34V361.5H116.48V361.12H116.61V361.2H116.75V361.35H116.89V361.39H117.03V361.49H117.17V361.5H117.3V361.29H117.44V361.46H117.58V361.44H117.72V360.95H117.85V361.45H117.99V361.08H118.13V361.49H118.27V361.29H118.41V361.14H118.54V361.5H118.68V361.5H118.82V361.45H118.96V361.5H119.09V361.45H119.23V361.46H119.37V361.5H119.51V361.5H119.65V361.34H119.78V361.49H119.92V361H120.06V361.33H120.2V361.5H120.33V361.38H120.47V361.08H120.61V361.35H120.75V360.87H120.89V361.5H121.02V361.5H121.16V361.46H121.3V361.5H121.44V361.39H121.57V361.46H121.71V361.32H121.85V361.48H121.99V361.11H122.13V361.5H122.26V361.41H122.4V361.5H122.54V361.42H122.68V361.5H122.81V361.5H122.95V361.5H123.09V361.39H123.23V361.45H123.37V361.48H123.5V361.5H123.64V361.5H123.78V361.5H123.92V360.81H124.05V361.49H124.19V361.5H124.33V360.74H124.47V361.48H124.61V361.2H124.74V361.5H124.88V361.31H125.02V361.47H125.16V361.48H125.29V361.5H125.43V360.89H125.57V361.5H125.71V361.5H125.85V361.05H125.98V360.9H126.12V361.5H126.26V361.47H126.4V360.91H126.53V361.49H126.67V361.49H126.81V361.35H126.95V360.88H127.09V361.5H127.22V360.84H127.36V361.28H127.5V361.46H127.64V361.2H127.77V360.73H127.91V360.83H128.05V361.03H128.19V361.41H128.33V361.5H128.46V361.45H128.6V361.5H128.74V361.5H128.88V361.46H129.01V361.44H129.15V361.31H129.29V361.44H129.43V361.03H129.57V361.5H129.7V361.5H129.84V361.32H129.98V361.46H130.12V360.72H130.25V360.72H130.39V360.44H130.53V360.57H130.67V361.1H130.81V360.82H130.94V361.33H131.08V360.25H131.22V361.27H131.36V361.07H131.49V361.21H131.63V361.2H131.77V361.14H131.91V360.22H132.05V360.61H132.18V360.36H132.32V361.09H132.46V360.52H132.6V360.85H132.73V361.02H132.87V360.08H133.01V360.95H133.15V360.84H133.29V360.87H133.42V360.15H133.56V360.81H133.7V360.83H133.84V360.82H133.97V360.76H134.11V360.75H134.25V360.71H134.39V359.03H134.53V360.71H134.66V360.63H134.8V359.73H134.94V358.87H135.08V360.61H135.21V360.42H135.35V360.5H135.49V360.49H135.63V360.13H135.77V358.23H135.9V360.4H136.04V360.37H136.18V360.33H136.32V360H136.45V358.18H136.59V360.22H136.73V359.27H136.87V359.19H137.01V360.02H137.14V359.95H137.28V360.06H137.42V357.79H137.56V356.97H137.69V359.21H137.83V359.93H137.97V359.69H138.11V359.56H138.25V359.52H138.38V359.69H138.52V357.02H138.66V356.01H138.8V359.47H138.93V358.7H139.07V359.44H139.21V359.45H139.35V359.43H139.49V355.96H139.62V359.03H139.76V358.54H139.9V359.3H140.04V358.53H140.17V356.86H140.31V359.08H140.45V359.1H140.59V357.28H140.73V359.11H140.86V358.72H141V355.45H141.14V358.96H141.28V357.19H141.41V358.78H141.55V358.88H141.69V358.88H141.83V358.5H141.97V357.33H142.1V358.82H142.24V353.94H142.38V356.09H142.52V358.39H142.65V352.33H142.79V359.01H142.93V352.7H143.07V359.07H143.21V359.04H143.34V358.28H143.48V356.49H143.62V350.79H143.76V359.2H143.89V358.14H144.03V359.36H144.17V351.78H144.31V358.15H144.45V359.13H144.58V358.01H144.72V358.81H144.86V359.72H145V359.77H145.13V359.82H145.27V359.8H145.41V359.74H145.55V359.75H145.69V359.63H145.82V359.77H145.96V357.8H146.1V354.99H146.24V359.73H146.37V359.83H146.51V359.86H146.65V359.85H146.79V359.41H146.93V358.02H147.06V356.57H147.2V358.96H147.34V359.91H147.48V359.87H147.61V352.16H147.75V353.7H147.89V350.76H148.03V360.16H148.17V359.94H148.3V359.97H148.44V360.5H148.58V354.49H148.72V357.39H148.85V355.81H148.99V360.7H149.13V358.47H149.27V360.8H149.41V361.42H149.54V361.5H149.68V361.5H149.82V361.5H149.96V361.5H150.09V361.5H150.23V361.5H150.37V361.5H150.51V361.5H150.65V361.5H150.78V361.5H150.92V361.5H151.06V361.5H151.2V361.5H151.33V361.5H151.47V361.5H151.61V361.5H151.75V361.5H151.89V361.5H152.02V361.5H152.16V361.5H152.3V361.5H152.44V361.5H152.57V361.5H152.71V361.5H152.85V361.5H152.99V361.5H153.13V361.5H153.26V361.5H153.4V361.5H153.54V361.5H153.68V361.5H153.81V361.5H153.95V361.5H154.09V361.5H154.23V361.5H154.37V361.5H154.5V361.5H154.64V361.5H154.78V361.5H154.92V361.5H155.05V361.5H155.19V361.5H155.33V361.5H155.47V361.5H155.61V361.5H155.74V361.5H155.88V361.5H156.02V361.5H156.16V361.5H156.29V361.5H156.43V361.5H156.57V361.5H156.71V361.5H156.85V361.5H156.98V361.5H157.12V361.5H157.26V361.5H157.4V361.5H157.53V361.5H157.67V361.5H157.81V361.5H157.95V361.5H158.09V361.5H158.22V361.5H158.36V361.5H158.5V361.5H158.64V361.5H158.77V361.5H158.91V361.5H159.05V361.5H159.19V361.5H159.33V361.5H159.46V361.5H159.6V361.5H159.74V361.5H159.88V361.5H160.01V361.5H160.15V361.5H160.29V361.5H160.43V361.5H160.57V361.5H160.7V361.5H160.84V361.5H160.98V361.5H161.12V361.5H161.25V361.5H161.39V361.5H161.53V361.5H161.67V361.5H161.81V361.5H161.94V361.5H162.08V361.5H162.22V361.5H162.36V361.5H162.49V361.5H162.63V361.5H162.77V361.5H162.91V361.5H163.05V361.5H163.18V361.5H163.32V361.5H163.46V361.5H163.6V361.5H163.73V361.5H163.87V361.5H164.01V361.5H164.15V361.5H164.29V361.5H164.42V361.5H164.56V361.5H164.7V361.5H164.84V361.5H164.97V361.5H165.11V361.5H165.25V361.5H165.39V361.5H165.53V361.5H165.66V361.5H165.8V361.5H165.94V361.5H166.08V361.5H166.21V361.5H166.35V361.5H166.49V361.5H166.63V361.5H166.77V361.5H166.9V361.5H167.04V361.5H167.18V361.5H167.32V361.5H167.45V361.5H167.59V361.5H167.73V361.5H167.87V361.5H168.01V361.5H168.14V361.5H168.28V361.5H168.42V361.5H168.56V361.5H168.69V361.5H168.83V361.5H168.97V361.5H169.11V361.5H169.25V361.5H169.38V361.5H169.52V361.5H169.66V361.5H169.8V361.5H169.93V361.5H170.07V361.5H170.21V361.5H170.35V361.5H170.49V361.5H170.62V361.5H170.76V361.5H170.9V361.5H171.04V361.5H171.17V361.5H171.31V361.5H171.45V361.5H171.59V361.5H171.73V361.5H171.86V361.5H172V361.5H172.14V361.5H172.28V361.5H172.41V361.5H172.55V361.5H172.69V361.5H172.83V361.5H172.97V361.5H173.1V361.5H173.24V361.5H173.38V361.5H173.52V361.5H173.65V361.5H173.79V361.5H173.93V361.5H174.07V361.5H174.21V361.5H174.34V361.5H174.48V361.5H174.62V361.5H174.76V361.5H174.89V361.5H175.03V361.5H175.17V361.5H175.31V361.5H175.45V361.5H175.58V361.5H175.72V361.5H175.86V361.5H176V361.5H176.13V361.5H176.27V361.5H176.41V361.5H176.55V361.5H176.69V361.5H176.82V361.5H176.96V361.5H177.1V361.5H177.24V361.5H177.37V361.5H177.51V361.5H177.65V361.5H177.79V361.5H177.93V361.5H178.06V361.5H178.2V361.5H178.34V361.5H178.48V361.5H178.61V361.5H178.75V361.5H178.89V361.5H179.03V361.5H179.17V361.5H179.3V361.5H179.44V361.5H179.58V361.5H179.72V361.5H179.85V361.5H179.99V361.5H180.13V361.5H180.27V361.5H180.41V361.5H180.54V361.5H180.68V361.5H180.82V361.5H180.96V361.5H181.09V361.5H181.23V361.5H181.37V361.5H181.51V361.5H181.65V361.5H181.78V361.5H181.92V361.5H182.06V361.5H182.2V361.5H182.33V361.5H182.47V361.5H182.61V361.5H182.75V361.5H182.89V361.5H183.02V361.5H183.16V361.5H183.3V361.5H183.44V361.5H183.57V361.5H183.71V361.5H183.85V361.5H183.99V361.5H184.13V361.5H184.26V361.5H184.4V361.5H184.54V361.5H184.68V361.5H184.81V361.5H184.95V361.5H185.09V361.5H185.23V361.5H185.37V361.5H185.5V361.5H185.64V361.5H185.78V361.5H185.92V361.5H186.05V361.5H186.19V361.5H186.33V361.5H186.47V361.5H186.61V361.5H186.74V361.5H186.88V361.5H187.02V361.5H187.16V361.5H187.29V361.5H187.43V361.5H187.57V361.5H187.71V361.5H187.85V361.5H187.98V361.5H188.12V361.5H188.26V361.5H188.4V361.5H188.53V361.5H188.67V361.5H188.81V361.5H188.95V361.5H189.09V361.5H189.22V361.5H189.36V361.5H189.5V361.5H189.64V361.5H189.77V361.5H189.91V361.5H190.05V361.5H190.19V361.5H190.33V361.5H190.46V361.5H190.6V361.5H190.74V361.5H190.88V361.5H191.01V361.5H191.15V361.5H191.29V361.5H191.43V361.5H191.57V361.5H191.7V361.5H191.84V361.5H191.98V361.5H192.12V361.5H192.25V361.5H192.39V361.5H192.53V361.5H192.67V361.5H192.81V361.5H192.94V361.5H193.08V361.5H193.22V361.5H193.36V361.5H193.49V361.5H193.63V361.5H193.77V361.5H193.91V361.5H194.05V361.5H194.18V361.5H194.32V361.5H194.46V361.5H194.6V361.5H194.73V361.5H194.87V361.5H195.01V361.5H195.15V361.5H195.29V361.5H195.42V361.5H195.56V361.5H195.7V361.5H195.84V361.5H195.97V361.5H196.11V361.5H196.25V361.5H196.39V361.5H196.53V361.5H196.66V361.5H196.8V361.5H196.94V361.5H197.08V361.5H197.21V361.5H197.35V361.5H197.49V361.5H197.63V361.5H197.77V361.5H197.9V361.5H198.04V361.5H198.18V361.5H198.32V361.5H198.45V361.5H198.59V361.5H198.73V361.5H198.87V361.5H199.01V361.5H199.14V361.5H199.28V361.5H199.42V361.5H199.56V361.5H199.69V361.5H199.83V361.5H199.97V361.5H200.11V361.5H200.25V361.5H200.38V361.5H200.52V361.5H200.66V361.5H200.8V361.5H200.93V361.5H201.07V361.5H201.21V361.5H201.35V361.5H201.49V361.5H201.62V361.5H201.76V361.5H201.9V361.5H202.04V361.5H202.17V361.5H202.31V361.5H202.45V361.5H202.59V361.5H202.73V361.5H202.86V361.5H203V361.5H203.14V361.5H203.28V361.5H203.41V361.5H203.55V361.5H203.69V361.5H203.83V361.5H203.97V361.5H204.1V361.5H204.24V361.5H204.38V361.5H204.52V361.5H204.65V361.5H204.79V361.5H204.93V361.5H205.07V361.5H205.21V361.5H205.34V361.5H205.48V361.5H205.62V361.5H205.76V361.5H205.89V361.5H206.03V361.5H206.17V361.5H206.31V361.5H206.45V361.5H206.58V361.5H206.72V361.5H206.86V361.5H207V361.5H207.13V361.5H207.27V361.5H207.41V361.5H207.55V361.5H207.69V361.5H207.82V361.5H207.96V361.5H208.1V361.5H208.24V361.5H208.37V361.5H208.51V361.5H208.65V361.5H208.79V361.5H208.93V361.5H209.06V361.5H209.2V361.5H209.34V361.5H209.48V361.5H209.61V361.5H209.75V361.5H209.89V361.5H210.03V361.5H210.17V361.5H210.3V361.5H210.44V361.5H210.58V361.5H210.72V361.5H210.85V361.5H210.99V361.5H211.13V361.5H211.27V361.5H211.41V361.5H211.54V361.5H211.68V361.5H211.82V361.5H211.96V361.5H212.09V361.5H212.23V361.5H212.37V361.5H212.51V361.5H212.65V361.5H212.78V361.5H212.92V361.5H213.06V361.5H213.2V361.5H213.33V361.5H213.47V361.5H213.61V361.5H213.75V361.5H213.89V361.5H214.02V361.5H214.16V361.5H214.3V361.5H214.44V361.5H214.57V361.5H214.71V361.5H214.85V361.5H214.99V361.5H215.13V361.5H215.26V361.5H215.4V361.5H215.54V361.5H215.68V361.5H215.81V361.5H215.95V361.5H216.09V361.5H216.23V361.5H216.37V361.5H216.5V361.5H216.64V361.5H216.78V361.5H216.92V361.5H217.05V361.5H217.19V361.5H217.33V361.5H217.47V361.5H217.61V361.5H217.74V361.5H217.88V361.5H218.02V361.5H218.16V361.5H218.29V361.5H218.43V361.5H218.57V361.5H218.71V361.5H218.85V361.5H218.98V361.5H219.12V361.5H219.26V361.5H219.4V361.5H219.53V361.5H219.67V361.5H219.81V361.5H219.95V361.5H220.09V361.5H220.22V361.5H220.36V361.5H220.5V361.5H220.64V361.5H220.77V361.5H220.91V361.5H221.05V361.5H221.19V361.5H221.33V361.5H221.46V361.5H221.6V361.5H221.74V361.5H221.88V361.5H222.01V361.5H222.15V361.5H222.29V361.5H222.43V361.5H222.57V361.5H222.7V361.5H222.84V361.5H222.98V361.5H223.12V361.5H223.25V361.5H223.39V361.5H223.53V361.5H223.67V361.5H223.81V361.5H223.94V361.5H224.08V361.5H224.22V361.5H224.36V361.5H224.49V361.5H224.63V361.5H224.77V361.5H224.91V361.5H225.05V361.5H225.18V361.5H225.32V361.5H225.46V361.5H225.6V361.5H225.73V361.5H225.87V361.5H226.01V361.5H226.15V361.5H226.29V361.5H226.42V361.5H226.56V361.5H226.7V361.5H226.84V361.5H226.97V361.5H227.11V361.5H227.25V361.5H227.39V361.5H227.53V361.5H227.66V361.5H227.8V361.5H227.94V361.5H228.08V361.5H228.21V361.5H228.35V361.5H228.49V361.5H228.63V361.5H228.77V361.5H228.9V361.5H229.04V361.5H229.18V361.5H229.32V361.5H229.45V361.5H229.59V361.5H229.73V361.5H229.87V361.5H230.01V361.5H230.14V361.5H230.28V361.5H230.42V361.5H230.56V361.5H230.69V361.5H230.83V361.5H230.97V361.5H231.11V361.5H231.25V361.5H231.38V361.5H231.52V361.5H231.66V361.5H231.8V361.5H231.93V361.5H232.07V361.5H232.21V361.5H232.35V361.5H232.49V361.5H232.62V361.5H232.76V361.5H232.9V361.5H233.04V361.5H233.17V361.5H233.31V361.5H233.45V361.5H233.59V361.5H233.73V361.5H233.86V361.5H234V361.5H234.14V361.5H234.28V361.5H234.41V361.5H234.55V361.5H234.69V361.5H234.83V361.5H234.97V361.5H235.1V361.5H235.24V361.5H235.38V361.5H235.52V361.5H235.65V361.5H235.79V361.5H235.93V361.5H236.07V361.5H236.21V361.5H236.34V361.5H236.48V361.5H236.62V361.5H236.76V361.5H236.89V361.5H237.03V361.5H237.17V361.5H237.31V361.5H237.45V361.5H237.58V361.5H237.72V361.5H237.86V361.5H238V361.5H238.13V361.5H238.27V361.5H238.41V361.5H238.55V361.5H238.69V361.5H238.82V361.5H238.96V361.5H239.1V361.5H239.24V361.5H239.37V361.5H239.51V361.5H239.65V361.5H239.79V361.5H239.93V361.5H240.06V361.5H240.2V361.5H240.34V361.5H240.48V361.5H240.61V361.5H240.75V361.5H240.89V361.5H241.03V361.5H241.17V361.5H241.3V361.5H241.44V361.5H241.58V361.5H241.72V361.5H241.85V361.5H241.99V361.5H242.13V361.5H242.27V361.5H242.41V361.5H242.54V361.5H242.68V361.5H242.82V361.5H242.96V361.5H243.09V361.5H243.23V361.5H243.37V361.5H243.51V361.5H243.65V361.5H243.78V361.5Z" fill="#999999"/>
<rect x="143.1" y="348.81" width="0.4" height="12.69" fill="#c8c8c8"/>
<rect x="145.8" y="347.96" width="0.4" height="13.54" fill="#c8c8c8"/>
<rect x="147.08" y="344.57" width="0.45" height="16.92" fill="#c0c0c0"/>
<rect x="144.3" y="353.04" width="0.4" height="8.46" fill="#c8c8c8"/>
<rect x="153.75" y="318.34" width="0.5" height="43.16" fill="#c4c4c4"/>
<rect x="163.05" y="304.12" width="0.5" height="57.38" fill="#c4c4c4"/>
<rect x="171.45" y="352.19" width="0.5" height="9.31" fill="#c4c4c4"/>
<rect x="176.35" y="344.91" width="0.5" height="16.59" fill="#c4c4c4"/>
<line x1="35.05" y1="291.6" x2="35.05" y2="362.15" stroke="#333333" stroke-width="1.3"/>
<line x1="34.4" y1="361.5" x2="243.9" y2="361.5" stroke="#333333" stroke-width="1.3"/>
<line x1="31.85" y1="361.5" x2="35.05" y2="361.5" stroke="#333333" stroke-width="0.9"/>
<text transform="translate(28.75 363.6) scale(0.1)" font-size="58" text-anchor="end" stroke="#1a1a1a" stroke-width="1.2" fill="#1a1a1a">0</text>
<line x1="31.85" y1="344.57" x2="35.05" y2="344.57" stroke="#333333" stroke-width="0.9"/>
<text transform="translate(28.75 346.68) scale(0.1)" font-size="58" text-anchor="end" stroke="#1a1a1a" stroke-width="1.2" fill="#1a1a1a">10</text>
<line x1="31.85" y1="327.65" x2="35.05" y2="327.65" stroke="#333333" stroke-width="0.9"/>
<text transform="translate(28.75 329.75) scale(0.1)" font-size="58" text-anchor="end" stroke="#1a1a1a" stroke-width="1.2" fill="#1a1a1a">20</text>
<line x1="31.85" y1="310.73" x2="35.05" y2="310.73" stroke="#333333" stroke-width="0.9"/>
<text transform="translate(28.75 312.83) scale(0.1)" font-size="58" text-anchor="end" stroke="#1a1a1a" stroke-width="1.2" fill="#1a1a1a">30</text>
<line x1="31.85" y1="293.8" x2="35.05" y2="293.8" stroke="#333333" stroke-width="0.9"/>
<text transform="translate(28.75 295.9) scale(0.1)" font-size="58" text-anchor="end" stroke="#1a1a1a" stroke-width="1.2" fill="#1a1a1a">40</text>
<line x1="35.05" y1="361.5" x2="35.05" y2="364.3" stroke="#333333" stroke-width="1"/>
<text transform="translate(38.45 370.3) rotate(-45) scale(0.1)" font-size="62" text-anchor="end" stroke="#1a1a1a" stroke-width="1.2" fill="#1a1a1a">Feb 15, 2020</text>
<line x1="44.97" y1="361.5" x2="44.97" y2="364.3" stroke="#333333" stroke-width="1"/>
<text transform="translate(48.37 370.3) rotate(-45) scale(0.1)" font-size="62" text-anchor="end" stroke="#1a1a1a" stroke-width="1.2" fill="#1a1a1a">Apr 27, 2020</text>
<line x1="54.89" y1="361.5" x2="54.89" y2="364.3" stroke="#333333" stroke-width="1"/>
<text transform="translate(58.29 370.3) rotate(-45) scale(0.1)" font-size="62" text-anchor="end" stroke="#1a1a1a" stroke-width="1.2" fill="#1a1a1a">Jul 08, 2020</text>
<line x1="64.81" y1="361.5" x2="64.81" y2="364.3" stroke="#333333" stroke-width="1"/>
<text transform="translate(68.21 370.3) rotate(-45) scale(0.1)" font-size="62" text-anchor="end" stroke="#1a1a1a" stroke-width="1.2" fill="#1a1a1a">Sep 18, 2020</text>
<line x1="74.73" y1="361.5" x2="74.73" y2="364.3" stroke="#333333" stroke-width="1"/>
<text transform="translate(78.13 370.3) rotate(-45) scale(0.1)" font-size="62" text-anchor="end" stroke="#1a1a1a" stroke-width="1.2" fill="#1a1a1a">Nov 29, 2020</text>
<line x1="84.65" y1="361.5" x2="84.65" y2="364.3" stroke="#333333" stroke-width="1"/>
<text transform="translate(88.05 370.3) rotate(-45) scale(0.1)" font-size="62" text-anchor="end" stroke="#1a1a1a" stroke-width="1.2" fill="#1a1a1a">Feb 09, 2021</text>
<line x1="94.57" y1="361.5" x2="94.57" y2="364.3" stroke="#333333" stroke-width="1"/>
<text transform="translate(97.97 370.3) rotate(-45) scale(0.1)" font-size="62" text-anchor="end" stroke="#1a1a1a" stroke-width="1.2" fill="#1a1a1a">Apr 22, 2021</text>
<line x1="104.49" y1="361.5" x2="104.49" y2="364.3" stroke="#333333" stroke-width="1"/>
<text transform="translate(107.89 370.3) rotate(-45) scale(0.1)" font-size="62" text-anchor="end" stroke="#1a1a1a" stroke-width="1.2" fill="#1a1a1a">Jul 03, 2021</text>
<line x1="114.41" y1="361.5" x2="114.41" y2="364.3" stroke="#333333" stroke-width="1"/>
<text transform="translate(117.81 370.3) rotate(-45) scale(0.1)" font-size="62" text-anchor="end" stroke="#1a1a1a" stroke-width="1.2" fill="#1a1a1a">Sep 13, 2021</text>
<line x1="124.33" y1="361.5" x2="124.33" y2="364.3" stroke="#333333" stroke-width="1"/>
<text transform="translate(127.73 370.3) rotate(-45) scale(0.1)" font-size="62" text-anchor="end" stroke="#1a1a1a" stroke-width="1.2" fill="#1a1a1a">Nov 24, 2021</text>
<line x1="134.25" y1="361.5" x2="134.25" y2="364.3" stroke="#333333" stroke-width="1"/>
<text transform="translate(137.65 370.3) rotate(-45) scale(0.1)" font-size="62" text-anchor="end" stroke="#1a1a1a" stroke-width="1.2" fill="#1a1a1a">Feb 04, 2022</text>
<line x1="144.17" y1="361.5" x2="144.17" y2="364.3" stroke="#333333" stroke-width="1"/>
<text transform="translate(147.57 370.3) rotate(-45) scale(0.1)" font-size="62" text-anchor="end" stroke="#1a1a1a" stroke-width="1.2" fill="#1a1a1a">Apr 17, 2022</text>
<line x1="154.09" y1="361.5" x2="154.09" y2="364.3" stroke="#333333" stroke-width="1"/>
<text transform="translate(157.49 370.3) rotate(-45) scale(0.1)" font-size="62" text-anchor="end" stroke="#1a1a1a" stroke-width="1.2" fill="#1a1a1a">Jun 28, 2022</text>
<line x1="164.01" y1="361.5" x2="164.01" y2="364.3" stroke="#333333" stroke-width="1"/>
<text transform="translate(167.41 370.3) rotate(-45) scale(0.1)" font-size="62" text-anchor="end" stroke="#1a1a1a" stroke-width="1.2" fill="#1a1a1a">Sep 08, 2022</text>
<line x1="173.93" y1="361.5" x2="173.93" y2="364.3" stroke="#333333" stroke-width="1"/>
<text transform="translate(177.33 370.3) rotate(-45) scale(0.1)" font-size="62" text-anchor="end" stroke="#1a1a1a" stroke-width="1.2" fill="#1a1a1a">Nov 19, 2022</text>
<line x1="183.85" y1="361.5" x2="183.85" y2="364.3" stroke="#333333" stroke-width="1"/>
<text transform="translate(187.25 370.3) rotate(-45) scale(0.1)" font-size="62" text-anchor="end" stroke="#1a1a1a" stroke-width="1.2" fill="#1a1a1a">Jan 30, 2023</text>
<line x1="193.77" y1="361.5" x2="193.77" y2="364.3" stroke="#333333" stroke-width="1"/>
<text transform="translate(197.17 370.3) rotate(-45) scale(0.1)" font-size="62" text-anchor="end" stroke="#1a1a1a" stroke-width="1.2" fill="#1a1a1a">Apr 12, 2023</text>
<line x1="203.69" y1="361.5" x2="203.69" y2="364.3" stroke="#333333" stroke-width="1"/>
<text transform="translate(207.09 370.3) rotate(-45) scale(0.1)" font-size="62" text-anchor="end" stroke="#1a1a1a" stroke-width="1.2" fill="#1a1a1a">Jun 23, 2023</text>
<line x1="213.61" y1="361.5" x2="213.61" y2="364.3" stroke="#333333" stroke-width="1"/>
<text transform="translate(217.01 370.3) rotate(-45) scale(0.1)" font-size="62" text-anchor="end" stroke="#1a1a1a" stroke-width="1.2" fill="#1a1a1a">Sep 03, 2023</text>
<line x1="223.53" y1="361.5" x2="223.53" y2="364.3" stroke="#333333" stroke-width="1"/>
<text transform="translate(226.93 370.3) rotate(-45) scale(0.1)" font-size="62" text-anchor="end" stroke="#1a1a1a" stroke-width="1.2" fill="#1a1a1a">Nov 14, 2023</text>
<line x1="233.45" y1="361.5" x2="233.45" y2="364.3" stroke="#333333" stroke-width="1"/>
<text transform="translate(236.85 370.3) rotate(-45) scale(0.1)" font-size="62" text-anchor="end" stroke="#1a1a1a" stroke-width="1.2" fill="#1a1a1a">Jan 25, 2024</text>
<line x1="243.37" y1="361.5" x2="243.37" y2="364.3" stroke="#333333" stroke-width="1"/>
<text transform="translate(246.77 370.3) rotate(-45) scale(0.1)" font-size="62" text-anchor="end" stroke="#1a1a1a" stroke-width="1.2" fill="#1a1a1a">Apr 06, 2024</text>
<text transform="translate(16.2 326.65) rotate(-90) scale(0.1)" font-size="63" text-anchor="middle" textLength="740" lengthAdjust="spacingAndGlyphs" stroke="#1a1a1a" stroke-width="2.5" fill="#1a1a1a">Novel coronavirus daily deaths</text>
<text transform="translate(139.5 285.9) scale(0.1)" font-size="77" text-anchor="middle" fill="#1a1a1a">Iceland</text>
<line x1="291" y1="338.97" x2="512" y2="338.97" stroke="#ececec" stroke-width="0.8"/>
<line x1="291" y1="316.43" x2="512" y2="316.43" stroke="#ececec" stroke-width="0.8"/>
<line x1="291" y1="293.9" x2="512" y2="293.9" stroke="#ececec" stroke-width="0.8"/>
<path d="M291 361.5V361.5H291.15V361.5H291.29V361.5H291.44V361.5H291.58V361.5H291.73V361.5H291.87V361.5H292.02V361.5H292.16V361.5H292.31V361.5H292.45V361.5H292.6V361.5H292.74V361.5H292.89V361.5H293.03V361.5H293.18V361.5H293.32V361.5H293.47V361.5H293.62V361.5H293.76V361.5H293.91V361.5H294.05V361.5H294.2V361.5H294.34V361.5H294.49V361.5H294.63V361.5H294.78V361.5H294.92V361.5H295.07V361.5H295.21V361.5H295.36V361.5H295.5V361.5H295.65V361.5H295.8V361.5H295.94V361.5H296.09V361.5H296.23V361.5H296.38V361.5H296.52V361.5H296.67V361.5H296.81V361.5H296.96V361.5H297.1V361.5H297.25V361.5H297.39V361.5H297.54V361.5H297.68V361.5H297.83V361.5H297.97V361.5H298.12V361.5H298.27V361.5H298.41V361.5H298.56V361.5H298.7V361.5H298.85V361.5H298.99V361.5H299.14V361.5H299.28V361.5H299.43V361.5H299.57V361.5H299.72V361.5H299.86V361.5H300.01V361.5H300.15V361.5H300.3V361.5H300.44V361.5H300.59V361.5H300.74V361.5H300.88V361.5H301.03V361.5H301.17V361.5H301.32V361.5H301.46V361.5H301.61V361.5H301.75V361.5H301.9V361.5H302.04V361.5H302.19V361.5H302.33V361.5H302.48V361.5H302.62V361.5H302.77V361.5H302.92V361.5H303.06V361.5H303.21V361.5H303.35V361.5H303.5V361.5H303.64V361.5H303.79V361.5H303.93V361.5H304.08V361.5H304.22V361.5H304.37V361.5H304.51V361.5H304.66V361.5H304.8V361.5H304.95V361.5H305.09V361.5H305.24V361.5H305.39V361.5H305.53V361.5H305.68V361.5H305.82V361.5H305.97V361.5H306.11V361.5H306.26V361.5H306.4V361.5H306.55V361.5H306.69V361.5H306.84V361.5H306.98V361.5H307.13V361.5H307.27V361.5H307.42V361.5H307.56V361.5H307.71V361.5H307.86V361.5H308V361.5H308.15V361.5H308.29V361.5H308.44V361.5H308.58V361.5H308.73V361.5H308.87V361.5H309.02V361.5H309.16V361.5H309.31V361.5H309.45V361.5H309.6V361.5H309.74V361.5H309.89V361.5H310.04V361.5H310.18V361.5H310.33V361.5H310.47V361.5H310.62V361.5H310.76V361.5H310.91V361.5H311.05V361.5H311.2V361.5H311.34V361.5H311.49V361.5H311.63V361.5H311.78V361.5H311.92V361.5H312.07V361.5H312.21V361.5H312.36V361.5H312.51V361.5H312.65V361.5H312.8V361.5H312.94V361.5H313.09V361.5H313.23V361.5H313.38V361.5H313.52V361.41H313.67V361.25H313.81V361.2H313.96V361.14H314.1V361.02H314.25V360.89H314.39V360.86H314.54V360.36H314.68V359.92H314.83V360.16H314.98V359.1H315.12V359.48H315.27V360.04H315.41V358.79H315.56V359.87H315.7V359.9H315.85V359.26H315.99V357.87H316.14V357.74H316.28V359.5H316.43V358.69H316.57V359.41H316.72V359.04H316.86V357.77H317.01V358.41H317.16V357.77H317.3V356.78H317.45V358.72H317.59V359H317.74V358.3H317.88V356.95H318.03V357.53H318.17V358.37H318.32V358.16H318.46V358.63H318.61V358.34H318.75V358.31H318.9V358.3H319.04V357.72H319.19V357.87H319.33V356.38H319.48V357.62H319.63V357.57H319.77V356.99H319.92V357.19H320.06V351.58H320.21V358.19H320.35V354.61H320.5V357.42H320.64V358.66H320.79V359.39H320.93V359.75H321.08V360.2H321.22V360.32H321.37V359.19H321.51V359.93H321.66V360.23H321.8V360.91H321.95V361H322.1V361.08H322.24V361.22H322.39V361.35H322.53V361.36H322.68V361.38H322.82V361.36H322.97V361.13H323.11V361.16H323.26V361.33H323.4V361.41H323.55V361.23H323.69V361.41H323.84V361.4H323.98V361.32H324.13V361.34H324.28V361.4H324.42V361.42H324.57V361.19H324.71V361.39H324.86V361.32H325V361.41H325.15V361.41H325.29V361.38H325.44V361.26H325.58V361.39H325.73V361.43H325.87V361.44H326.02V361.44H326.16V361.35H326.31V361.41H326.45V361.42H326.6V361.44H326.75V361.44H326.89V361.39H327.04V361.39H327.18V361.41H327.33V361.45H327.47V361.43H327.62V361.44H327.76V361.44H327.91V361.47H328.05V361.46H328.2V361.39H328.34V361.47H328.49V361.34H328.63V361.47H328.78V361.46H328.92V361.45H329.07V361.48H329.22V361.43H329.36V361.49H329.51V361.47H329.65V361.46H329.8V361.5H329.94V361.44H330.09V361.5H330.23V361.49H330.38V361.48H330.52V361.5H330.67V361.4H330.81V361.43H330.96V361.5H331.1V361.41H331.25V361.5H331.4V361.5H331.54V361.39H331.69V361.5H331.83V361.44H331.98V361.5H332.12V361.48H332.27V361.5H332.41V361.49H332.56V361.49H332.7V361.5H332.85V361.5H332.99V361.49H333.14V361.47H333.28V361.45H333.43V361.42H333.57V361.5H333.72V361.4H333.87V361.46H334.01V361.42H334.16V361.45H334.3V361.5H334.45V361.4H334.59V361.5H334.74V361.42H334.88V361.48H335.03V361.5H335.17V361.5H335.32V361.47H335.46V361.42H335.61V361.48H335.75V361.5H335.9V361.39H336.04V361.45H336.19V361.42H336.34V361.49H336.48V361.48H336.63V361.49H336.77V361.5H336.92V361.46H337.06V361.4H337.21V361.49H337.35V361.43H337.5V361.5H337.64V361.44H337.79V361.49H337.93V361.5H338.08V361.49H338.22V361.47H338.37V361.49H338.52V361.5H338.66V361.46H338.81V361.41H338.95V361.49H339.1V361.5H339.24V361.5H339.39V361.39H339.53V361.41H339.68V361.45H339.82V361.46H339.97V361.5H340.11V361.39H340.26V361.4H340.4V361.45H340.55V361.45H340.69V361.42H340.84V361.42H340.99V361.43H341.13V361.5H341.28V361.44H341.42V361.48H341.57V361.43H341.71V361.46H341.86V361.5H342V361.43H342.15V361.5H342.29V361.5H342.44V361.41H342.58V361.48H342.73V361.42H342.87V361.49H343.02V361.5H343.16V361.43H343.31V361.5H343.46V361.46H343.6V361.48H343.75V361.48H343.89V361.5H344.04V361.42H344.18V361.49H344.33V361.49H344.47V361.5H344.62V361.49H344.76V361.49H344.91V361.42H345.05V361.44H345.2V361.49H345.34V361.46H345.49V361.48H345.64V361.5H345.78V361.48H345.93V361.49H346.07V361.43H346.22V361.48H346.36V361.49H346.51V361.43H346.65V361.43H346.8V361.43H346.94V361.48H347.09V361.44H347.23V361.5H347.38V361.42H347.52V361.5H347.67V361.49H347.81V361.5H347.96V361.49H348.11V361.49H348.25V361.5H348.4V361.49H348.54V361.44H348.69V361.4H348.83V361.45H348.98V361.5H349.12V361.49H349.27V361.48H349.41V361.44H349.56V361.44H349.7V361.5H349.85V361.42H349.99V361.48H350.14V361.39H350.28V361.5H350.43V361.5H350.58V361.47H350.72V361.5H350.87V361.46H351.01V361.43H351.16V361.4H351.3V361.48H351.45V361.5H351.59V361.44H351.74V361.49H351.88V361.48H352.03V361.5H352.17V361.41H352.32V361.49H352.46V361.49H352.61V361.5H352.76V361.5H352.9V361.5H353.05V361.46H353.19V361.49H353.34V361.49H353.48V361.43H353.63V361.48H353.77V361.4H353.92V361.5H354.06V361.4H354.21V361.45H354.35V361.45H354.5V361.48H354.64V361.43H354.79V361.46H354.93V361.5H355.08V361.42H355.23V361.48H355.37V361.48H355.52V361.42H355.66V361.43H355.81V361.49H355.95V361.47H356.1V361.48H356.24V361.49H356.39V361.5H356.53V361.48H356.68V361.48H356.82V361.48H356.97V361.4H357.11V361.5H357.26V361.48H357.4V361.5H357.55V361.42H357.7V361.49H357.84V361.5H357.99V361.49H358.13V361.44H358.28V361.42H358.42V361.49H358.57V361.44H358.71V361.47H358.86V361.45H359V361.49H359.15V361.48H359.29V361.48H359.44V361.5H359.58V361.48H359.73V361.49H359.88V361.5H360.02V361.44H360.17V361.41H360.31V361.49H360.46V361.49H360.6V361.44H360.75V361.48H360.89V361.5H361.04V361.43H361.18V361.5H361.33V361.47H361.47V361.49H361.62V361.38H361.76V361.5H361.91V361.5H362.05V361.47H362.2V361.5H362.35V361.4H362.49V361.5H362.64V361.43H362.78V361.5H362.93V361.46H363.07V361.5H363.22V361.49H363.36V361.46H363.51V361.4H363.65V361.5H363.8V361.5H363.94V361.4H364.09V361.49H364.23V361.43H364.38V361.49H364.52V361.5H364.67V361.48H364.82V361.46H364.96V361.48H365.11V361.46H365.25V361.42H365.4V361.45H365.54V361.42H365.69V361.41H365.83V361.5H365.98V361.49H366.12V361.47H366.27V361.5H366.41V361.5H366.56V361.42H366.7V361.49H366.85V361.47H367V361.5H367.14V361.5H367.29V361.45H367.43V361.46H367.58V361.48H367.72V361.43H367.87V361.44H368.01V361.42H368.16V361.49H368.3V361.5H368.45V361.48H368.59V361.5H368.74V361.42H368.88V361.49H369.03V361.49H369.17V361.5H369.32V361.47H369.47V361.42H369.61V361.5H369.76V361.5H369.9V361.49H370.05V361.43H370.19V361.39H370.34V361.22H370.48V361.23H370.63V361.1H370.77V361.25H370.92V361.24H371.06V361.2H371.21V361.07H371.35V360.88H371.5V360.59H371.64V361.06H371.79V360.28H371.94V360.94H372.08V360.93H372.23V360.8H372.37V360.63H372.52V360.6H372.66V360.63H372.81V359.96H372.95V360.74H373.1V360.64H373.24V360.62H373.39V360.43H373.53V359.34H373.68V360.39H373.82V360.51H373.97V359.56H374.12V360.26H374.26V360.31H374.41V360.14H374.55V360.12H374.7V360.02H374.84V358.68H374.99V358.29H375.13V358.48H375.28V360.01H375.42V358.38H375.57V359.5H375.71V358.15H375.86V358.51H376V358.95H376.15V359.71H376.29V359.56H376.44V359.49H376.59V359.58H376.73V359.47H376.88V359.4H377.02V357.91H377.17V359.41H377.31V357.6H377.46V359.54H377.6V359.4H377.75V359.42H377.89V358.29H378.04V358.58H378.18V359.38H378.33V358.18H378.47V358.06H378.62V359.59H378.76V358.26H378.91V359.43H379.06V359.61H379.2V359.23H379.35V358.15H379.49V359.19H379.64V359.23H379.78V359.67H379.93V359.39H380.07V359.7H380.22V359.64H380.36V358.84H380.51V359.56H380.65V358.85H380.8V359.73H380.94V359.48H381.09V359.73H381.24V358.36H381.38V359.87H381.53V359.65H381.67V359.89H381.82V359.75H381.96V359.25H382.11V359.99H382.25V359.65H382.4V359H382.54V359.93H382.69V360.11H382.83V359.54H382.98V359.93H383.12V359.96H383.27V360.09H383.41V360.15H383.56V360.19H383.71V358.92H383.85V359.47H384V359.58H384.14V360.32H384.29V359.73H384.43V360.35H384.58V360.31H384.72V360.37H384.87V360.43H385.01V359.62H385.16V359.72H385.3V360.36H385.45V359.85H385.59V360.53H385.74V360.42H385.88V359.71H386.03V360.66H386.18V360.58H386.32V360.71H386.47V360.29H386.61V360.72H386.76V360.73H386.9V360.4H387.05V360.83H387.19V360.12H387.34V360.72H387.48V360.74H387.63V360.08H387.77V360.65H387.92V359.68H388.06V360.48H388.21V360.43H388.36V360.42H388.5V360.54H388.65V360H388.79V360.48H388.94V360.63H389.08V360.36H389.23V360.24H389.37V359.56H389.52V359.52H389.66V359.65H389.81V359.67H389.95V359.88H390.1V359.73H390.24V359.66H390.39V358.77H390.53V359.05H390.68V359.35H390.83V357.94H390.97V359.12H391.12V358.57H391.26V358.41H391.41V357.44H391.55V357H391.7V356.24H391.84V355.49H391.99V353.58H392.13V351.03H392.28V352.83H392.42V351.2H392.57V351.06H392.71V349.7H392.86V346.18H393V347.06H393.15V345.53H393.3V344H393.44V345.65H393.59V343.61H393.73V342.95H393.88V342.31H394.02V342.59H394.17V340.97H394.31V341.38H394.46V334.25H394.6V338.87H394.75V336.53H394.89V339.45H395.04V339.17H395.18V337.87H395.33V340.31H395.48V341.44H395.62V339.67H395.77V342.78H395.91V343.67H396.06V338.81H396.2V344.66H396.35V345.33H396.49V345.07H396.64V343.15H396.78V345.3H396.93V345.04H397.07V347.36H397.22V343.54H397.36V348.21H397.51V347.91H397.65V347.25H397.8V346.53H397.95V348.99H398.09V348.62H398.24V349.22H398.38V349.31H398.53V347.46H398.67V348.31H398.82V347.89H398.96V350.68H399.11V350.12H399.25V351.2H399.4V351.12H399.54V351.74H399.69V352.73H399.83V353.75H399.98V352.96H400.12V353.48H400.27V354.77H400.42V354.58H400.56V355H400.71V355.02H400.85V355.67H401V355.9H401.14V353.98H401.29V354.46H401.43V356.36H401.58V355.04H401.72V356.55H401.87V356.44H402.01V356.21H402.16V355.95H402.3V356.61H402.45V356.7H402.6V356.7H402.74V356.34H402.89V357.21H403.03V356.78H403.18V354.16H403.32V356.86H403.47V355.63H403.61V356.39H403.76V356.1H403.9V356.26H404.05V356.72H404.19V352.41H404.34V355.53H404.48V356.09H404.63V352.38H404.77V354.17H404.92V355.88H405.07V352.48H405.21V353.02H405.36V353.59H405.5V355.36H405.65V353.94H405.79V354.59H405.94V349.94H406.08V355.02H406.23V350.37H406.37V354.43H406.52V350.58H406.66V350.52H406.81V353.34H406.95V354.2H407.1V354.43H407.24V351.72H407.39V354.47H407.54V353.07H407.68V351.44H407.83V350.43H407.97V352.24H408.12V350.13H408.26V354.04H408.41V351.76H408.55V353.79H408.7V351.46H408.84V354.28H408.99V354.42H409.13V351.4H409.28V354.06H409.42V352.9H409.57V353.54H409.72V353.44H409.86V352.79H410.01V351.86H410.15V353.38H410.3V353.45H410.44V349.2H410.59V352.75H410.73V349.2H410.88V351.83H411.02V352.21H411.17V349.79H411.31V352.23H411.46V349.74H411.6V351.66H411.75V350.89H411.89V349.51H412.04V351.29H412.19V351.48H412.33V348.18H412.48V351.23H412.62V351.99H412.77V347.3H412.91V349.46H413.06V347.57H413.2V353.02H413.35V353.14H413.49V350.2H413.64V353.24H413.78V353.3H413.93V353.06H414.07V351.73H414.22V349.2H414.36V352.48H414.51V352.25H414.66V346.92H414.8V352.32H414.95V352.26H415.09V346.81H415.24V347.51H415.38V352.52H415.53V345.49H415.67V347.66H415.82V351.21H415.96V351.63H416.11V345.03H416.25V349.14H416.4V350.48H416.54V347.01H416.69V345.77H416.84V351.01H416.98V349.24H417.13V349.23H417.27V347.49H417.42V347.02H417.56V347.74H417.71V346.16H417.85V347.53H418V348.11H418.14V348.93H418.29V343.78H418.43V343.02H418.58V343.92H418.72V346.28H418.87V341.94H419.01V343.43H419.16V345.54H419.31V345.33H419.45V342.06H419.6V339.05H419.74V338.51H419.89V336.84H420.03V337.57H420.18V331.26H420.32V341.29H420.47V340.69H420.61V329.6H420.76V329.51H420.9V338.78H421.05V339.68H421.19V342.33H421.34V334.38H421.48V341.09H421.63V343.12H421.78V340.93H421.92V341.76H422.07V340.19H422.21V343.4H422.36V342.54H422.5V342.56H422.65V342.77H422.79V341.91H422.94V337.3H423.08V340.94H423.23V333.48H423.37V334.75H423.52V338.37H423.66V342.23H423.81V340.62H423.96V340.19H424.1V336.37H424.25V342.66H424.39V345.06H424.54V343.75H424.68V339.22H424.83V344.95H424.97V345.75H425.12V344.71H425.26V346.08H425.41V344.75H425.55V347.46H425.7V343.78H425.84V348.94H425.99V344.29H426.13V348.45H426.28V347.54H426.43V347.6H426.57V347.63H426.72V346.61H426.86V340.36H427.01V345.99H427.15V344.53H427.3V345.61H427.44V344.85H427.59V344.75H427.73V338.08H427.88V340.15H428.02V343.99H428.17V336.46H428.31V342.74H428.46V343.65H428.6V344.87H428.75V346.83H428.9V346.53H429.04V348.76H429.19V344.92H429.33V350.25H429.48V349.63H429.62V347.93H429.77V352.32H429.91V352.98H430.06V351.79H430.2V353.08H430.35V354.34H430.49V353.91H430.64V355.77H430.78V356.2H430.93V356.61H431.08V357.36H431.22V357.46H431.37V358.26H431.51V358.09H431.66V358.57H431.8V358.14H431.95V359.13H432.09V358.91H432.24V359.72H432.38V359.65H432.53V359.35H432.67V359.82H432.82V359.68H432.96V359.12H433.11V359.35H433.25V359.05H433.4V359.44H433.55V359.49H433.69V360.05H433.84V359.72H433.98V360.03H434.13V359.83H434.27V359.89H434.42V359.69H434.56V360.12H434.71V360.15H434.85V360.07H435V360H435.14V360.14H435.29V360.09H435.43V359.9H435.58V359.94H435.72V360.13H435.87V360.15H436.02V359.99H436.16V360.01H436.31V360.09H436.45V360.11H436.6V360.11H436.74V360.05H436.89V360.11H437.03V360.01H437.18V359.19H437.32V359.67H437.47V359.63H437.61V359.23H437.76V360.07H437.9V359.68H438.05V359.2H438.2V359.62H438.34V359.06H438.49V359.62H438.63V359.88H438.78V359.41H438.92V359.88H439.07V359.69H439.21V359.02H439.36V359.75H439.5V359.1H439.65V357.72H439.79V355.26H439.94V354.64H440.08V355.28H440.23V354.15H440.37V354.87H440.52V354.91H440.67V355.38H440.81V354.63H440.96V354.95H441.1V354.5H441.25V355.22H441.39V354.57H441.54V355.49H441.68V354.95H441.83V355.15H441.97V354.99H442.12V355.24H442.26V354.68H442.41V354.48H442.55V354.43H442.7V354.7H442.84V355.03H442.99V355.65H443.14V356.96H443.28V358.01H443.43V358.54H443.57V357.51H443.72V357.24H443.86V357.38H444.01V355.96H444.15V356.16H444.3V354.14H444.44V354.4H444.59V352.36H444.73V353.29H444.88V352.54H445.02V353.74H445.17V352.92H445.32V350.42H445.46V353.35H445.61V352.98H445.75V351.11H445.9V352.14H446.04V348.84H446.19V352.83H446.33V347.74H446.48V347.7H446.62V350.92H446.77V351.75H446.91V351.5H447.06V344.93H447.2V338.66H447.35V351.21H447.49V347.31H447.64V341.2H447.79V349.73H447.93V352.77H448.08V352.81H448.22V352.81H448.37V349.12H448.51V353.86H448.66V351.3H448.8V349.68H448.95V352.11H449.09V353.85H449.24V354.36H449.38V350.63H449.53V352.46H449.67V351.61H449.82V352.55H449.96V354.43H450.11V354.41H450.26V355H450.4V355.01H450.55V355.54H450.69V356.44H450.84V358.5H450.98V357.9H451.13V358.31H451.27V358.92H451.42V358.86H451.56V359.12H451.71V359.36H451.85V359.16H452V359.26H452.14V359.14H452.29V359.3H452.44V358.98H452.58V359.18H452.73V359.33H452.87V358.86H453.02V358.96H453.16V359.29H453.31V359.36H453.45V359.65H453.6V358.6H453.74V359.69H453.89V359.73H454.03V359.74H454.18V359.87H454.32V359.54H454.47V359.18H454.61V359.91H454.76V360.01H454.91V359.69H455.05V360.16H455.2V360.28H455.34V360.32H455.49V360.47H455.63V360.15H455.78V360.52H455.92V360.23H456.07V360.25H456.21V360.22H456.36V360.71H456.5V360.66H456.65V360.6H456.79V360.7H456.94V360.75H457.08V360.78H457.23V360.78H457.38V360.82H457.52V360.68H457.67V360.82H457.81V360.73H457.96V360.64H458.1V360.31H458.25V360.67H458.39V360.85H458.54V360.62H458.68V360.54H458.83V360.78H458.97V360.06H459.12V360.66H459.26V360.6H459.41V360.41H459.56V360.43H459.7V360.39H459.85V359.7H459.99V360.07H460.14V360.09H460.28V359.98H460.43V359.65H460.57V358.94H460.72V358.44H460.86V359.61H461.01V359.32H461.15V358.83H461.3V358.34H461.44V357.84H461.59V358.79H461.73V358.33H461.88V358.65H462.03V358.11H462.17V357.6H462.32V357.88H462.46V358.06H462.61V358.11H462.75V357.22H462.9V357.39H463.04V357.46H463.19V356.67H463.33V356.86H463.48V357.33H463.62V356.21H463.77V356.73H463.91V356.75H464.06V356.29H464.2V356.3H464.35V356.28H464.5V356.38H464.64V356.13H464.79V356.9H464.93V356.08H465.08V356.52H465.22V356.63H465.37V356.48H465.51V356.92H465.66V356.8H465.8V356.09H465.95V356.88H466.09V356.72H466.24V357.09H466.38V357.25H466.53V357.01H466.68V356.43H466.82V356.47H466.97V356.71H467.11V357.2H467.26V356.62H467.4V357.16H467.55V356.48H467.69V357.44H467.84V357.32H467.98V356.27H468.13V357.56H468.27V357.45H468.42V357.73H468.56V357.7H468.71V356.27H468.85V356.87H469V357.56H469.15V357.78H469.29V357.72H469.44V357.5H469.58V357.28H469.73V357.77H469.87V357.33H470.02V356.84H470.16V357.8H470.31V357.2H470.45V357.64H470.6V358H470.74V357.75H470.89V357.5H471.03V357.26H471.18V358H471.32V358.05H471.47V357.97H471.62V358.03H471.76V357.35H471.91V357.17H472.05V357.86H472.2V357.43H472.34V357.59H472.49V357.73H472.63V358.43H472.78V358.57H472.92V358.42H473.07V358.81H473.21V358.41H473.36V358.73H473.5V358.8H473.65V358.82H473.8V358.76H473.94V359.38H474.09V359.52H474.23V359.67H474.38V359.49H474.52V360.22H474.67V360.27H474.81V360.65H474.96V360.72H475.1V360.78H475.25V360.56H475.39V360.6H475.54V360.9H475.68V360.61H475.83V360.6H475.97V360.87H476.12V360.85H476.27V360.87H476.41V360.72H476.56V360.45H476.7V360.43H476.85V360.63H476.99V360.86H477.14V360.84H477.28V360.67H477.43V360.69H477.57V360.93H477.72V360.74H477.86V360.96H478.01V361.01H478.15V360.96H478.3V361.08H478.44V360.88H478.59V360.98H478.74V361.02H478.88V361.07H479.03V361.08H479.17V361.1H479.32V361.13H479.46V361.06H479.61V360.92H479.75V361.14H479.9V361.08H480.04V360.78H480.19V360.82H480.33V361.08H480.48V361.03H480.62V361.13H480.77V361.15H480.92V360.97H481.06V361.07H481.21V361.18H481.35V361.23H481.5V361.26H481.64V361.24H481.79V361.2H481.93V361.28H482.08V361.11H482.22V361.28H482.37V361.24H482.51V361.13H482.66V361.26H482.8V361.09H482.95V361.25H483.09V361.23H483.24V361.15H483.39V361.21H483.53V361.15H483.68V361.3H483.82V361.21H483.97V361.28H484.11V361.31H484.26V361.21H484.4V361.21H484.55V361.29H484.69V361.23H484.84V361.32H484.98V361.2H485.13V361.26H485.27V361.32H485.42V361.14H485.56V361.26H485.71V361.32H485.86V361.34H486V361.22H486.15V361.14H486.29V361.13H486.44V361.32H486.58V361.36H486.73V361.36H486.87V361.35H487.02V361.31H487.16V361.21H487.31V361.37H487.45V361.28H487.6V361.35H487.74V361.17H487.89V361.31H488.04V361.38H488.18V361.22H488.33V361.21H488.47V361.2H488.62V361.29H488.76V361.36H488.91V361.33H489.05V361.23H489.2V361.08H489.34V361.21H489.49V361.34H489.63V361.04H489.78V361.24H489.92V361.21H490.07V361.23H490.21V361.3H490.36V361.29H490.51V361.3H490.65V361.29H490.8V360.9H490.94V361.22H491.09V361.23H491.23V361.19H491.38V361.23H491.52V360.95H491.67V361.01H491.81V360.75H491.96V360.91H492.1V360.97H492.25V361.17H492.39V360.93H492.54V361.02H492.68V360.94H492.83V360.74H492.98V361.12H493.12V360.71H493.27V361H493.41V360.48H493.56V361.04H493.7V361.07H493.85V361H493.99V361.02H494.14V360.76H494.28V361.05H494.43V360.56H494.57V360.84H494.72V361.08H494.86V361.13H495.01V361.14H495.16V360.88H495.3V361.11H495.45V360.97H495.59V360.78H495.74V361.13H495.88V360.93H496.03V361.21H496.17V361.21H496.32V361.1H496.46V361.02H496.61V360.92H496.75V361.27H496.9V361.25H497.04V361.23H497.19V361.23H497.33V360.87H497.48V361.25H497.63V360.95H497.77V361.05H497.92V361.22H498.06V361.22H498.21V360.74H498.35V360.81H498.5V361.22H498.64V360.91H498.79V361.15H498.93V361.05H499.08V360.85H499.22V361.17H499.37V361.08H499.51V360.84H499.66V361.16H499.8V361.17H499.95V361.14H500.1V361.09H500.24V361H500.39V360.65H500.53V360.82H500.68V361.03H500.82V361.18H500.97V360.68H501.11V361.22H501.26V361.2H501.4V361.22H501.55V361.07H501.69V361.18H501.84V360.88H501.98V360.92H502.13V361.1H502.28V361.24H502.42V361.24H502.57V361H502.71V361.25H502.86V360.95H503V361.27H503.15V361.26H503.29V361.15H503.44V361.23H503.58V361.29H503.73V361.36H503.87V361.18H504.02V361.37H504.16V361.3H504.31V361.39H504.45V361.4H504.6V361.44H504.75V361.48H504.89V361.49H505.04V361.5H505.18V361.5H505.33V361.5H505.47V361.5H505.62V361.5H505.76V361.5H505.91V361.5H506.05V361.5H506.2V361.5H506.34V361.5H506.49V361.5H506.63V361.5H506.78V361.5H506.92V361.5H507.07V361.5H507.22V361.5H507.36V361.5H507.51V361.5H507.65V361.5H507.8V361.5H507.94V361.5H508.09V361.5H508.23V361.5H508.38V361.5H508.52V361.5H508.67V361.5H508.81V361.5H508.96V361.5H509.1V361.5H509.25V361.5H509.4V361.5H509.54V361.5H509.69V361.5H509.83V361.5H509.98V361.5H510.12V361.5H510.27V361.5H510.41V361.5H510.56V361.5H510.7V361.5H510.85V361.5H510.99V361.5H511.14V361.5H511.28V361.5H511.43V361.5H511.57V361.5H511.72V361.5H511.87V361.5H512.01V361.5H512.16V361.5H512.3V361.5H512.45V361.5H512.59V361.5H512.74V361.5H512.88V361.5H513.03V361.5H513.17V361.5H513.32V361.5H513.46V361.5H513.61V361.5H513.75V361.5Z" fill="#999999"/>
<rect x="428.15" y="304.04" width="0.5" height="57.46" fill="#aaa"/>
<rect x="435.15" y="349.11" width="0.5" height="12.39" fill="#bbb"/>
<line x1="291" y1="291.7" x2="291" y2="362.15" stroke="#333333" stroke-width="1.3"/>
<line x1="290.35" y1="361.5" x2="513.8" y2="361.5" stroke="#333333" stroke-width="1.3"/>
<line x1="287.8" y1="361.5" x2="291" y2="361.5" stroke="#333333" stroke-width="0.9"/>
<text transform="translate(284.7 363.6) scale(0.1)" font-size="58" text-anchor="end" stroke="#1a1a1a" stroke-width="1.2" fill="#1a1a1a">0</text>
<line x1="287.8" y1="338.97" x2="291" y2="338.97" stroke="#333333" stroke-width="0.9"/>
<text transform="translate(284.7 341.07) scale(0.1)" font-size="58" text-anchor="end" stroke="#1a1a1a" stroke-width="1.2" fill="#1a1a1a">100</text>
<line x1="287.8" y1="316.43" x2="291" y2="316.43" stroke="#333333" stroke-width="0.9"/>
<text transform="translate(284.7 318.53) scale(0.1)" font-size="58" text-anchor="end" stroke="#1a1a1a" stroke-width="1.2" fill="#1a1a1a">200</text>
<line x1="287.8" y1="293.9" x2="291" y2="293.9" stroke="#333333" stroke-width="0.9"/>
<text transform="translate(284.7 296) scale(0.1)" font-size="58" text-anchor="end" stroke="#1a1a1a" stroke-width="1.2" fill="#1a1a1a">300</text>
<line x1="291" y1="361.5" x2="291" y2="364.3" stroke="#333333" stroke-width="1"/>
<text transform="translate(293.5 370.8) rotate(-45) scale(0.1)" font-size="50" text-anchor="end" stroke="#1a1a1a" stroke-width="1.2" fill="#1a1a1a">Feb 15, 2020</text>
<line x1="298.12" y1="361.5" x2="298.12" y2="364.3" stroke="#333333" stroke-width="1"/>
<text transform="translate(300.62 370.8) rotate(-45) scale(0.1)" font-size="50" text-anchor="end" stroke="#1a1a1a" stroke-width="1.2" fill="#1a1a1a">Apr 04, 2020</text>
<line x1="305.24" y1="361.5" x2="305.24" y2="364.3" stroke="#333333" stroke-width="1"/>
<text transform="translate(307.74 370.8) rotate(-45) scale(0.1)" font-size="50" text-anchor="end" stroke="#1a1a1a" stroke-width="1.2" fill="#1a1a1a">May 23, 2020</text>
<line x1="312.36" y1="361.5" x2="312.36" y2="364.3" stroke="#333333" stroke-width="1"/>
<text transform="translate(314.86 370.8) rotate(-45) scale(0.1)" font-size="50" text-anchor="end" stroke="#1a1a1a" stroke-width="1.2" fill="#1a1a1a">Jul 11, 2020</text>
<line x1="319.48" y1="361.5" x2="319.48" y2="364.3" stroke="#333333" stroke-width="1"/>
<text transform="translate(321.98 370.8) rotate(-45) scale(0.1)" font-size="50" text-anchor="end" stroke="#1a1a1a" stroke-width="1.2" fill="#1a1a1a">Aug 29, 2020</text>
<line x1="326.6" y1="361.5" x2="326.6" y2="364.3" stroke="#333333" stroke-width="1"/>
<text transform="translate(329.1 370.8) rotate(-45) scale(0.1)" font-size="50" text-anchor="end" stroke="#1a1a1a" stroke-width="1.2" fill="#1a1a1a">Oct 17, 2020</text>
<line x1="333.72" y1="361.5" x2="333.72" y2="364.3" stroke="#333333" stroke-width="1"/>
<text transform="translate(336.22 370.8) rotate(-45) scale(0.1)" font-size="50" text-anchor="end" stroke="#1a1a1a" stroke-width="1.2" fill="#1a1a1a">Dec 05, 2020</text>
<line x1="340.84" y1="361.5" x2="340.84" y2="364.3" stroke="#333333" stroke-width="1"/>
<text transform="translate(343.34 370.8) rotate(-45) scale(0.1)" font-size="50" text-anchor="end" stroke="#1a1a1a" stroke-width="1.2" fill="#1a1a1a">Jan 23, 2021</text>
<line x1="347.96" y1="361.5" x2="347.96" y2="364.3" stroke="#333333" stroke-width="1"/>
<text transform="translate(350.46 370.8) rotate(-45) scale(0.1)" font-size="50" text-anchor="end" stroke="#1a1a1a" stroke-width="1.2" fill="#1a1a1a">Mar 13, 2021</text>
<line x1="355.08" y1="361.5" x2="355.08" y2="364.3" stroke="#333333" stroke-width="1"/>
<text transform="translate(357.58 370.8) rotate(-45) scale(0.1)" font-size="50" text-anchor="end" stroke="#1a1a1a" stroke-width="1.2" fill="#1a1a1a">May 01, 2021</text>
<line x1="362.2" y1="361.5" x2="362.2" y2="364.3" stroke="#333333" stroke-width="1"/>
<text transform="translate(364.7 370.8) rotate(-45) scale(0.1)" font-size="50" text-anchor="end" stroke="#1a1a1a" stroke-width="1.2" fill="#1a1a1a">Jun 19, 2021</text>
<line x1="369.32" y1="361.5" x2="369.32" y2="364.3" stroke="#333333" stroke-width="1"/>
<text transform="translate(371.82 370.8) rotate(-45) scale(0.1)" font-size="50" text-anchor="end" stroke="#1a1a1a" stroke-width="1.2" fill="#1a1a1a">Aug 07, 2021</text>
<line x1="376.44" y1="361.5" x2="376.44" y2="364.3" stroke="#333333" stroke-width="1"/>
<text transform="translate(378.94 370.8) rotate(-45) scale(0.1)" font-size="50" text-anchor="end" stroke="#1a1a1a" stroke-width="1.2" fill="#1a1a1a">Sep 25, 2021</text>
<line x1="383.56" y1="361.5" x2="383.56" y2="364.3" stroke="#333333" stroke-width="1"/>
<text transform="translate(386.06 370.8) rotate(-45) scale(0.1)" font-size="50" text-anchor="end" stroke="#1a1a1a" stroke-width="1.2" fill="#1a1a1a">Nov 13, 2021</text>
<line x1="390.68" y1="361.5" x2="390.68" y2="364.3" stroke="#333333" stroke-width="1"/>
<text transform="translate(393.18 370.8) rotate(-45) scale(0.1)" font-size="50" text-anchor="end" stroke="#1a1a1a" stroke-width="1.2" fill="#1a1a1a">Jan 01, 2022</text>
<line x1="397.8" y1="361.5" x2="397.8" y2="364.3" stroke="#333333" stroke-width="1"/>
<text transform="translate(400.3 370.8) rotate(-45) scale(0.1)" font-size="50" text-anchor="end" stroke="#1a1a1a" stroke-width="1.2" fill="#1a1a1a">Feb 19, 2022</text>
<line x1="404.92" y1="361.5" x2="404.92" y2="364.3" stroke="#333333" stroke-width="1"/>
<text transform="translate(407.42 370.8) rotate(-45) scale(0.1)" font-size="50" text-anchor="end" stroke="#1a1a1a" stroke-width="1.2" fill="#1a1a1a">Apr 09, 2022</text>
<line x1="412.04" y1="361.5" x2="412.04" y2="364.3" stroke="#333333" stroke-width="1"/>
<text transform="translate(414.54 370.8) rotate(-45) scale(0.1)" font-size="50" text-anchor="end" stroke="#1a1a1a" stroke-width="1.2" fill="#1a1a1a">May 28, 2022</text>
<line x1="419.16" y1="361.5" x2="419.16" y2="364.3" stroke="#333333" stroke-width="1"/>
<text transform="translate(421.66 370.8) rotate(-45) scale(0.1)" font-size="50" text-anchor="end" stroke="#1a1a1a" stroke-width="1.2" fill="#1a1a1a">Jul 16, 2022</text>
<line x1="426.28" y1="361.5" x2="426.28" y2="364.3" stroke="#333333" stroke-width="1"/>
<text transform="translate(428.78 370.8) rotate(-45) scale(0.1)" font-size="50" text-anchor="end" stroke="#1a1a1a" stroke-width="1.2" fill="#1a1a1a">Sep 03, 2022</text>
<line x1="433.4" y1="361.5" x2="433.4" y2="364.3" stroke="#333333" stroke-width="1"/>
<text transform="translate(435.9 370.8) rotate(-45) scale(0.1)" font-size="50" text-anchor="end" stroke="#1a1a1a" stroke-width="1.2" fill="#1a1a1a">Oct 22, 2022</text>
<line x1="440.52" y1="361.5" x2="440.52" y2="364.3" stroke="#333333" stroke-width="1"/>
<text transform="translate(443.02 370.8) rotate(-45) scale(0.1)" font-size="50" text-anchor="end" stroke="#1a1a1a" stroke-width="1.2" fill="#1a1a1a">Dec 10, 2022</text>
<line x1="447.64" y1="361.5" x2="447.64" y2="364.3" stroke="#333333" stroke-width="1"/>
<text transform="translate(450.14 370.8) rotate(-45) scale(0.1)" font-size="50" text-anchor="end" stroke="#1a1a1a" stroke-width="1.2" fill="#1a1a1a">Jan 28, 2023</text>
<line x1="454.76" y1="361.5" x2="454.76" y2="364.3" stroke="#333333" stroke-width="1"/>
<text transform="translate(457.26 370.8) rotate(-45) scale(0.1)" font-size="50" text-anchor="end" stroke="#1a1a1a" stroke-width="1.2" fill="#1a1a1a">Mar 18, 2023</text>
<line x1="461.88" y1="361.5" x2="461.88" y2="364.3" stroke="#333333" stroke-width="1"/>
<text transform="translate(464.38 370.8) rotate(-45) scale(0.1)" font-size="50" text-anchor="end" stroke="#1a1a1a" stroke-width="1.2" fill="#1a1a1a">May 06, 2023</text>
<line x1="469" y1="361.5" x2="469" y2="364.3" stroke="#333333" stroke-width="1"/>
<text transform="translate(471.5 370.8) rotate(-45) scale(0.1)" font-size="50" text-anchor="end" stroke="#1a1a1a" stroke-width="1.2" fill="#1a1a1a">Jun 24, 2023</text>
<line x1="476.12" y1="361.5" x2="476.12" y2="364.3" stroke="#333333" stroke-width="1"/>
<text transform="translate(478.62 370.8) rotate(-45) scale(0.1)" font-size="50" text-anchor="end" stroke="#1a1a1a" stroke-width="1.2" fill="#1a1a1a">Aug 12, 2023</text>
<line x1="483.24" y1="361.5" x2="483.24" y2="364.3" stroke="#333333" stroke-width="1"/>
<text transform="translate(485.74 370.8) rotate(-45) scale(0.1)" font-size="50" text-anchor="end" stroke="#1a1a1a" stroke-width="1.2" fill="#1a1a1a">Sep 30, 2023</text>
<line x1="490.36" y1="361.5" x2="490.36" y2="364.3" stroke="#333333" stroke-width="1"/>
<text transform="translate(492.86 370.8) rotate(-45) scale(0.1)" font-size="50" text-anchor="end" stroke="#1a1a1a" stroke-width="1.2" fill="#1a1a1a">Nov 18, 2023</text>
<line x1="497.48" y1="361.5" x2="497.48" y2="364.3" stroke="#333333" stroke-width="1"/>
<text transform="translate(499.98 370.8) rotate(-45) scale(0.1)" font-size="50" text-anchor="end" stroke="#1a1a1a" stroke-width="1.2" fill="#1a1a1a">Jan 06, 2024</text>
<line x1="504.6" y1="361.5" x2="504.6" y2="364.3" stroke="#333333" stroke-width="1"/>
<text transform="translate(507.1 370.8) rotate(-45) scale(0.1)" font-size="50" text-anchor="end" stroke="#1a1a1a" stroke-width="1.2" fill="#1a1a1a">Feb 24, 2024</text>
<text transform="translate(269.15 326.7) rotate(-90) scale(0.1)" font-size="63" text-anchor="middle" textLength="740" lengthAdjust="spacingAndGlyphs" stroke="#1a1a1a" stroke-width="2.5" fill="#1a1a1a">Novel coronavirus daily deaths</text>
<text transform="translate(393.7 285.9) scale(0.1)" font-size="77" text-anchor="middle" fill="#1a1a1a">Australia</text>
<text transform="translate(256.5 13.3) scale(0.1)" font-size="77" text-anchor="middle" fill="#1a1a1a">Daily Deaths</text>
<line x1="59" y1="43.3" x2="51.93" y2="54.29" stroke="#b5122f" stroke-width="1.5"/>
<polygon points="48.9,59 50.36,51.38 51.93,54.29 55.23,54.51" fill="#b5122f"/>
<line x1="94.9" y1="44.2" x2="88.11" y2="54.88" stroke="#b5122f" stroke-width="1.5"/>
<polygon points="85.1,59.6 86.52,51.97 88.11,54.88 91.41,55.08" fill="#b5122f"/>
<rect x="67.7" y="444.1" width="377.9" height="14.95" fill="#e6e6f2"/>
<rect x="67.7" y="474" width="377.9" height="15" fill="#e6e6f2"/>
<rect x="67.7" y="504" width="377.9" height="14.95" fill="#e6e6f2"/>
<line x1="67.7" y1="418.2" x2="445.6" y2="418.2" stroke="#3a3a3a" stroke-width="0.9"/>
<line x1="67.7" y1="444.1" x2="445.6" y2="444.1" stroke="#3a3a3a" stroke-width="0.9"/>
<line x1="67.7" y1="459.05" x2="445.6" y2="459.05" stroke="#3a3a3a" stroke-width="0.9"/>
<line x1="67.7" y1="474" x2="445.6" y2="474" stroke="#3a3a3a" stroke-width="0.9"/>
<line x1="67.7" y1="489" x2="445.6" y2="489" stroke="#3a3a3a" stroke-width="0.9"/>
<line x1="67.7" y1="504" x2="445.6" y2="504" stroke="#3a3a3a" stroke-width="0.9"/>
<line x1="67.7" y1="518.95" x2="445.6" y2="518.95" stroke="#3a3a3a" stroke-width="0.9"/>
<line x1="67.7" y1="533.9" x2="445.6" y2="533.9" stroke="#3a3a3a" stroke-width="0.9"/>
<line x1="67.7" y1="417.8" x2="67.7" y2="534.3" stroke="#3a3a3a" stroke-width="0.9"/>
<line x1="143.3" y1="417.8" x2="143.3" y2="534.3" stroke="#3a3a3a" stroke-width="0.9"/>
<line x1="218.9" y1="417.8" x2="218.9" y2="534.3" stroke="#3a3a3a" stroke-width="0.9"/>
<line x1="294.5" y1="417.8" x2="294.5" y2="534.3" stroke="#3a3a3a" stroke-width="0.9"/>
<line x1="369.7" y1="417.8" x2="369.7" y2="534.3" stroke="#3a3a3a" stroke-width="0.9"/>
<line x1="445.6" y1="417.8" x2="445.6" y2="534.3" stroke="#3a3a3a" stroke-width="0.9"/>
<text transform="translate(104.5 428.8) scale(0.1)" font-size="74" text-anchor="middle" font-weight="bold" fill="#1a1a1a">Country</text>
<text transform="translate(180.1 428.8) scale(0.1)" font-size="74" text-anchor="middle" font-weight="bold" fill="#1a1a1a">Confirmed</text>
<text transform="translate(180.1 437.7) scale(0.1)" font-size="74" text-anchor="middle" font-weight="bold" fill="#1a1a1a">COVID-19 Cases</text>
<text transform="translate(255.7 428.8) scale(0.1)" font-size="74" text-anchor="middle" font-weight="bold" fill="#1a1a1a">COVID-19</text>
<text transform="translate(255.7 437.7) scale(0.1)" font-size="74" text-anchor="middle" font-weight="bold" fill="#1a1a1a">Deaths</text>
<text transform="translate(331.1 428.8) scale(0.1)" font-size="74" text-anchor="middle" font-weight="bold" fill="#1a1a1a">Case-Fatality</text>
<text transform="translate(331.1 437.7) scale(0.1)" font-size="74" text-anchor="middle" font-weight="bold" fill="#1a1a1a">Rate</text>
<text transform="translate(406.65 428.8) scale(0.1)" font-size="74" text-anchor="middle" font-weight="bold" fill="#1a1a1a">Deaths per 100K</text>
<text transform="translate(406.65 437.7) scale(0.1)" font-size="74" text-anchor="middle" font-weight="bold" fill="#1a1a1a">Population</text>
<text transform="translate(104.7 452.5) scale(0.1)" font-size="74" text-anchor="middle" fill="#1a1a1a">Sweden</text>
<text transform="translate(180.3 452.5) scale(0.1)" font-size="77" text-anchor="middle" fill="#1a1a1a">2,699,339</text>
<text transform="translate(255.9 452.5) scale(0.1)" font-size="77" text-anchor="middle" fill="#1a1a1a">23,777</text>
<text transform="translate(331.3 452.5) scale(0.1)" font-size="77" text-anchor="middle" fill="#1a1a1a">0.9%</text>
<text transform="translate(406.85 452.5) scale(0.1)" font-size="77" text-anchor="middle" fill="#1a1a1a">235.43</text>
<text transform="translate(104.7 467.45) scale(0.1)" font-size="74" text-anchor="middle" fill="#1a1a1a">Finland</text>
<text transform="translate(180.3 467.45) scale(0.1)" font-size="77" text-anchor="middle" fill="#1a1a1a">1,463,644</text>
<text transform="translate(255.9 467.45) scale(0.1)" font-size="77" text-anchor="middle" fill="#1a1a1a">8,967</text>
<text transform="translate(331.3 467.45) scale(0.1)" font-size="77" text-anchor="middle" fill="#1a1a1a">0.6%</text>
<text transform="translate(406.85 467.45) scale(0.1)" font-size="77" text-anchor="middle" fill="#1a1a1a">161.84</text>
<text transform="translate(104.7 482.4) scale(0.1)" font-size="74" text-anchor="middle" fill="#1a1a1a">Denmark</text>
<text transform="translate(180.3 482.4) scale(0.1)" font-size="77" text-anchor="middle" fill="#1a1a1a">3,451,036</text>
<text transform="translate(255.9 482.4) scale(0.1)" font-size="77" text-anchor="middle" fill="#1a1a1a">8,345</text>
<text transform="translate(331.3 482.4) scale(0.1)" font-size="77" text-anchor="middle" fill="#1a1a1a">0.2%</text>
<text transform="translate(406.85 482.4) scale(0.1)" font-size="77" text-anchor="middle" fill="#1a1a1a">142.96</text>
<text transform="translate(104.7 497.4) scale(0.1)" font-size="74" text-anchor="middle" fill="#1a1a1a">Norway</text>
<text transform="translate(180.3 497.4) scale(0.1)" font-size="77" text-anchor="middle" fill="#1a1a1a">1,479,506</text>
<text transform="translate(255.9 497.4) scale(0.1)" font-size="77" text-anchor="middle" fill="#1a1a1a">5,213</text>
<text transform="translate(331.3 497.4) scale(0.1)" font-size="77" text-anchor="middle" fill="#1a1a1a">0.4%</text>
<text transform="translate(406.85 497.4) scale(0.1)" font-size="77" text-anchor="middle" fill="#1a1a1a">96.16</text>
<text transform="translate(104.7 512.4) scale(0.1)" font-size="74" text-anchor="middle" fill="#1a1a1a">Iceland</text>
<text transform="translate(180.3 512.4) scale(0.1)" font-size="77" text-anchor="middle" fill="#1a1a1a">209,137</text>
<text transform="translate(255.9 512.4) scale(0.1)" font-size="77" text-anchor="middle" fill="#1a1a1a">263</text>
<text transform="translate(331.3 512.4) scale(0.1)" font-size="77" text-anchor="middle" fill="#1a1a1a">0.1%</text>
<text transform="translate(406.85 512.4) scale(0.1)" font-size="77" text-anchor="middle" fill="#1a1a1a">77.07</text>
<text transform="translate(104.7 527.35) scale(0.1)" font-size="74" text-anchor="middle" fill="#1a1a1a">Australia</text>
<text transform="translate(180.3 527.35) scale(0.1)" font-size="77" text-anchor="middle" fill="#1a1a1a">11,399,460</text>
<text transform="translate(255.9 527.35) scale(0.1)" font-size="77" text-anchor="middle" fill="#1a1a1a">19,574</text>
<text transform="translate(331.3 527.35) scale(0.1)" font-size="77" text-anchor="middle" fill="#1a1a1a">0.2%</text>
<text transform="translate(406.85 527.35) scale(0.1)" font-size="77" text-anchor="middle" fill="#1a1a1a">76.88</text>
<rect x="0.55" y="0.55" width="518.9" height="540.9" fill="none" stroke="#555" stroke-width="1.1"/>
</svg>
</body></html>
